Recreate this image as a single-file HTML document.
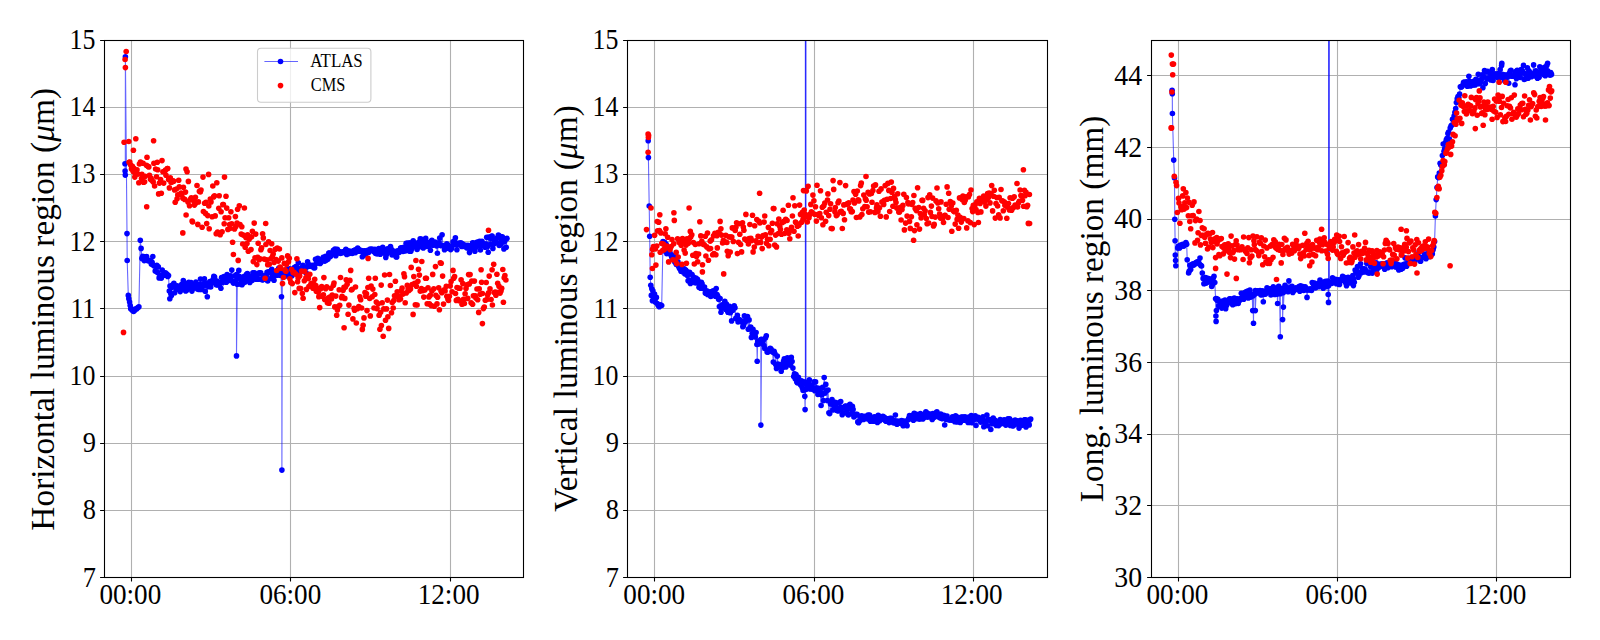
<!DOCTYPE html>
<html lang="en"><head><meta charset="utf-8"><title>Luminous region</title>
<style>html,body{margin:0;padding:0;background:#fff}body{width:1600px;height:640px;overflow:hidden}svg{display:block}text{font-family:"Liberation Serif","DejaVu Serif",serif;fill:#000}</style></head>
<body>
<svg width="1600" height="640" viewBox="0 0 1600 640">
<rect width="1600" height="640" fill="#fff"/>
<g>
<clipPath id="c0"><rect x="104.5" y="40.5" width="419" height="537"/></clipPath>
<path d="M131.5 40.5V577.5M290.5 40.5V577.5M450.5 40.5V577.5M104.5 577.5H523.5M104.5 510.5H523.5M104.5 443.5H523.5M104.5 376.5H523.5M104.5 308.5H523.5M104.5 241.5H523.5M104.5 174.5H523.5M104.5 107.5H523.5M104.5 40.5H523.5" stroke="#b0b0b0" stroke-width="1.1" fill="none"/>
<g clip-path="url(#c0)">
<path d="M125 163.7 L125.1 171.1 L125.3 175.1 L125.4 56.8 L127 233.6 L127.2 260.5 L128.3 295.4 L128.8 298.8 L129.6 302.1 L130.2 305.5 L130.7 308.8 L131.5 308.8 L132.3 310.2 L133.6 311.5 L134.7 310.2 L135.8 308.8 L136.8 308.8 L137.9 307.5 L138.9 306.8 L140.3 240.3 L141.1 248.4 L141.9 258.4 L142.7 256.4 L143.5 257.5 L144.2 260.6 L145 256.8 L145.8 259.5 L146.6 256.5 L147.4 260.1 L148.1 260.7 L148.9 260.4 L149.7 260.8 L150.5 261 L151.3 264.1 L152.1 262.3 L152.8 256.5 L153.6 265.6 L154.4 265.7 L155.2 271.1 L156 266.5 L156.8 265.3 L157.5 272.4 L158.3 266.8 L159.1 277.9 L159.9 275.1 L160.7 275.5 L161.4 278.1 L162.2 270 L163 275.2 L163.8 273.9 L164.6 275.2 L165.4 272.7 L166.1 275.3 L166.9 274 L167.7 276.4 L168.5 275.5 L169.3 291 L169.8 298.8 L170 286.1 L170.8 293.5 L171.4 295.4 L171.6 287.6 L172.4 285.1 L173.2 285 L173.9 283.2 L174.7 292.7 L175.5 287.5 L176.3 288.9 L177.1 285.9 L177.9 289.2 L178.7 288.1 L179.4 288 L180.2 291.6 L181 285.5 L181.8 284.4 L182.6 288.6 L183.3 280.6 L184.1 286.9 L184.9 286 L185.7 290.9 L186.5 283.6 L187.2 289.8 L188 285.4 L188.8 282.4 L189.6 285 L190.4 288.5 L191.1 282.5 L191.9 291.1 L192.7 288.8 L193.5 284.8 L194.3 286.6 L195.1 286.9 L195.9 282.1 L196.6 284.6 L197.4 288.9 L198.2 284.8 L199 289.4 L199.8 284.6 L200.5 279.1 L201.3 289.4 L202.1 285.5 L202.9 286.3 L203.7 283.6 L204.4 278.9 L205.2 291.2 L206 283.4 L206.8 285.5 L207.3 296.8 L207.6 283.2 L208.3 286.6 L209.1 284 L209.9 281.5 L210.7 287 L211.5 283 L212.3 282.7 L213 279.5 L213.8 276.4 L214.6 277 L215.4 281.1 L216.2 284.7 L217 281 L217.7 284.9 L218.5 283.8 L219.3 284.7 L220.1 282.2 L220.9 288.3 L221.6 277.5 L222.4 282.8 L223.2 282 L224 276.5 L224.8 278.9 L225.5 281.2 L226.3 282.2 L227.1 274.5 L227.9 279.3 L228.7 279.1 L229.4 280.4 L230.2 275.7 L231 277.2 L231.8 270.1 L232.6 281.2 L233.4 283.1 L234.2 282.5 L234.9 275.8 L235.7 280.8 L236.5 274.6 L236.5 355.9 L237.3 284.3 L238.1 278.1 L238.8 270.4 L239.6 276.5 L240.4 284.1 L241.2 281.2 L242 284.8 L242.7 278.5 L243.5 282.8 L244.3 276.3 L245.1 281.9 L245.9 276.9 L246.6 274.3 L247.4 273.5 L248.2 278.7 L249 280 L249.8 282.4 L250.6 278.3 L251.3 276.4 L252.1 280.5 L252.9 272.8 L253.7 276.6 L254.5 272.8 L255.3 275.5 L256 279.2 L256.8 276.9 L257.6 278.8 L258.4 279.3 L259.2 272.9 L259.9 273.5 L260.7 272.7 L261.5 278.9 L262.3 280 L263.1 279.6 L263.8 275.7 L264.6 276.4 L265.4 276.1 L266.2 276 L267 272.4 L267.7 281 L268.5 271.7 L269.3 272.7 L270.1 272.5 L270.9 278.5 L271.7 269.4 L272.5 275.9 L273.2 273.6 L274 280.3 L274.8 271.6 L275.6 275.5 L276.4 272.6 L277.1 275.2 L277.9 270.1 L278.7 268.4 L279.5 268.9 L280.3 275.5 L281 274 L281.5 296.8 L281.8 272 L281.9 470.1 L282.3 275.2 L282.6 274.5 L283.4 272.3 L284.2 272 L285 275.7 L285.7 273.5 L286.5 270.1 L287.3 269.7 L288.1 276.3 L288.9 272.6 L289.7 268.9 L290.4 270.6 L291.2 273 L292 275.8 L292.8 270.7 L293.6 269.5 L294.3 267.5 L295.1 271.7 L295.9 266.6 L296.7 273 L297.5 267.7 L298.3 262.7 L299 269.5 L299.8 271.8 L300.6 271.2 L301.4 269.9 L302.2 267.9 L302.9 265.4 L303.7 267.1 L304.5 271.5 L305.3 267.9 L306.1 272.9 L306.8 266.9 L307.6 261.9 L308.4 265.6 L309.2 264.8 L310 266.2 L310.8 265.8 L311.6 266.5 L312.3 265.2 L313.1 265.8 L313.9 267.7 L314.7 267.8 L315.5 259.3 L316.2 263.3 L317 261.5 L317.8 258.4 L318.6 262.8 L319.4 262.5 L320.1 263.4 L320.9 262.5 L321.7 260.7 L322.5 258.7 L323.3 257.4 L324 258.8 L324.8 261.1 L325.6 256.4 L326.4 260.1 L327.2 258.9 L328 258.9 L328.8 253.1 L329.5 253.1 L330.3 256.6 L331.1 255.6 L331.9 253.4 L332.7 252.5 L333.4 250.3 L334.2 252.1 L335 249.1 L335.8 255.8 L336.6 253.2 L337.3 249.2 L338.1 252.7 L338.9 251.2 L339.7 252.7 L340.5 253.4 L341.2 252 L342 252.7 L342.8 252.1 L343.6 252.5 L344.4 251.3 L345.2 250.7 L345.9 249.3 L346.7 254.4 L347.5 252.3 L348.3 250.9 L349.1 253.6 L349.9 252.5 L350.6 251.4 L351.4 252.2 L352.2 253.5 L353 252.1 L353.8 250.5 L354.5 250.3 L355.3 252.7 L356.1 249.6 L356.9 251.3 L357.7 248.1 L358.4 249.2 L359.2 251.2 L360 250.5 L360.8 250.3 L361.6 250.7 L362.3 256.8 L363.1 252.7 L363.9 251.1 L364.7 250.7 L365.5 255 L366.3 251.7 L367.1 250.9 L367.8 250.2 L368.6 252.5 L369.4 251 L370.2 249 L371 249.8 L371.7 249.3 L372.5 249.4 L373.3 251.1 L374.1 251.8 L374.9 249.2 L375.6 253.4 L376.4 252.2 L377.2 254 L378 253.3 L378.8 248.5 L379.5 249.8 L380.3 254.3 L381.1 249.6 L381.9 249 L382.7 247.3 L383.5 251.5 L384.2 250.9 L385 253.5 L385.8 257.4 L386.6 254.2 L387.4 248.8 L388.2 252.3 L388.9 250.6 L389.7 251.3 L390.5 246.6 L391.3 249.2 L392.1 255 L392.8 253.2 L393.6 251.1 L394.4 251.9 L395.2 254.2 L396 256.8 L396.7 256.9 L397.5 250.8 L398.3 251.7 L399.1 252.5 L399.9 250.3 L400.6 248 L401.4 247.9 L402.2 250.3 L403 251.5 L403.8 247.3 L404.6 248.3 L405.4 251 L406.1 243.2 L406.9 247.7 L407.7 243.1 L408.5 246.9 L409.3 251.1 L410 242.7 L410.8 251.2 L411.6 249.1 L412.4 245.3 L413.2 240.8 L413.9 242.9 L414.7 246.6 L415.5 243.8 L416.3 243.5 L417.1 249.5 L417.9 244.2 L418.6 242.3 L419.4 246.8 L420.2 238.8 L421 245.9 L421.8 239.4 L422.6 241.5 L423.3 247.9 L424.1 244.6 L424.9 245.9 L425.7 238.4 L426.5 246.5 L427.2 242.3 L428 246.2 L428.8 246.3 L429.6 244.5 L430.4 250.3 L431.2 241.2 L431.9 240.2 L432.7 245.3 L433.5 244.1 L434.3 243.7 L435.1 242.1 L435.8 242.8 L436.6 246 L437.4 253.3 L438.2 244.1 L439 242.9 L439.7 238.1 L440.5 245.3 L441.3 245.7 L442.1 234.8 L442.9 245.5 L443.7 245.8 L444.5 249.8 L445.2 247 L446 245.7 L446.8 243.9 L447.6 244.8 L448.4 248.5 L449.1 248 L449.9 247.2 L450.7 249.6 L451.5 248.5 L452.3 245.8 L453 241.9 L453.8 242.9 L454.6 240.8 L455.4 237.8 L456.2 244.7 L456.9 249.8 L457.7 244.8 L458.5 243.3 L459.3 243.3 L460.1 243.6 L460.9 242.7 L461.7 246.4 L462.4 243.9 L463.2 245.3 L464 245.1 L464.8 246.6 L465.6 245.4 L466.3 246.7 L467.1 247.9 L467.9 245.4 L468.7 246.1 L469.5 252.6 L470.2 249.3 L471 246.6 L471.8 246.3 L472.6 242.9 L473.4 248.2 L474.1 243 L474.9 251.2 L475.7 247.4 L476.5 245 L477.3 242.1 L478.1 242.9 L478.8 245.5 L479.6 241.2 L480.4 250 L481.2 245.3 L482 241.2 L482.8 245.1 L483.5 244.6 L484.3 244.1 L485.1 247.2 L485.9 244 L486.7 237.2 L487.4 246.7 L488.2 252.2 L489 237.1 L489.8 237.9 L490.6 244.1 L491.3 238.5 L491.7 236.3 L492.1 236.1 L492.9 248.4 L493.7 244.1 L494.5 240 L495.2 242.5 L496 242.4 L496.8 238.1 L497.6 243 L498.4 235.1 L499.2 245.5 L500 236.3 L500.7 244.6 L501 236.9 L501.5 239.6 L502.3 236.7 L503.1 241.8 L503.9 248.9 L504.6 241.4 L505.4 239.2 L506.2 247.2 L507 238.4" stroke="#0000ff" stroke-opacity="0.6" stroke-width="1.1" fill="none" stroke-linejoin="round"/>
<g fill="#0000ff"><circle cx="125" cy="163.7" r="2.8"/><circle cx="125.1" cy="171.1" r="2.8"/><circle cx="125.3" cy="175.1" r="2.8"/><circle cx="125.4" cy="56.8" r="2.8"/><circle cx="127" cy="233.6" r="2.8"/><circle cx="127.2" cy="260.5" r="2.8"/><circle cx="128.3" cy="295.4" r="2.8"/><circle cx="128.8" cy="298.8" r="2.8"/><circle cx="129.6" cy="302.1" r="2.8"/><circle cx="130.2" cy="305.5" r="2.8"/><circle cx="130.7" cy="308.8" r="2.8"/><circle cx="131.5" cy="308.8" r="2.8"/><circle cx="132.3" cy="310.2" r="2.8"/><circle cx="133.6" cy="311.5" r="2.8"/><circle cx="134.7" cy="310.2" r="2.8"/><circle cx="135.8" cy="308.8" r="2.8"/><circle cx="136.8" cy="308.8" r="2.8"/><circle cx="137.9" cy="307.5" r="2.8"/><circle cx="138.9" cy="306.8" r="2.8"/><circle cx="140.3" cy="240.3" r="2.8"/><circle cx="141.1" cy="248.4" r="2.8"/><circle cx="141.9" cy="258.4" r="2.8"/><circle cx="142.7" cy="256.4" r="2.8"/><circle cx="143.5" cy="257.5" r="2.8"/><circle cx="144.2" cy="260.6" r="2.8"/><circle cx="145" cy="256.8" r="2.8"/><circle cx="145.8" cy="259.5" r="2.8"/><circle cx="146.6" cy="256.5" r="2.8"/><circle cx="147.4" cy="260.1" r="2.8"/><circle cx="148.1" cy="260.7" r="2.8"/><circle cx="148.9" cy="260.4" r="2.8"/><circle cx="149.7" cy="260.8" r="2.8"/><circle cx="150.5" cy="261" r="2.8"/><circle cx="151.3" cy="264.1" r="2.8"/><circle cx="152.1" cy="262.3" r="2.8"/><circle cx="152.8" cy="256.5" r="2.8"/><circle cx="153.6" cy="265.6" r="2.8"/><circle cx="154.4" cy="265.7" r="2.8"/><circle cx="155.2" cy="271.1" r="2.8"/><circle cx="156" cy="266.5" r="2.8"/><circle cx="156.8" cy="265.3" r="2.8"/><circle cx="157.5" cy="272.4" r="2.8"/><circle cx="158.3" cy="266.8" r="2.8"/><circle cx="159.1" cy="277.9" r="2.8"/><circle cx="159.9" cy="275.1" r="2.8"/><circle cx="160.7" cy="275.5" r="2.8"/><circle cx="161.4" cy="278.1" r="2.8"/><circle cx="162.2" cy="270" r="2.8"/><circle cx="163" cy="275.2" r="2.8"/><circle cx="163.8" cy="273.9" r="2.8"/><circle cx="164.6" cy="275.2" r="2.8"/><circle cx="165.4" cy="272.7" r="2.8"/><circle cx="166.1" cy="275.3" r="2.8"/><circle cx="166.9" cy="274" r="2.8"/><circle cx="167.7" cy="276.4" r="2.8"/><circle cx="168.5" cy="275.5" r="2.8"/><circle cx="169.3" cy="291" r="2.8"/><circle cx="169.8" cy="298.8" r="2.8"/><circle cx="170" cy="286.1" r="2.8"/><circle cx="170.8" cy="293.5" r="2.8"/><circle cx="171.4" cy="295.4" r="2.8"/><circle cx="171.6" cy="287.6" r="2.8"/><circle cx="172.4" cy="285.1" r="2.8"/><circle cx="173.2" cy="285" r="2.8"/><circle cx="173.9" cy="283.2" r="2.8"/><circle cx="174.7" cy="292.7" r="2.8"/><circle cx="175.5" cy="287.5" r="2.8"/><circle cx="176.3" cy="288.9" r="2.8"/><circle cx="177.1" cy="285.9" r="2.8"/><circle cx="177.9" cy="289.2" r="2.8"/><circle cx="178.7" cy="288.1" r="2.8"/><circle cx="179.4" cy="288" r="2.8"/><circle cx="180.2" cy="291.6" r="2.8"/><circle cx="181" cy="285.5" r="2.8"/><circle cx="181.8" cy="284.4" r="2.8"/><circle cx="182.6" cy="288.6" r="2.8"/><circle cx="183.3" cy="280.6" r="2.8"/><circle cx="184.1" cy="286.9" r="2.8"/><circle cx="184.9" cy="286" r="2.8"/><circle cx="185.7" cy="290.9" r="2.8"/><circle cx="186.5" cy="283.6" r="2.8"/><circle cx="187.2" cy="289.8" r="2.8"/><circle cx="188" cy="285.4" r="2.8"/><circle cx="188.8" cy="282.4" r="2.8"/><circle cx="189.6" cy="285" r="2.8"/><circle cx="190.4" cy="288.5" r="2.8"/><circle cx="191.1" cy="282.5" r="2.8"/><circle cx="191.9" cy="291.1" r="2.8"/><circle cx="192.7" cy="288.8" r="2.8"/><circle cx="193.5" cy="284.8" r="2.8"/><circle cx="194.3" cy="286.6" r="2.8"/><circle cx="195.1" cy="286.9" r="2.8"/><circle cx="195.9" cy="282.1" r="2.8"/><circle cx="196.6" cy="284.6" r="2.8"/><circle cx="197.4" cy="288.9" r="2.8"/><circle cx="198.2" cy="284.8" r="2.8"/><circle cx="199" cy="289.4" r="2.8"/><circle cx="199.8" cy="284.6" r="2.8"/><circle cx="200.5" cy="279.1" r="2.8"/><circle cx="201.3" cy="289.4" r="2.8"/><circle cx="202.1" cy="285.5" r="2.8"/><circle cx="202.9" cy="286.3" r="2.8"/><circle cx="203.7" cy="283.6" r="2.8"/><circle cx="204.4" cy="278.9" r="2.8"/><circle cx="205.2" cy="291.2" r="2.8"/><circle cx="206" cy="283.4" r="2.8"/><circle cx="206.8" cy="285.5" r="2.8"/><circle cx="207.3" cy="296.8" r="2.8"/><circle cx="207.6" cy="283.2" r="2.8"/><circle cx="208.3" cy="286.6" r="2.8"/><circle cx="209.1" cy="284" r="2.8"/><circle cx="209.9" cy="281.5" r="2.8"/><circle cx="210.7" cy="287" r="2.8"/><circle cx="211.5" cy="283" r="2.8"/><circle cx="212.3" cy="282.7" r="2.8"/><circle cx="213" cy="279.5" r="2.8"/><circle cx="213.8" cy="276.4" r="2.8"/><circle cx="214.6" cy="277" r="2.8"/><circle cx="215.4" cy="281.1" r="2.8"/><circle cx="216.2" cy="284.7" r="2.8"/><circle cx="217" cy="281" r="2.8"/><circle cx="217.7" cy="284.9" r="2.8"/><circle cx="218.5" cy="283.8" r="2.8"/><circle cx="219.3" cy="284.7" r="2.8"/><circle cx="220.1" cy="282.2" r="2.8"/><circle cx="220.9" cy="288.3" r="2.8"/><circle cx="221.6" cy="277.5" r="2.8"/><circle cx="222.4" cy="282.8" r="2.8"/><circle cx="223.2" cy="282" r="2.8"/><circle cx="224" cy="276.5" r="2.8"/><circle cx="224.8" cy="278.9" r="2.8"/><circle cx="225.5" cy="281.2" r="2.8"/><circle cx="226.3" cy="282.2" r="2.8"/><circle cx="227.1" cy="274.5" r="2.8"/><circle cx="227.9" cy="279.3" r="2.8"/><circle cx="228.7" cy="279.1" r="2.8"/><circle cx="229.4" cy="280.4" r="2.8"/><circle cx="230.2" cy="275.7" r="2.8"/><circle cx="231" cy="277.2" r="2.8"/><circle cx="231.8" cy="270.1" r="2.8"/><circle cx="232.6" cy="281.2" r="2.8"/><circle cx="233.4" cy="283.1" r="2.8"/><circle cx="234.2" cy="282.5" r="2.8"/><circle cx="234.9" cy="275.8" r="2.8"/><circle cx="235.7" cy="280.8" r="2.8"/><circle cx="236.5" cy="274.6" r="2.8"/><circle cx="236.5" cy="355.9" r="2.8"/><circle cx="237.3" cy="284.3" r="2.8"/><circle cx="238.1" cy="278.1" r="2.8"/><circle cx="238.8" cy="270.4" r="2.8"/><circle cx="239.6" cy="276.5" r="2.8"/><circle cx="240.4" cy="284.1" r="2.8"/><circle cx="241.2" cy="281.2" r="2.8"/><circle cx="242" cy="284.8" r="2.8"/><circle cx="242.7" cy="278.5" r="2.8"/><circle cx="243.5" cy="282.8" r="2.8"/><circle cx="244.3" cy="276.3" r="2.8"/><circle cx="245.1" cy="281.9" r="2.8"/><circle cx="245.9" cy="276.9" r="2.8"/><circle cx="246.6" cy="274.3" r="2.8"/><circle cx="247.4" cy="273.5" r="2.8"/><circle cx="248.2" cy="278.7" r="2.8"/><circle cx="249" cy="280" r="2.8"/><circle cx="249.8" cy="282.4" r="2.8"/><circle cx="250.6" cy="278.3" r="2.8"/><circle cx="251.3" cy="276.4" r="2.8"/><circle cx="252.1" cy="280.5" r="2.8"/><circle cx="252.9" cy="272.8" r="2.8"/><circle cx="253.7" cy="276.6" r="2.8"/><circle cx="254.5" cy="272.8" r="2.8"/><circle cx="255.3" cy="275.5" r="2.8"/><circle cx="256" cy="279.2" r="2.8"/><circle cx="256.8" cy="276.9" r="2.8"/><circle cx="257.6" cy="278.8" r="2.8"/><circle cx="258.4" cy="279.3" r="2.8"/><circle cx="259.2" cy="272.9" r="2.8"/><circle cx="259.9" cy="273.5" r="2.8"/><circle cx="260.7" cy="272.7" r="2.8"/><circle cx="261.5" cy="278.9" r="2.8"/><circle cx="262.3" cy="280" r="2.8"/><circle cx="263.1" cy="279.6" r="2.8"/><circle cx="263.8" cy="275.7" r="2.8"/><circle cx="264.6" cy="276.4" r="2.8"/><circle cx="265.4" cy="276.1" r="2.8"/><circle cx="266.2" cy="276" r="2.8"/><circle cx="267" cy="272.4" r="2.8"/><circle cx="267.7" cy="281" r="2.8"/><circle cx="268.5" cy="271.7" r="2.8"/><circle cx="269.3" cy="272.7" r="2.8"/><circle cx="270.1" cy="272.5" r="2.8"/><circle cx="270.9" cy="278.5" r="2.8"/><circle cx="271.7" cy="269.4" r="2.8"/><circle cx="272.5" cy="275.9" r="2.8"/><circle cx="273.2" cy="273.6" r="2.8"/><circle cx="274" cy="280.3" r="2.8"/><circle cx="274.8" cy="271.6" r="2.8"/><circle cx="275.6" cy="275.5" r="2.8"/><circle cx="276.4" cy="272.6" r="2.8"/><circle cx="277.1" cy="275.2" r="2.8"/><circle cx="277.9" cy="270.1" r="2.8"/><circle cx="278.7" cy="268.4" r="2.8"/><circle cx="279.5" cy="268.9" r="2.8"/><circle cx="280.3" cy="275.5" r="2.8"/><circle cx="281" cy="274" r="2.8"/><circle cx="281.5" cy="296.8" r="2.8"/><circle cx="281.8" cy="272" r="2.8"/><circle cx="281.9" cy="470.1" r="2.8"/><circle cx="282.3" cy="275.2" r="2.8"/><circle cx="282.6" cy="274.5" r="2.8"/><circle cx="283.4" cy="272.3" r="2.8"/><circle cx="284.2" cy="272" r="2.8"/><circle cx="285" cy="275.7" r="2.8"/><circle cx="285.7" cy="273.5" r="2.8"/><circle cx="286.5" cy="270.1" r="2.8"/><circle cx="287.3" cy="269.7" r="2.8"/><circle cx="288.1" cy="276.3" r="2.8"/><circle cx="288.9" cy="272.6" r="2.8"/><circle cx="289.7" cy="268.9" r="2.8"/><circle cx="290.4" cy="270.6" r="2.8"/><circle cx="291.2" cy="273" r="2.8"/><circle cx="292" cy="275.8" r="2.8"/><circle cx="292.8" cy="270.7" r="2.8"/><circle cx="293.6" cy="269.5" r="2.8"/><circle cx="294.3" cy="267.5" r="2.8"/><circle cx="295.1" cy="271.7" r="2.8"/><circle cx="295.9" cy="266.6" r="2.8"/><circle cx="296.7" cy="273" r="2.8"/><circle cx="297.5" cy="267.7" r="2.8"/><circle cx="298.3" cy="262.7" r="2.8"/><circle cx="299" cy="269.5" r="2.8"/><circle cx="299.8" cy="271.8" r="2.8"/><circle cx="300.6" cy="271.2" r="2.8"/><circle cx="301.4" cy="269.9" r="2.8"/><circle cx="302.2" cy="267.9" r="2.8"/><circle cx="302.9" cy="265.4" r="2.8"/><circle cx="303.7" cy="267.1" r="2.8"/><circle cx="304.5" cy="271.5" r="2.8"/><circle cx="305.3" cy="267.9" r="2.8"/><circle cx="306.1" cy="272.9" r="2.8"/><circle cx="306.8" cy="266.9" r="2.8"/><circle cx="307.6" cy="261.9" r="2.8"/><circle cx="308.4" cy="265.6" r="2.8"/><circle cx="309.2" cy="264.8" r="2.8"/><circle cx="310" cy="266.2" r="2.8"/><circle cx="310.8" cy="265.8" r="2.8"/><circle cx="311.6" cy="266.5" r="2.8"/><circle cx="312.3" cy="265.2" r="2.8"/><circle cx="313.1" cy="265.8" r="2.8"/><circle cx="313.9" cy="267.7" r="2.8"/><circle cx="314.7" cy="267.8" r="2.8"/><circle cx="315.5" cy="259.3" r="2.8"/><circle cx="316.2" cy="263.3" r="2.8"/><circle cx="317" cy="261.5" r="2.8"/><circle cx="317.8" cy="258.4" r="2.8"/><circle cx="318.6" cy="262.8" r="2.8"/><circle cx="319.4" cy="262.5" r="2.8"/><circle cx="320.1" cy="263.4" r="2.8"/><circle cx="320.9" cy="262.5" r="2.8"/><circle cx="321.7" cy="260.7" r="2.8"/><circle cx="322.5" cy="258.7" r="2.8"/><circle cx="323.3" cy="257.4" r="2.8"/><circle cx="324" cy="258.8" r="2.8"/><circle cx="324.8" cy="261.1" r="2.8"/><circle cx="325.6" cy="256.4" r="2.8"/><circle cx="326.4" cy="260.1" r="2.8"/><circle cx="327.2" cy="258.9" r="2.8"/><circle cx="328" cy="258.9" r="2.8"/><circle cx="328.8" cy="253.1" r="2.8"/><circle cx="329.5" cy="253.1" r="2.8"/><circle cx="330.3" cy="256.6" r="2.8"/><circle cx="331.1" cy="255.6" r="2.8"/><circle cx="331.9" cy="253.4" r="2.8"/><circle cx="332.7" cy="252.5" r="2.8"/><circle cx="333.4" cy="250.3" r="2.8"/><circle cx="334.2" cy="252.1" r="2.8"/><circle cx="335" cy="249.1" r="2.8"/><circle cx="335.8" cy="255.8" r="2.8"/><circle cx="336.6" cy="253.2" r="2.8"/><circle cx="337.3" cy="249.2" r="2.8"/><circle cx="338.1" cy="252.7" r="2.8"/><circle cx="338.9" cy="251.2" r="2.8"/><circle cx="339.7" cy="252.7" r="2.8"/><circle cx="340.5" cy="253.4" r="2.8"/><circle cx="341.2" cy="252" r="2.8"/><circle cx="342" cy="252.7" r="2.8"/><circle cx="342.8" cy="252.1" r="2.8"/><circle cx="343.6" cy="252.5" r="2.8"/><circle cx="344.4" cy="251.3" r="2.8"/><circle cx="345.2" cy="250.7" r="2.8"/><circle cx="345.9" cy="249.3" r="2.8"/><circle cx="346.7" cy="254.4" r="2.8"/><circle cx="347.5" cy="252.3" r="2.8"/><circle cx="348.3" cy="250.9" r="2.8"/><circle cx="349.1" cy="253.6" r="2.8"/><circle cx="349.9" cy="252.5" r="2.8"/><circle cx="350.6" cy="251.4" r="2.8"/><circle cx="351.4" cy="252.2" r="2.8"/><circle cx="352.2" cy="253.5" r="2.8"/><circle cx="353" cy="252.1" r="2.8"/><circle cx="353.8" cy="250.5" r="2.8"/><circle cx="354.5" cy="250.3" r="2.8"/><circle cx="355.3" cy="252.7" r="2.8"/><circle cx="356.1" cy="249.6" r="2.8"/><circle cx="356.9" cy="251.3" r="2.8"/><circle cx="357.7" cy="248.1" r="2.8"/><circle cx="358.4" cy="249.2" r="2.8"/><circle cx="359.2" cy="251.2" r="2.8"/><circle cx="360" cy="250.5" r="2.8"/><circle cx="360.8" cy="250.3" r="2.8"/><circle cx="361.6" cy="250.7" r="2.8"/><circle cx="362.3" cy="256.8" r="2.8"/><circle cx="363.1" cy="252.7" r="2.8"/><circle cx="363.9" cy="251.1" r="2.8"/><circle cx="364.7" cy="250.7" r="2.8"/><circle cx="365.5" cy="255" r="2.8"/><circle cx="366.3" cy="251.7" r="2.8"/><circle cx="367.1" cy="250.9" r="2.8"/><circle cx="367.8" cy="250.2" r="2.8"/><circle cx="368.6" cy="252.5" r="2.8"/><circle cx="369.4" cy="251" r="2.8"/><circle cx="370.2" cy="249" r="2.8"/><circle cx="371" cy="249.8" r="2.8"/><circle cx="371.7" cy="249.3" r="2.8"/><circle cx="372.5" cy="249.4" r="2.8"/><circle cx="373.3" cy="251.1" r="2.8"/><circle cx="374.1" cy="251.8" r="2.8"/><circle cx="374.9" cy="249.2" r="2.8"/><circle cx="375.6" cy="253.4" r="2.8"/><circle cx="376.4" cy="252.2" r="2.8"/><circle cx="377.2" cy="254" r="2.8"/><circle cx="378" cy="253.3" r="2.8"/><circle cx="378.8" cy="248.5" r="2.8"/><circle cx="379.5" cy="249.8" r="2.8"/><circle cx="380.3" cy="254.3" r="2.8"/><circle cx="381.1" cy="249.6" r="2.8"/><circle cx="381.9" cy="249" r="2.8"/><circle cx="382.7" cy="247.3" r="2.8"/><circle cx="383.5" cy="251.5" r="2.8"/><circle cx="384.2" cy="250.9" r="2.8"/><circle cx="385" cy="253.5" r="2.8"/><circle cx="385.8" cy="257.4" r="2.8"/><circle cx="386.6" cy="254.2" r="2.8"/><circle cx="387.4" cy="248.8" r="2.8"/><circle cx="388.2" cy="252.3" r="2.8"/><circle cx="388.9" cy="250.6" r="2.8"/><circle cx="389.7" cy="251.3" r="2.8"/><circle cx="390.5" cy="246.6" r="2.8"/><circle cx="391.3" cy="249.2" r="2.8"/><circle cx="392.1" cy="255" r="2.8"/><circle cx="392.8" cy="253.2" r="2.8"/><circle cx="393.6" cy="251.1" r="2.8"/><circle cx="394.4" cy="251.9" r="2.8"/><circle cx="395.2" cy="254.2" r="2.8"/><circle cx="396" cy="256.8" r="2.8"/><circle cx="396.7" cy="256.9" r="2.8"/><circle cx="397.5" cy="250.8" r="2.8"/><circle cx="398.3" cy="251.7" r="2.8"/><circle cx="399.1" cy="252.5" r="2.8"/><circle cx="399.9" cy="250.3" r="2.8"/><circle cx="400.6" cy="248" r="2.8"/><circle cx="401.4" cy="247.9" r="2.8"/><circle cx="402.2" cy="250.3" r="2.8"/><circle cx="403" cy="251.5" r="2.8"/><circle cx="403.8" cy="247.3" r="2.8"/><circle cx="404.6" cy="248.3" r="2.8"/><circle cx="405.4" cy="251" r="2.8"/><circle cx="406.1" cy="243.2" r="2.8"/><circle cx="406.9" cy="247.7" r="2.8"/><circle cx="407.7" cy="243.1" r="2.8"/><circle cx="408.5" cy="246.9" r="2.8"/><circle cx="409.3" cy="251.1" r="2.8"/><circle cx="410" cy="242.7" r="2.8"/><circle cx="410.8" cy="251.2" r="2.8"/><circle cx="411.6" cy="249.1" r="2.8"/><circle cx="412.4" cy="245.3" r="2.8"/><circle cx="413.2" cy="240.8" r="2.8"/><circle cx="413.9" cy="242.9" r="2.8"/><circle cx="414.7" cy="246.6" r="2.8"/><circle cx="415.5" cy="243.8" r="2.8"/><circle cx="416.3" cy="243.5" r="2.8"/><circle cx="417.1" cy="249.5" r="2.8"/><circle cx="417.9" cy="244.2" r="2.8"/><circle cx="418.6" cy="242.3" r="2.8"/><circle cx="419.4" cy="246.8" r="2.8"/><circle cx="420.2" cy="238.8" r="2.8"/><circle cx="421" cy="245.9" r="2.8"/><circle cx="421.8" cy="239.4" r="2.8"/><circle cx="422.6" cy="241.5" r="2.8"/><circle cx="423.3" cy="247.9" r="2.8"/><circle cx="424.1" cy="244.6" r="2.8"/><circle cx="424.9" cy="245.9" r="2.8"/><circle cx="425.7" cy="238.4" r="2.8"/><circle cx="426.5" cy="246.5" r="2.8"/><circle cx="427.2" cy="242.3" r="2.8"/><circle cx="428" cy="246.2" r="2.8"/><circle cx="428.8" cy="246.3" r="2.8"/><circle cx="429.6" cy="244.5" r="2.8"/><circle cx="430.4" cy="250.3" r="2.8"/><circle cx="431.2" cy="241.2" r="2.8"/><circle cx="431.9" cy="240.2" r="2.8"/><circle cx="432.7" cy="245.3" r="2.8"/><circle cx="433.5" cy="244.1" r="2.8"/><circle cx="434.3" cy="243.7" r="2.8"/><circle cx="435.1" cy="242.1" r="2.8"/><circle cx="435.8" cy="242.8" r="2.8"/><circle cx="436.6" cy="246" r="2.8"/><circle cx="437.4" cy="253.3" r="2.8"/><circle cx="438.2" cy="244.1" r="2.8"/><circle cx="439" cy="242.9" r="2.8"/><circle cx="439.7" cy="238.1" r="2.8"/><circle cx="440.5" cy="245.3" r="2.8"/><circle cx="441.3" cy="245.7" r="2.8"/><circle cx="442.1" cy="234.8" r="2.8"/><circle cx="442.9" cy="245.5" r="2.8"/><circle cx="443.7" cy="245.8" r="2.8"/><circle cx="444.5" cy="249.8" r="2.8"/><circle cx="445.2" cy="247" r="2.8"/><circle cx="446" cy="245.7" r="2.8"/><circle cx="446.8" cy="243.9" r="2.8"/><circle cx="447.6" cy="244.8" r="2.8"/><circle cx="448.4" cy="248.5" r="2.8"/><circle cx="449.1" cy="248" r="2.8"/><circle cx="449.9" cy="247.2" r="2.8"/><circle cx="450.7" cy="249.6" r="2.8"/><circle cx="451.5" cy="248.5" r="2.8"/><circle cx="452.3" cy="245.8" r="2.8"/><circle cx="453" cy="241.9" r="2.8"/><circle cx="453.8" cy="242.9" r="2.8"/><circle cx="454.6" cy="240.8" r="2.8"/><circle cx="455.4" cy="237.8" r="2.8"/><circle cx="456.2" cy="244.7" r="2.8"/><circle cx="456.9" cy="249.8" r="2.8"/><circle cx="457.7" cy="244.8" r="2.8"/><circle cx="458.5" cy="243.3" r="2.8"/><circle cx="459.3" cy="243.3" r="2.8"/><circle cx="460.1" cy="243.6" r="2.8"/><circle cx="460.9" cy="242.7" r="2.8"/><circle cx="461.7" cy="246.4" r="2.8"/><circle cx="462.4" cy="243.9" r="2.8"/><circle cx="463.2" cy="245.3" r="2.8"/><circle cx="464" cy="245.1" r="2.8"/><circle cx="464.8" cy="246.6" r="2.8"/><circle cx="465.6" cy="245.4" r="2.8"/><circle cx="466.3" cy="246.7" r="2.8"/><circle cx="467.1" cy="247.9" r="2.8"/><circle cx="467.9" cy="245.4" r="2.8"/><circle cx="468.7" cy="246.1" r="2.8"/><circle cx="469.5" cy="252.6" r="2.8"/><circle cx="470.2" cy="249.3" r="2.8"/><circle cx="471" cy="246.6" r="2.8"/><circle cx="471.8" cy="246.3" r="2.8"/><circle cx="472.6" cy="242.9" r="2.8"/><circle cx="473.4" cy="248.2" r="2.8"/><circle cx="474.1" cy="243" r="2.8"/><circle cx="474.9" cy="251.2" r="2.8"/><circle cx="475.7" cy="247.4" r="2.8"/><circle cx="476.5" cy="245" r="2.8"/><circle cx="477.3" cy="242.1" r="2.8"/><circle cx="478.1" cy="242.9" r="2.8"/><circle cx="478.8" cy="245.5" r="2.8"/><circle cx="479.6" cy="241.2" r="2.8"/><circle cx="480.4" cy="250" r="2.8"/><circle cx="481.2" cy="245.3" r="2.8"/><circle cx="482" cy="241.2" r="2.8"/><circle cx="482.8" cy="245.1" r="2.8"/><circle cx="483.5" cy="244.6" r="2.8"/><circle cx="484.3" cy="244.1" r="2.8"/><circle cx="485.1" cy="247.2" r="2.8"/><circle cx="485.9" cy="244" r="2.8"/><circle cx="486.7" cy="237.2" r="2.8"/><circle cx="487.4" cy="246.7" r="2.8"/><circle cx="488.2" cy="252.2" r="2.8"/><circle cx="489" cy="237.1" r="2.8"/><circle cx="489.8" cy="237.9" r="2.8"/><circle cx="490.6" cy="244.1" r="2.8"/><circle cx="491.3" cy="238.5" r="2.8"/><circle cx="491.7" cy="236.3" r="2.8"/><circle cx="492.1" cy="236.1" r="2.8"/><circle cx="492.9" cy="248.4" r="2.8"/><circle cx="493.7" cy="244.1" r="2.8"/><circle cx="494.5" cy="240" r="2.8"/><circle cx="495.2" cy="242.5" r="2.8"/><circle cx="496" cy="242.4" r="2.8"/><circle cx="496.8" cy="238.1" r="2.8"/><circle cx="497.6" cy="243" r="2.8"/><circle cx="498.4" cy="235.1" r="2.8"/><circle cx="499.2" cy="245.5" r="2.8"/><circle cx="500" cy="236.3" r="2.8"/><circle cx="500.7" cy="244.6" r="2.8"/><circle cx="501" cy="236.9" r="2.8"/><circle cx="501.5" cy="239.6" r="2.8"/><circle cx="502.3" cy="236.7" r="2.8"/><circle cx="503.1" cy="241.8" r="2.8"/><circle cx="503.9" cy="248.9" r="2.8"/><circle cx="504.6" cy="241.4" r="2.8"/><circle cx="505.4" cy="239.2" r="2.8"/><circle cx="506.2" cy="247.2" r="2.8"/><circle cx="507" cy="238.4" r="2.8"/></g>
<g fill="#ff0000"><circle cx="123.5" cy="332.4" r="2.8"/><circle cx="124.1" cy="142.2" r="2.8"/><circle cx="128.8" cy="141.5" r="2.8"/><circle cx="125.4" cy="67.6" r="2.8"/><circle cx="125.1" cy="59.5" r="2.8"/><circle cx="126.2" cy="51.5" r="2.8"/><circle cx="135.8" cy="138.8" r="2.8"/><circle cx="153.6" cy="140.8" r="2.8"/><circle cx="133.4" cy="150.3" r="2.8"/><circle cx="146.7" cy="206.7" r="2.8"/><circle cx="182.8" cy="232.9" r="2.8"/><circle cx="224.5" cy="177.1" r="2.8"/><circle cx="265.7" cy="223.5" r="2.8"/><circle cx="488.5" cy="230.2" r="2.8"/><circle cx="344.1" cy="327.7" r="2.8"/><circle cx="381.4" cy="325.6" r="2.8"/><circle cx="482.4" cy="323.6" r="2.8"/><circle cx="368.1" cy="258.4" r="2.8"/><circle cx="415.9" cy="260.5" r="2.8"/><circle cx="441.2" cy="263.2" r="2.8"/><circle cx="186" cy="169.1" r="2.8"/><circle cx="208.6" cy="174.4" r="2.8"/><circle cx="129.1" cy="162.2" r="2.8"/><circle cx="129.8" cy="162" r="2.8"/><circle cx="130.7" cy="165" r="2.8"/><circle cx="131.5" cy="168.9" r="2.8"/><circle cx="132.4" cy="166.3" r="2.8"/><circle cx="133.2" cy="171.4" r="2.8"/><circle cx="133.8" cy="168.3" r="2.8"/><circle cx="134.8" cy="177.1" r="2.8"/><circle cx="135.3" cy="173.4" r="2.8"/><circle cx="136.1" cy="171.8" r="2.8"/><circle cx="137" cy="169.7" r="2.8"/><circle cx="137.9" cy="174.1" r="2.8"/><circle cx="138.8" cy="182.8" r="2.8"/><circle cx="139.4" cy="164" r="2.8"/><circle cx="140.5" cy="162" r="2.8"/><circle cx="141.5" cy="178.5" r="2.8"/><circle cx="141.9" cy="174.4" r="2.8"/><circle cx="143.1" cy="163.2" r="2.8"/><circle cx="143.5" cy="182.3" r="2.8"/><circle cx="144.6" cy="181.8" r="2.8"/><circle cx="145.2" cy="176.2" r="2.8"/><circle cx="146.4" cy="165.2" r="2.8"/><circle cx="147" cy="157.2" r="2.8"/><circle cx="147.9" cy="166.2" r="2.8"/><circle cx="148.8" cy="166.9" r="2.8"/><circle cx="149.5" cy="175.4" r="2.8"/><circle cx="150.5" cy="179.3" r="2.8"/><circle cx="151.1" cy="178.3" r="2.8"/><circle cx="151.9" cy="180.5" r="2.8"/><circle cx="153.2" cy="181.9" r="2.8"/><circle cx="153.9" cy="163.2" r="2.8"/><circle cx="154.6" cy="186" r="2.8"/><circle cx="155.6" cy="169" r="2.8"/><circle cx="156.5" cy="176.7" r="2.8"/><circle cx="157.3" cy="162.2" r="2.8"/><circle cx="157.7" cy="169.8" r="2.8"/><circle cx="158.6" cy="193.9" r="2.8"/><circle cx="159.4" cy="183.1" r="2.8"/><circle cx="160.6" cy="179.6" r="2.8"/><circle cx="161.3" cy="193.2" r="2.8"/><circle cx="162" cy="160.6" r="2.8"/><circle cx="162.9" cy="171.8" r="2.8"/><circle cx="163.7" cy="183.1" r="2.8"/><circle cx="164.6" cy="171.6" r="2.8"/><circle cx="165.5" cy="170" r="2.8"/><circle cx="166" cy="175.2" r="2.8"/><circle cx="167.3" cy="168.6" r="2.8"/><circle cx="167.7" cy="168.5" r="2.8"/><circle cx="168.6" cy="179.4" r="2.8"/><circle cx="169.4" cy="187.9" r="2.8"/><circle cx="170.3" cy="177.7" r="2.8"/><circle cx="171.1" cy="182.5" r="2.8"/><circle cx="172.2" cy="181.7" r="2.8"/><circle cx="173" cy="180.9" r="2.8"/><circle cx="173.7" cy="181.2" r="2.8"/><circle cx="174.6" cy="189.9" r="2.8"/><circle cx="175.2" cy="202.3" r="2.8"/><circle cx="176.4" cy="189" r="2.8"/><circle cx="177.1" cy="198.8" r="2.8"/><circle cx="177.8" cy="194.9" r="2.8"/><circle cx="178.7" cy="180.2" r="2.8"/><circle cx="179.3" cy="186.9" r="2.8"/><circle cx="180.4" cy="194.3" r="2.8"/><circle cx="181.1" cy="193.1" r="2.8"/><circle cx="181.8" cy="194.7" r="2.8"/><circle cx="182.9" cy="198.2" r="2.8"/><circle cx="183.4" cy="187.2" r="2.8"/><circle cx="184.7" cy="199.4" r="2.8"/><circle cx="185.5" cy="192.1" r="2.8"/><circle cx="186.1" cy="215" r="2.8"/><circle cx="187.1" cy="171.8" r="2.8"/><circle cx="188" cy="201.9" r="2.8"/><circle cx="188.4" cy="181.4" r="2.8"/><circle cx="189.5" cy="205.7" r="2.8"/><circle cx="190.2" cy="199.6" r="2.8"/><circle cx="191.3" cy="197.8" r="2.8"/><circle cx="192.1" cy="221" r="2.8"/><circle cx="192.6" cy="222" r="2.8"/><circle cx="193.8" cy="201.1" r="2.8"/><circle cx="194.4" cy="205.1" r="2.8"/><circle cx="195.4" cy="197.2" r="2.8"/><circle cx="195.9" cy="203.1" r="2.8"/><circle cx="197" cy="185.5" r="2.8"/><circle cx="197.8" cy="224.4" r="2.8"/><circle cx="198.4" cy="201.9" r="2.8"/><circle cx="199.4" cy="191.2" r="2.8"/><circle cx="200.3" cy="192" r="2.8"/><circle cx="201" cy="190.1" r="2.8"/><circle cx="202.1" cy="227.3" r="2.8"/><circle cx="203" cy="177.1" r="2.8"/><circle cx="203.4" cy="211.5" r="2.8"/><circle cx="204.6" cy="203.3" r="2.8"/><circle cx="205.5" cy="213.4" r="2.8"/><circle cx="206" cy="202.2" r="2.8"/><circle cx="206.7" cy="223.6" r="2.8"/><circle cx="207.7" cy="215.6" r="2.8"/><circle cx="208.8" cy="206" r="2.8"/><circle cx="209.2" cy="228.8" r="2.8"/><circle cx="210.3" cy="199.1" r="2.8"/><circle cx="211" cy="201.9" r="2.8"/><circle cx="212.1" cy="216.7" r="2.8"/><circle cx="212.8" cy="186" r="2.8"/><circle cx="213.6" cy="196.9" r="2.8"/><circle cx="214.5" cy="195.8" r="2.8"/><circle cx="215.2" cy="215.9" r="2.8"/><circle cx="216.2" cy="233.7" r="2.8"/><circle cx="216.8" cy="182.7" r="2.8"/><circle cx="217.6" cy="232.1" r="2.8"/><circle cx="218.8" cy="208.3" r="2.8"/><circle cx="219.2" cy="195.8" r="2.8"/><circle cx="220.2" cy="234.7" r="2.8"/><circle cx="221.1" cy="211.8" r="2.8"/><circle cx="222.1" cy="231.8" r="2.8"/><circle cx="222.8" cy="204.6" r="2.8"/><circle cx="223.4" cy="204.5" r="2.8"/><circle cx="224.2" cy="223.7" r="2.8"/><circle cx="225.1" cy="217.8" r="2.8"/><circle cx="226" cy="196.2" r="2.8"/><circle cx="226.7" cy="208.1" r="2.8"/><circle cx="227.9" cy="229.4" r="2.8"/><circle cx="228.7" cy="217.7" r="2.8"/><circle cx="229.6" cy="224.6" r="2.8"/><circle cx="230" cy="228.5" r="2.8"/><circle cx="230.9" cy="211.7" r="2.8"/><circle cx="231.7" cy="223.8" r="2.8"/><circle cx="232.6" cy="242.2" r="2.8"/><circle cx="233.4" cy="254.5" r="2.8"/><circle cx="234.5" cy="228.9" r="2.8"/><circle cx="235.4" cy="216.6" r="2.8"/><circle cx="235.9" cy="226.4" r="2.8"/><circle cx="237" cy="223" r="2.8"/><circle cx="237.6" cy="209.3" r="2.8"/><circle cx="238.2" cy="260.4" r="2.8"/><circle cx="239.3" cy="205.8" r="2.8"/><circle cx="240" cy="224.5" r="2.8"/><circle cx="241.2" cy="234.1" r="2.8"/><circle cx="241.8" cy="226.8" r="2.8"/><circle cx="242.7" cy="244" r="2.8"/><circle cx="243.3" cy="235.1" r="2.8"/><circle cx="244.4" cy="208" r="2.8"/><circle cx="245.2" cy="247.2" r="2.8"/><circle cx="245.9" cy="237.6" r="2.8"/><circle cx="247" cy="243.6" r="2.8"/><circle cx="247.6" cy="234.8" r="2.8"/><circle cx="248.3" cy="251.3" r="2.8"/><circle cx="249.1" cy="239.2" r="2.8"/><circle cx="250.1" cy="237.2" r="2.8"/><circle cx="251" cy="249.6" r="2.8"/><circle cx="251.6" cy="236.7" r="2.8"/><circle cx="252.4" cy="231.2" r="2.8"/><circle cx="253.3" cy="261.6" r="2.8"/><circle cx="254.2" cy="223.1" r="2.8"/><circle cx="255" cy="257.7" r="2.8"/><circle cx="255.7" cy="234.1" r="2.8"/><circle cx="256.8" cy="264.6" r="2.8"/><circle cx="257.7" cy="257.4" r="2.8"/><circle cx="258.2" cy="243.3" r="2.8"/><circle cx="259" cy="259.8" r="2.8"/><circle cx="260.1" cy="258.8" r="2.8"/><circle cx="260.9" cy="249.8" r="2.8"/><circle cx="261.6" cy="247.7" r="2.8"/><circle cx="262.6" cy="233.8" r="2.8"/><circle cx="263.3" cy="237.9" r="2.8"/><circle cx="264.2" cy="259.1" r="2.8"/><circle cx="265.1" cy="278.3" r="2.8"/><circle cx="265.9" cy="244.5" r="2.8"/><circle cx="266.7" cy="259.9" r="2.8"/><circle cx="267.7" cy="264.8" r="2.8"/><circle cx="268.6" cy="241.8" r="2.8"/><circle cx="269.3" cy="264.3" r="2.8"/><circle cx="270.1" cy="250.5" r="2.8"/><circle cx="270.8" cy="258.7" r="2.8"/><circle cx="271.7" cy="243.7" r="2.8"/><circle cx="272.4" cy="256.6" r="2.8"/><circle cx="273.2" cy="253.9" r="2.8"/><circle cx="274.1" cy="262.5" r="2.8"/><circle cx="275.2" cy="249.3" r="2.8"/><circle cx="276.1" cy="259.6" r="2.8"/><circle cx="276.7" cy="270.5" r="2.8"/><circle cx="277.3" cy="248.1" r="2.8"/><circle cx="278.2" cy="261.1" r="2.8"/><circle cx="279.4" cy="249" r="2.8"/><circle cx="280" cy="267.1" r="2.8"/><circle cx="280.7" cy="268.3" r="2.8"/><circle cx="281.8" cy="257.9" r="2.8"/><circle cx="282.5" cy="283.6" r="2.8"/><circle cx="283.5" cy="277.5" r="2.8"/><circle cx="284.3" cy="263.4" r="2.8"/><circle cx="284.8" cy="269.7" r="2.8"/><circle cx="285.9" cy="271.2" r="2.8"/><circle cx="286.5" cy="264.5" r="2.8"/><circle cx="287.6" cy="255.9" r="2.8"/><circle cx="288.5" cy="261.8" r="2.8"/><circle cx="289.3" cy="258.3" r="2.8"/><circle cx="289.9" cy="278.8" r="2.8"/><circle cx="290.8" cy="282.4" r="2.8"/><circle cx="291.6" cy="269.5" r="2.8"/><circle cx="292.3" cy="283.6" r="2.8"/><circle cx="293.1" cy="272.6" r="2.8"/><circle cx="294" cy="272.2" r="2.8"/><circle cx="294.8" cy="292.6" r="2.8"/><circle cx="295.8" cy="274.1" r="2.8"/><circle cx="296.9" cy="258.8" r="2.8"/><circle cx="297.6" cy="281.7" r="2.8"/><circle cx="298.1" cy="277.9" r="2.8"/><circle cx="299.2" cy="288.4" r="2.8"/><circle cx="299.7" cy="275.9" r="2.8"/><circle cx="300.7" cy="288.6" r="2.8"/><circle cx="301.6" cy="271.1" r="2.8"/><circle cx="302.3" cy="293.5" r="2.8"/><circle cx="303.1" cy="298.2" r="2.8"/><circle cx="304.3" cy="280.7" r="2.8"/><circle cx="304.7" cy="271.4" r="2.8"/><circle cx="305.9" cy="277.7" r="2.8"/><circle cx="306.4" cy="289.4" r="2.8"/><circle cx="307.5" cy="275.5" r="2.8"/><circle cx="308.4" cy="278.6" r="2.8"/><circle cx="308.9" cy="286.5" r="2.8"/><circle cx="309.8" cy="274.2" r="2.8"/><circle cx="310.9" cy="284.3" r="2.8"/><circle cx="311.5" cy="283.4" r="2.8"/><circle cx="312.4" cy="286.3" r="2.8"/><circle cx="313" cy="288.2" r="2.8"/><circle cx="314" cy="284.4" r="2.8"/><circle cx="314.7" cy="279.3" r="2.8"/><circle cx="315.8" cy="285.6" r="2.8"/><circle cx="316.3" cy="291.2" r="2.8"/><circle cx="317.4" cy="288.4" r="2.8"/><circle cx="318.3" cy="292.3" r="2.8"/><circle cx="318.8" cy="296.8" r="2.8"/><circle cx="319.7" cy="307.6" r="2.8"/><circle cx="320.7" cy="288.7" r="2.8"/><circle cx="321.7" cy="286.6" r="2.8"/><circle cx="322.2" cy="296.3" r="2.8"/><circle cx="323.4" cy="294.7" r="2.8"/><circle cx="323.9" cy="277.6" r="2.8"/><circle cx="324.7" cy="299.4" r="2.8"/><circle cx="325.6" cy="288.7" r="2.8"/><circle cx="326.7" cy="286.9" r="2.8"/><circle cx="327.4" cy="302.7" r="2.8"/><circle cx="328.1" cy="298.1" r="2.8"/><circle cx="329" cy="303.3" r="2.8"/><circle cx="329.8" cy="297" r="2.8"/><circle cx="330.9" cy="288.3" r="2.8"/><circle cx="331.5" cy="299" r="2.8"/><circle cx="332.2" cy="295.1" r="2.8"/><circle cx="333.4" cy="285.2" r="2.8"/><circle cx="334" cy="283.1" r="2.8"/><circle cx="334.8" cy="306.9" r="2.8"/><circle cx="335.8" cy="296.1" r="2.8"/><circle cx="336.7" cy="315.2" r="2.8"/><circle cx="337.4" cy="309.9" r="2.8"/><circle cx="338.2" cy="306.5" r="2.8"/><circle cx="339.2" cy="289.7" r="2.8"/><circle cx="339.7" cy="305.3" r="2.8"/><circle cx="340.5" cy="277.5" r="2.8"/><circle cx="341.6" cy="297.8" r="2.8"/><circle cx="342.1" cy="296.4" r="2.8"/><circle cx="343.1" cy="290.2" r="2.8"/><circle cx="344" cy="287.3" r="2.8"/><circle cx="344.8" cy="298.4" r="2.8"/><circle cx="345.5" cy="287.1" r="2.8"/><circle cx="346.2" cy="279.8" r="2.8"/><circle cx="347.1" cy="284.3" r="2.8"/><circle cx="348.1" cy="314.2" r="2.8"/><circle cx="348.9" cy="305.1" r="2.8"/><circle cx="349.9" cy="280.4" r="2.8"/><circle cx="350.7" cy="270.4" r="2.8"/><circle cx="351.4" cy="290" r="2.8"/><circle cx="352.2" cy="289.3" r="2.8"/><circle cx="352.9" cy="318.9" r="2.8"/><circle cx="354.1" cy="308.3" r="2.8"/><circle cx="354.6" cy="310.3" r="2.8"/><circle cx="355.5" cy="287" r="2.8"/><circle cx="356.3" cy="323" r="2.8"/><circle cx="357.3" cy="308.8" r="2.8"/><circle cx="358.1" cy="308" r="2.8"/><circle cx="358.8" cy="306.5" r="2.8"/><circle cx="359.9" cy="296.9" r="2.8"/><circle cx="360.7" cy="299.7" r="2.8"/><circle cx="361.6" cy="308" r="2.8"/><circle cx="362.3" cy="329.4" r="2.8"/><circle cx="363.1" cy="325.2" r="2.8"/><circle cx="364" cy="317.9" r="2.8"/><circle cx="365" cy="292.5" r="2.8"/><circle cx="365.8" cy="296.2" r="2.8"/><circle cx="366.5" cy="293.8" r="2.8"/><circle cx="367" cy="310.6" r="2.8"/><circle cx="367.9" cy="287.5" r="2.8"/><circle cx="368.7" cy="278.3" r="2.8"/><circle cx="369.7" cy="298.5" r="2.8"/><circle cx="370.3" cy="315.9" r="2.8"/><circle cx="371.1" cy="286.1" r="2.8"/><circle cx="372.2" cy="296.8" r="2.8"/><circle cx="372.8" cy="289.1" r="2.8"/><circle cx="374" cy="308" r="2.8"/><circle cx="374.8" cy="294.5" r="2.8"/><circle cx="375.3" cy="278.3" r="2.8"/><circle cx="376.3" cy="302.1" r="2.8"/><circle cx="377" cy="308.6" r="2.8"/><circle cx="378.2" cy="303.8" r="2.8"/><circle cx="379.1" cy="315.2" r="2.8"/><circle cx="379.9" cy="329.3" r="2.8"/><circle cx="380.6" cy="312.2" r="2.8"/><circle cx="381.2" cy="285.1" r="2.8"/><circle cx="382.2" cy="302.8" r="2.8"/><circle cx="383.2" cy="336.3" r="2.8"/><circle cx="383.8" cy="308.9" r="2.8"/><circle cx="384.6" cy="275" r="2.8"/><circle cx="385.5" cy="320.2" r="2.8"/><circle cx="386.5" cy="308.9" r="2.8"/><circle cx="387.4" cy="300.1" r="2.8"/><circle cx="387.9" cy="316.7" r="2.8"/><circle cx="388.7" cy="328.4" r="2.8"/><circle cx="389.5" cy="274.5" r="2.8"/><circle cx="390.4" cy="285.5" r="2.8"/><circle cx="391.5" cy="312.7" r="2.8"/><circle cx="392.2" cy="302.5" r="2.8"/><circle cx="393.2" cy="308" r="2.8"/><circle cx="393.8" cy="300.6" r="2.8"/><circle cx="394.5" cy="295.7" r="2.8"/><circle cx="395.4" cy="281.3" r="2.8"/><circle cx="396.4" cy="296.1" r="2.8"/><circle cx="397.2" cy="291.7" r="2.8"/><circle cx="398.2" cy="296.6" r="2.8"/><circle cx="399" cy="299.8" r="2.8"/><circle cx="399.4" cy="296.1" r="2.8"/><circle cx="400.5" cy="299" r="2.8"/><circle cx="401.2" cy="290.8" r="2.8"/><circle cx="402.1" cy="288" r="2.8"/><circle cx="402.9" cy="294.1" r="2.8"/><circle cx="403.9" cy="273.8" r="2.8"/><circle cx="404.5" cy="276.8" r="2.8"/><circle cx="405.2" cy="302.8" r="2.8"/><circle cx="406.2" cy="292.9" r="2.8"/><circle cx="407.3" cy="285.2" r="2.8"/><circle cx="408.1" cy="289.1" r="2.8"/><circle cx="408.9" cy="290.6" r="2.8"/><circle cx="409.4" cy="287.8" r="2.8"/><circle cx="410.5" cy="288.9" r="2.8"/><circle cx="411.2" cy="267.4" r="2.8"/><circle cx="412.1" cy="284.5" r="2.8"/><circle cx="413.1" cy="314.4" r="2.8"/><circle cx="413.8" cy="276.6" r="2.8"/><circle cx="414.7" cy="283.2" r="2.8"/><circle cx="415.3" cy="304.8" r="2.8"/><circle cx="416.4" cy="286.3" r="2.8"/><circle cx="417.1" cy="305" r="2.8"/><circle cx="417.9" cy="281.2" r="2.8"/><circle cx="418.5" cy="269.3" r="2.8"/><circle cx="419.4" cy="275.1" r="2.8"/><circle cx="420.2" cy="291.1" r="2.8"/><circle cx="421.4" cy="288.5" r="2.8"/><circle cx="421.8" cy="261.5" r="2.8"/><circle cx="422.8" cy="290.6" r="2.8"/><circle cx="423.8" cy="297.1" r="2.8"/><circle cx="424.8" cy="289.9" r="2.8"/><circle cx="425.5" cy="278.2" r="2.8"/><circle cx="426.4" cy="278.2" r="2.8"/><circle cx="427.2" cy="303.8" r="2.8"/><circle cx="428" cy="287.7" r="2.8"/><circle cx="428.9" cy="296.9" r="2.8"/><circle cx="429.4" cy="303.9" r="2.8"/><circle cx="430.3" cy="295.3" r="2.8"/><circle cx="431.2" cy="305.6" r="2.8"/><circle cx="431.9" cy="290.9" r="2.8"/><circle cx="432.7" cy="274.4" r="2.8"/><circle cx="433.8" cy="288.7" r="2.8"/><circle cx="434.3" cy="306.2" r="2.8"/><circle cx="435.5" cy="266.6" r="2.8"/><circle cx="435.9" cy="295.3" r="2.8"/><circle cx="437" cy="303.9" r="2.8"/><circle cx="437.6" cy="297.2" r="2.8"/><circle cx="438.7" cy="287.8" r="2.8"/><circle cx="439.4" cy="309.7" r="2.8"/><circle cx="440.3" cy="262.8" r="2.8"/><circle cx="441" cy="291" r="2.8"/><circle cx="441.8" cy="292.8" r="2.8"/><circle cx="442.6" cy="276.1" r="2.8"/><circle cx="443.5" cy="304.1" r="2.8"/><circle cx="444.3" cy="289.8" r="2.8"/><circle cx="445.1" cy="291" r="2.8"/><circle cx="446.3" cy="286.3" r="2.8"/><circle cx="446.8" cy="296.2" r="2.8"/><circle cx="447.9" cy="299.1" r="2.8"/><circle cx="448.5" cy="300.5" r="2.8"/><circle cx="449.4" cy="296.3" r="2.8"/><circle cx="450.2" cy="285.9" r="2.8"/><circle cx="451.1" cy="281.6" r="2.8"/><circle cx="452.1" cy="291.8" r="2.8"/><circle cx="453" cy="270.4" r="2.8"/><circle cx="453.7" cy="278.3" r="2.8"/><circle cx="454.6" cy="276.6" r="2.8"/><circle cx="455.5" cy="293.5" r="2.8"/><circle cx="456.3" cy="300.4" r="2.8"/><circle cx="457" cy="287.5" r="2.8"/><circle cx="457.9" cy="299.4" r="2.8"/><circle cx="458.8" cy="288.2" r="2.8"/><circle cx="459.4" cy="300.7" r="2.8"/><circle cx="460" cy="288.2" r="2.8"/><circle cx="461.1" cy="279.8" r="2.8"/><circle cx="462" cy="304.3" r="2.8"/><circle cx="462.8" cy="283.6" r="2.8"/><circle cx="463.5" cy="299.4" r="2.8"/><circle cx="464.4" cy="303.5" r="2.8"/><circle cx="465.1" cy="293.8" r="2.8"/><circle cx="466" cy="288.6" r="2.8"/><circle cx="466.9" cy="284.9" r="2.8"/><circle cx="467.7" cy="298.4" r="2.8"/><circle cx="468.6" cy="274.6" r="2.8"/><circle cx="469.3" cy="283.9" r="2.8"/><circle cx="470.1" cy="274.6" r="2.8"/><circle cx="471.1" cy="302.8" r="2.8"/><circle cx="471.8" cy="281.1" r="2.8"/><circle cx="472.6" cy="304.2" r="2.8"/><circle cx="473.4" cy="295.7" r="2.8"/><circle cx="474.4" cy="281.1" r="2.8"/><circle cx="475.2" cy="295.9" r="2.8"/><circle cx="475.9" cy="298.1" r="2.8"/><circle cx="477" cy="289" r="2.8"/><circle cx="477.7" cy="299.8" r="2.8"/><circle cx="478.7" cy="312.4" r="2.8"/><circle cx="479.2" cy="288.9" r="2.8"/><circle cx="480.1" cy="294.3" r="2.8"/><circle cx="481.1" cy="269.7" r="2.8"/><circle cx="481.6" cy="282.3" r="2.8"/><circle cx="482.4" cy="293.5" r="2.8"/><circle cx="483.4" cy="308.6" r="2.8"/><circle cx="484.3" cy="307" r="2.8"/><circle cx="485.3" cy="300.3" r="2.8"/><circle cx="486.2" cy="282.5" r="2.8"/><circle cx="487" cy="299.5" r="2.8"/><circle cx="487.6" cy="294.9" r="2.8"/><circle cx="488.6" cy="292.7" r="2.8"/><circle cx="489.2" cy="276.1" r="2.8"/><circle cx="490" cy="288.8" r="2.8"/><circle cx="491.1" cy="299.5" r="2.8"/><circle cx="492.1" cy="269.7" r="2.8"/><circle cx="492.4" cy="305" r="2.8"/><circle cx="493.7" cy="264.3" r="2.8"/><circle cx="494.1" cy="292.5" r="2.8"/><circle cx="495.4" cy="292.1" r="2.8"/><circle cx="495.9" cy="295.2" r="2.8"/><circle cx="496.9" cy="274.3" r="2.8"/><circle cx="497.7" cy="283.2" r="2.8"/><circle cx="498.6" cy="292.2" r="2.8"/><circle cx="499" cy="286.3" r="2.8"/><circle cx="500.1" cy="293.1" r="2.8"/><circle cx="501" cy="291" r="2.8"/><circle cx="501.7" cy="288.2" r="2.8"/><circle cx="502.8" cy="269.5" r="2.8"/><circle cx="503.4" cy="302.3" r="2.8"/><circle cx="504.2" cy="277.8" r="2.8"/><circle cx="504.9" cy="275.6" r="2.8"/><circle cx="505.9" cy="280" r="2.8"/></g>
</g>
<path d="M131.5 577.5v4.1M290.5 577.5v4.1M450.5 577.5v4.1M104.5 577.5h-4.4M104.5 510.5h-4.4M104.5 443.5h-4.4M104.5 376.5h-4.4M104.5 308.5h-4.4M104.5 241.5h-4.4M104.5 174.5h-4.4M104.5 107.5h-4.4M104.5 40.5h-4.4" stroke="#000" stroke-width="1.1" fill="none"/>
<rect x="104.5" y="40.5" width="419" height="537" fill="none" stroke="#000" stroke-width="1.1"/>
<g font-size="27.8" text-anchor="end"><text transform="translate(95.9 586.5) scale(0.95 1.05)">7</text><text transform="translate(95.9 519.4) scale(0.95 1.05)">8</text><text transform="translate(95.9 452.1) scale(0.95 1.05)">9</text><text transform="translate(95.3 384.9) scale(0.93 1.05)">10</text><text transform="translate(95.3 317.7) scale(0.93 1.05)">11</text><text transform="translate(95.3 250.5) scale(0.93 1.05)">12</text><text transform="translate(95.3 183.3) scale(0.93 1.05)">13</text><text transform="translate(95.3 116.1) scale(0.93 1.05)">14</text><text transform="translate(95.3 48.9) scale(0.93 1.05)">15</text></g>
<g font-size="27.8" text-anchor="middle"><text transform="translate(130.3 603.9) scale(0.976 1.05)">00:00</text><text transform="translate(290.3 603.9) scale(0.976 1.05)">06:00</text><text transform="translate(448.6 603.9) scale(0.976 1.05)">12:00</text></g>
<text font-size="33.3" text-anchor="middle" letter-spacing="0.05" transform="translate(54 309.3) rotate(-90)">Horizontal luminous region (<tspan font-style="italic">μ</tspan>m)</text>
<rect x="257.5" y="48.2" width="113.4" height="54" rx="3.5" fill="#fff" fill-opacity="0.8" stroke="#ccc" stroke-width="1.1"/>
<path d="M264.4 61.5H298" stroke="#0000ff" stroke-opacity="0.6" stroke-width="1.1"/><circle cx="280.5" cy="61.5" r="2.8" fill="#0000ff"/><circle cx="280.5" cy="85.6" r="2.8" fill="#ff0000"/>
<g font-size="16.7"><text transform="translate(310.3 67.2) scale(1.01 1.075)">ATLAS</text><text transform="translate(310.8 91.3) scale(0.98 1.075)">CMS</text></g>
</g>
<g>
<clipPath id="c1"><rect x="627.5" y="40.5" width="420" height="537"/></clipPath>
<path d="M654.5 40.5V577.5M814.5 40.5V577.5M973.5 40.5V577.5M627.5 577.5H1047.5M627.5 510.5H1047.5M627.5 443.5H1047.5M627.5 376.5H1047.5M627.5 308.5H1047.5M627.5 241.5H1047.5M627.5 174.5H1047.5M627.5 107.5H1047.5M627.5 40.5H1047.5" stroke="#b0b0b0" stroke-width="1.1" fill="none"/>
<g clip-path="url(#c1)">
<path d="M648.2 140.8 L648.4 157.6 L649.2 206 L649.7 236.3 L650.2 277.3 L650.8 285.3 L651.3 295.4 L651.8 288.7 L652.4 300.8 L652.9 290.7 L653.7 298.8 L654.5 294.1 L655.3 302.1 L656.4 297.4 L657.2 303.5 L658.2 305.5 L659.3 306.8 L660.4 304.8 L661.7 305.5 L663 241.6 L663.8 243.5 L664.6 242.3 L665.4 251.5 L666.2 244.3 L666.9 253.7 L667.7 251.8 L668.5 247.4 L669.3 248.9 L670.1 253 L670.9 254.7 L671.6 256.6 L672.4 258.4 L673.2 258 L674 255.8 L674.8 262.1 L675.5 254.9 L676.3 264.5 L677.1 264.4 L677.9 261.7 L678.7 266.6 L679.5 268.4 L680.2 267.8 L681 271.2 L681.8 267.9 L682.6 271.8 L683.4 270.9 L684.2 268.9 L684.9 274 L685.7 270.1 L686.5 271.4 L687.3 275.5 L688.1 280.8 L688.8 280.4 L689.6 272.4 L690.4 283.4 L691.2 280.7 L692 274.6 L692.8 279.7 L693.5 277.1 L694.3 281.4 L695.1 282.8 L695.9 278.1 L696.7 282.8 L697.5 279.2 L698.2 281.3 L699 287.3 L699.8 283.7 L700.6 288.3 L701.4 282.2 L702.1 284.1 L702.9 287.6 L703.7 288.6 L704.5 287.1 L705.3 293.1 L706.1 293.3 L706.8 290.8 L707.6 294.4 L708.4 294.1 L709.2 294.7 L710 291.8 L710.8 296.5 L711.5 294.1 L712.3 291.7 L713.1 290.8 L713.9 292.6 L714.7 292.2 L715.4 296.2 L716.2 288.6 L717 294.5 L717.8 296.4 L718.6 299.3 L719.4 306.6 L720.1 298.5 L720.9 307.4 L721 312.2 L721.7 305.6 L722.5 307.5 L723.3 304.3 L724.1 306.8 L724.8 301.4 L725.6 309.2 L726.4 304 L727.2 310.2 L728 312.3 L728.7 312.5 L729.5 306.4 L730.3 312.7 L731.1 310.9 L731.6 320.9 L731.9 308.1 L732.7 310.5 L733.4 307.9 L734.2 305.8 L735 307.8 L735.8 318.3 L736.6 318.7 L737.4 315.4 L738.1 322 L738.9 320.1 L739.7 319.9 L740.5 320.5 L741.3 321.4 L742 321.9 L742.8 326.7 L743.6 325.4 L744.4 315.9 L745.2 322.1 L746 319.5 L746.7 319.7 L747.5 316.6 L748.3 329.2 L749.1 319.9 L749.9 328.3 L750.7 327 L751.4 337.4 L752.2 333.3 L753 329.2 L753.8 335.3 L754.6 335.7 L755.3 336.9 L756.1 332.5 L756.9 344.5 L757.2 361.3 L757.7 341.1 L758.5 343.9 L759.3 341.6 L760 342.8 L760.8 339.6 L760.9 425.1 L761.6 339.2 L762.4 342.9 L763.2 340.6 L764 345.5 L764.7 348.4 L765.5 338 L766.3 335.7 L767.1 351.9 L767.9 352.1 L768.6 350.2 L769.4 349.8 L770.2 348.4 L771 349 L771.8 350.9 L772.6 352.1 L773.3 362.1 L774.1 351.2 L774.9 353.6 L775.7 364.6 L776.5 368.4 L777.3 356.1 L778 364.1 L778.8 366.4 L779.6 366.4 L780.4 364.7 L781.2 371.3 L781.9 365.8 L782.7 367.4 L783.5 361.2 L784.3 358.7 L785.1 366 L785.9 366.9 L786.6 361.3 L787.4 357.9 L788.2 363.1 L789 364.6 L789.8 360.3 L790.6 365.1 L791.3 357.4 L792.1 361.5 L792.9 368.1 L793.7 376.5 L794.5 373.8 L795.2 378.7 L796 374.5 L796.8 381.9 L797.6 383 L798.4 377.3 L799.2 381.3 L799.9 381.4 L800.7 384.9 L801.5 380.7 L802.3 387.8 L803.1 390.5 L803.9 381.8 L804.6 383.3 L804.8 396.2 L805.1 409.6 L805.4 389 L805.5 -66084.8 L806 389.5 L806.2 383.1 L807 382.4 L807.8 387.3 L808.5 383.4 L809.3 379.9 L810.1 388.9 L810.9 388.4 L811.7 385.3 L812.5 389.1 L813.2 388.3 L814 381.9 L814.8 390.8 L815.6 381.9 L816.4 387.9 L817.2 389.4 L817.9 394.5 L818.7 388.3 L819.5 394.1 L820.3 391.8 L821.1 405.5 L821.8 395 L822.6 387.3 L823.4 400.6 L824.2 377.5 L825 393.1 L825.8 384.4 L826.5 390.7 L827.3 400.6 L828.1 390 L828.9 412.8 L829.7 413.6 L830.5 403.9 L831.2 402.4 L832 399.6 L832.8 409.9 L833.6 405.2 L834.4 404.5 L835.1 402.4 L835.9 406.1 L836.7 410.5 L837.5 410.3 L838.3 410.9 L839.1 402.5 L839.8 409 L840.6 407.3 L840.7 401.6 L841.4 408.3 L842.2 414.8 L843 412.8 L843.8 407.2 L844.5 407.6 L845.3 406.1 L846.1 406.2 L846.9 410.3 L847.7 414 L848.4 415 L849.2 405.3 L850 404.3 L850.8 408.9 L851.6 413.6 L852.4 406.3 L853.1 409.4 L853.9 417 L854.7 415.7 L855.5 414.3 L856.3 414.7 L857.1 414.3 L857.8 421.9 L858.6 422.8 L859.4 421.1 L860.2 416.6 L861 419.6 L861.7 415.8 L862.5 417.8 L863.3 419.4 L864.1 417.6 L864.9 416.2 L865.7 417.8 L866.4 418.7 L867.2 416.9 L868 415.1 L868.8 419.1 L869.6 415 L870.4 421.3 L871.1 418.7 L871.9 419.3 L872.7 418.5 L873.5 421.3 L874.3 416.9 L875 418.5 L875.8 417.2 L876.6 417.2 L877.4 422.4 L878.2 415.3 L879 416.4 L879.7 420.7 L880.5 418.3 L881.3 419 L882.1 419.1 L882.9 416.4 L883.7 417.5 L884.4 417.4 L885.2 420.5 L886 421.3 L886.8 420 L887.6 418.7 L888.3 419.1 L889.1 422.6 L889.9 418.3 L890.7 419.4 L891.5 418.2 L892.3 421.2 L893 422.6 L893.8 420.5 L894.6 423 L895.4 415 L896.2 421.1 L897 424.2 L897.7 421.3 L898.5 421.7 L899.3 421.2 L900.1 423.3 L900.9 421.5 L901.6 420.5 L902.4 424.1 L903.2 425.8 L904 421.1 L904.8 424.1 L905.6 423.4 L906.3 424.2 L907.1 425.8 L907.9 420 L908.7 418.3 L909.5 415.6 L910.3 417.4 L911 418.8 L911.8 415.8 L912.6 415.4 L913.4 420.3 L914.2 413.4 L914.9 417 L915.7 416.8 L916.5 414.3 L917.3 418.7 L918.1 415.4 L918.9 418 L919.6 419.1 L920.4 413.5 L921.2 418 L922 416.1 L922.8 418.9 L923.6 417.8 L924.3 414.8 L925.1 413.6 L925.9 411.9 L926.7 416.9 L927.5 413.2 L928.2 416.9 L929 416 L929.8 414.2 L930.6 414.3 L931.4 417 L932.2 419.4 L932.9 413.5 L933.7 417.6 L934.5 415.8 L935.3 416.6 L936.1 412.7 L936.9 411.9 L937.6 413.7 L938.4 416.8 L939.2 415.6 L940 417.7 L940.8 414 L941.5 418.5 L942.3 418.6 L943.1 417.5 L943.9 415.4 L944.7 425 L945.5 417.8 L946.2 419.5 L947 416.1 L947.8 419.1 L948.6 419.7 L949.4 419.6 L950.2 419.9 L950.9 419 L951.7 420.1 L952.5 416.8 L953.3 418.5 L954.1 417.9 L954.8 421.8 L955.6 415.8 L956.4 418.7 L957.2 421.9 L958 417.3 L958.8 417.7 L959.5 419.6 L960.3 422.4 L961.1 417.3 L961.9 417 L962.7 417.2 L963.5 417.4 L964.2 420.2 L965 416.7 L965.8 420.2 L966.6 418.2 L967.4 419 L968.1 422.4 L968.9 417 L969.7 422.5 L970.5 419.5 L971.3 415.6 L972.1 422.8 L972.8 419.4 L973.6 418.7 L974.4 419.2 L975.2 415.8 L976 425.5 L976.8 418.2 L977.5 418.6 L978.3 417.4 L979.1 419.9 L979.9 420.1 L980.7 422.1 L981.4 418.9 L982.2 419.4 L983 416.8 L983.8 426.8 L984.6 422.7 L985.4 422.8 L986.1 420.9 L986.9 415.1 L987.7 425.7 L988.5 419.9 L989.3 419.5 L990.1 419.8 L990.8 429.5 L991.6 421.7 L992.4 423.8 L993.2 418.1 L994 421.9 L994.7 420.1 L995.5 420.7 L996.3 425.4 L997.1 422.6 L997.9 421.8 L998.7 425.6 L999.4 423.9 L1000.2 419.5 L1001 423.8 L1001.8 420.8 L1002.6 422.1 L1003.4 423.2 L1004.1 419.9 L1004.9 420.4 L1005.7 425.1 L1006.5 422.7 L1007.3 424.4 L1008 418.9 L1008.8 423.8 L1009.6 418.9 L1010.4 425.4 L1011.2 420.9 L1012 422.8 L1012.7 426 L1013.5 425.6 L1014.3 421.6 L1015.1 420.1 L1015.9 424.2 L1016.7 422.1 L1017.4 420.7 L1018.2 423 L1019 428.1 L1019.8 426 L1020.6 420.2 L1021.3 423.4 L1022.1 425.2 L1022.9 422.1 L1023.7 422.6 L1024.5 419.9 L1025.3 419.9 L1026 426.9 L1026.8 425 L1027.6 420.2 L1028.4 422.8 L1029.2 424.9 L1030 419.7 L1030.7 419.1" stroke="#0000ff" stroke-opacity="0.6" stroke-width="1.1" fill="none" stroke-linejoin="round"/>
<path d="M805.5 40.5V400" stroke="#0000ff" stroke-opacity="0.6" stroke-width="1.1" fill="none"/>
<g fill="#0000ff"><circle cx="648.2" cy="140.8" r="2.8"/><circle cx="648.4" cy="157.6" r="2.8"/><circle cx="649.2" cy="206" r="2.8"/><circle cx="649.7" cy="236.3" r="2.8"/><circle cx="650.2" cy="277.3" r="2.8"/><circle cx="650.8" cy="285.3" r="2.8"/><circle cx="651.3" cy="295.4" r="2.8"/><circle cx="651.8" cy="288.7" r="2.8"/><circle cx="652.4" cy="300.8" r="2.8"/><circle cx="652.9" cy="290.7" r="2.8"/><circle cx="653.7" cy="298.8" r="2.8"/><circle cx="654.5" cy="294.1" r="2.8"/><circle cx="655.3" cy="302.1" r="2.8"/><circle cx="656.4" cy="297.4" r="2.8"/><circle cx="657.2" cy="303.5" r="2.8"/><circle cx="658.2" cy="305.5" r="2.8"/><circle cx="659.3" cy="306.8" r="2.8"/><circle cx="660.4" cy="304.8" r="2.8"/><circle cx="661.7" cy="305.5" r="2.8"/><circle cx="663" cy="241.6" r="2.8"/><circle cx="663.8" cy="243.5" r="2.8"/><circle cx="664.6" cy="242.3" r="2.8"/><circle cx="665.4" cy="251.5" r="2.8"/><circle cx="666.2" cy="244.3" r="2.8"/><circle cx="666.9" cy="253.7" r="2.8"/><circle cx="667.7" cy="251.8" r="2.8"/><circle cx="668.5" cy="247.4" r="2.8"/><circle cx="669.3" cy="248.9" r="2.8"/><circle cx="670.1" cy="253" r="2.8"/><circle cx="670.9" cy="254.7" r="2.8"/><circle cx="671.6" cy="256.6" r="2.8"/><circle cx="672.4" cy="258.4" r="2.8"/><circle cx="673.2" cy="258" r="2.8"/><circle cx="674" cy="255.8" r="2.8"/><circle cx="674.8" cy="262.1" r="2.8"/><circle cx="675.5" cy="254.9" r="2.8"/><circle cx="676.3" cy="264.5" r="2.8"/><circle cx="677.1" cy="264.4" r="2.8"/><circle cx="677.9" cy="261.7" r="2.8"/><circle cx="678.7" cy="266.6" r="2.8"/><circle cx="679.5" cy="268.4" r="2.8"/><circle cx="680.2" cy="267.8" r="2.8"/><circle cx="681" cy="271.2" r="2.8"/><circle cx="681.8" cy="267.9" r="2.8"/><circle cx="682.6" cy="271.8" r="2.8"/><circle cx="683.4" cy="270.9" r="2.8"/><circle cx="684.2" cy="268.9" r="2.8"/><circle cx="684.9" cy="274" r="2.8"/><circle cx="685.7" cy="270.1" r="2.8"/><circle cx="686.5" cy="271.4" r="2.8"/><circle cx="687.3" cy="275.5" r="2.8"/><circle cx="688.1" cy="280.8" r="2.8"/><circle cx="688.8" cy="280.4" r="2.8"/><circle cx="689.6" cy="272.4" r="2.8"/><circle cx="690.4" cy="283.4" r="2.8"/><circle cx="691.2" cy="280.7" r="2.8"/><circle cx="692" cy="274.6" r="2.8"/><circle cx="692.8" cy="279.7" r="2.8"/><circle cx="693.5" cy="277.1" r="2.8"/><circle cx="694.3" cy="281.4" r="2.8"/><circle cx="695.1" cy="282.8" r="2.8"/><circle cx="695.9" cy="278.1" r="2.8"/><circle cx="696.7" cy="282.8" r="2.8"/><circle cx="697.5" cy="279.2" r="2.8"/><circle cx="698.2" cy="281.3" r="2.8"/><circle cx="699" cy="287.3" r="2.8"/><circle cx="699.8" cy="283.7" r="2.8"/><circle cx="700.6" cy="288.3" r="2.8"/><circle cx="701.4" cy="282.2" r="2.8"/><circle cx="702.1" cy="284.1" r="2.8"/><circle cx="702.9" cy="287.6" r="2.8"/><circle cx="703.7" cy="288.6" r="2.8"/><circle cx="704.5" cy="287.1" r="2.8"/><circle cx="705.3" cy="293.1" r="2.8"/><circle cx="706.1" cy="293.3" r="2.8"/><circle cx="706.8" cy="290.8" r="2.8"/><circle cx="707.6" cy="294.4" r="2.8"/><circle cx="708.4" cy="294.1" r="2.8"/><circle cx="709.2" cy="294.7" r="2.8"/><circle cx="710" cy="291.8" r="2.8"/><circle cx="710.8" cy="296.5" r="2.8"/><circle cx="711.5" cy="294.1" r="2.8"/><circle cx="712.3" cy="291.7" r="2.8"/><circle cx="713.1" cy="290.8" r="2.8"/><circle cx="713.9" cy="292.6" r="2.8"/><circle cx="714.7" cy="292.2" r="2.8"/><circle cx="715.4" cy="296.2" r="2.8"/><circle cx="716.2" cy="288.6" r="2.8"/><circle cx="717" cy="294.5" r="2.8"/><circle cx="717.8" cy="296.4" r="2.8"/><circle cx="718.6" cy="299.3" r="2.8"/><circle cx="719.4" cy="306.6" r="2.8"/><circle cx="720.1" cy="298.5" r="2.8"/><circle cx="720.9" cy="307.4" r="2.8"/><circle cx="721" cy="312.2" r="2.8"/><circle cx="721.7" cy="305.6" r="2.8"/><circle cx="722.5" cy="307.5" r="2.8"/><circle cx="723.3" cy="304.3" r="2.8"/><circle cx="724.1" cy="306.8" r="2.8"/><circle cx="724.8" cy="301.4" r="2.8"/><circle cx="725.6" cy="309.2" r="2.8"/><circle cx="726.4" cy="304" r="2.8"/><circle cx="727.2" cy="310.2" r="2.8"/><circle cx="728" cy="312.3" r="2.8"/><circle cx="728.7" cy="312.5" r="2.8"/><circle cx="729.5" cy="306.4" r="2.8"/><circle cx="730.3" cy="312.7" r="2.8"/><circle cx="731.1" cy="310.9" r="2.8"/><circle cx="731.6" cy="320.9" r="2.8"/><circle cx="731.9" cy="308.1" r="2.8"/><circle cx="732.7" cy="310.5" r="2.8"/><circle cx="733.4" cy="307.9" r="2.8"/><circle cx="734.2" cy="305.8" r="2.8"/><circle cx="735" cy="307.8" r="2.8"/><circle cx="735.8" cy="318.3" r="2.8"/><circle cx="736.6" cy="318.7" r="2.8"/><circle cx="737.4" cy="315.4" r="2.8"/><circle cx="738.1" cy="322" r="2.8"/><circle cx="738.9" cy="320.1" r="2.8"/><circle cx="739.7" cy="319.9" r="2.8"/><circle cx="740.5" cy="320.5" r="2.8"/><circle cx="741.3" cy="321.4" r="2.8"/><circle cx="742" cy="321.9" r="2.8"/><circle cx="742.8" cy="326.7" r="2.8"/><circle cx="743.6" cy="325.4" r="2.8"/><circle cx="744.4" cy="315.9" r="2.8"/><circle cx="745.2" cy="322.1" r="2.8"/><circle cx="746" cy="319.5" r="2.8"/><circle cx="746.7" cy="319.7" r="2.8"/><circle cx="747.5" cy="316.6" r="2.8"/><circle cx="748.3" cy="329.2" r="2.8"/><circle cx="749.1" cy="319.9" r="2.8"/><circle cx="749.9" cy="328.3" r="2.8"/><circle cx="750.7" cy="327" r="2.8"/><circle cx="751.4" cy="337.4" r="2.8"/><circle cx="752.2" cy="333.3" r="2.8"/><circle cx="753" cy="329.2" r="2.8"/><circle cx="753.8" cy="335.3" r="2.8"/><circle cx="754.6" cy="335.7" r="2.8"/><circle cx="755.3" cy="336.9" r="2.8"/><circle cx="756.1" cy="332.5" r="2.8"/><circle cx="756.9" cy="344.5" r="2.8"/><circle cx="757.2" cy="361.3" r="2.8"/><circle cx="757.7" cy="341.1" r="2.8"/><circle cx="758.5" cy="343.9" r="2.8"/><circle cx="759.3" cy="341.6" r="2.8"/><circle cx="760" cy="342.8" r="2.8"/><circle cx="760.8" cy="339.6" r="2.8"/><circle cx="760.9" cy="425.1" r="2.8"/><circle cx="761.6" cy="339.2" r="2.8"/><circle cx="762.4" cy="342.9" r="2.8"/><circle cx="763.2" cy="340.6" r="2.8"/><circle cx="764" cy="345.5" r="2.8"/><circle cx="764.7" cy="348.4" r="2.8"/><circle cx="765.5" cy="338" r="2.8"/><circle cx="766.3" cy="335.7" r="2.8"/><circle cx="767.1" cy="351.9" r="2.8"/><circle cx="767.9" cy="352.1" r="2.8"/><circle cx="768.6" cy="350.2" r="2.8"/><circle cx="769.4" cy="349.8" r="2.8"/><circle cx="770.2" cy="348.4" r="2.8"/><circle cx="771" cy="349" r="2.8"/><circle cx="771.8" cy="350.9" r="2.8"/><circle cx="772.6" cy="352.1" r="2.8"/><circle cx="773.3" cy="362.1" r="2.8"/><circle cx="774.1" cy="351.2" r="2.8"/><circle cx="774.9" cy="353.6" r="2.8"/><circle cx="775.7" cy="364.6" r="2.8"/><circle cx="776.5" cy="368.4" r="2.8"/><circle cx="777.3" cy="356.1" r="2.8"/><circle cx="778" cy="364.1" r="2.8"/><circle cx="778.8" cy="366.4" r="2.8"/><circle cx="779.6" cy="366.4" r="2.8"/><circle cx="780.4" cy="364.7" r="2.8"/><circle cx="781.2" cy="371.3" r="2.8"/><circle cx="781.9" cy="365.8" r="2.8"/><circle cx="782.7" cy="367.4" r="2.8"/><circle cx="783.5" cy="361.2" r="2.8"/><circle cx="784.3" cy="358.7" r="2.8"/><circle cx="785.1" cy="366" r="2.8"/><circle cx="785.9" cy="366.9" r="2.8"/><circle cx="786.6" cy="361.3" r="2.8"/><circle cx="787.4" cy="357.9" r="2.8"/><circle cx="788.2" cy="363.1" r="2.8"/><circle cx="789" cy="364.6" r="2.8"/><circle cx="789.8" cy="360.3" r="2.8"/><circle cx="790.6" cy="365.1" r="2.8"/><circle cx="791.3" cy="357.4" r="2.8"/><circle cx="792.1" cy="361.5" r="2.8"/><circle cx="792.9" cy="368.1" r="2.8"/><circle cx="793.7" cy="376.5" r="2.8"/><circle cx="794.5" cy="373.8" r="2.8"/><circle cx="795.2" cy="378.7" r="2.8"/><circle cx="796" cy="374.5" r="2.8"/><circle cx="796.8" cy="381.9" r="2.8"/><circle cx="797.6" cy="383" r="2.8"/><circle cx="798.4" cy="377.3" r="2.8"/><circle cx="799.2" cy="381.3" r="2.8"/><circle cx="799.9" cy="381.4" r="2.8"/><circle cx="800.7" cy="384.9" r="2.8"/><circle cx="801.5" cy="380.7" r="2.8"/><circle cx="802.3" cy="387.8" r="2.8"/><circle cx="803.1" cy="390.5" r="2.8"/><circle cx="803.9" cy="381.8" r="2.8"/><circle cx="804.6" cy="383.3" r="2.8"/><circle cx="804.8" cy="396.2" r="2.8"/><circle cx="805.1" cy="409.6" r="2.8"/><circle cx="805.4" cy="389" r="2.8"/><circle cx="806" cy="389.5" r="2.8"/><circle cx="806.2" cy="383.1" r="2.8"/><circle cx="807" cy="382.4" r="2.8"/><circle cx="807.8" cy="387.3" r="2.8"/><circle cx="808.5" cy="383.4" r="2.8"/><circle cx="809.3" cy="379.9" r="2.8"/><circle cx="810.1" cy="388.9" r="2.8"/><circle cx="810.9" cy="388.4" r="2.8"/><circle cx="811.7" cy="385.3" r="2.8"/><circle cx="812.5" cy="389.1" r="2.8"/><circle cx="813.2" cy="388.3" r="2.8"/><circle cx="814" cy="381.9" r="2.8"/><circle cx="814.8" cy="390.8" r="2.8"/><circle cx="815.6" cy="381.9" r="2.8"/><circle cx="816.4" cy="387.9" r="2.8"/><circle cx="817.2" cy="389.4" r="2.8"/><circle cx="817.9" cy="394.5" r="2.8"/><circle cx="818.7" cy="388.3" r="2.8"/><circle cx="819.5" cy="394.1" r="2.8"/><circle cx="820.3" cy="391.8" r="2.8"/><circle cx="821.1" cy="405.5" r="2.8"/><circle cx="821.8" cy="395" r="2.8"/><circle cx="822.6" cy="387.3" r="2.8"/><circle cx="823.4" cy="400.6" r="2.8"/><circle cx="824.2" cy="377.5" r="2.8"/><circle cx="825" cy="393.1" r="2.8"/><circle cx="825.8" cy="384.4" r="2.8"/><circle cx="826.5" cy="390.7" r="2.8"/><circle cx="827.3" cy="400.6" r="2.8"/><circle cx="828.1" cy="390" r="2.8"/><circle cx="828.9" cy="412.8" r="2.8"/><circle cx="829.7" cy="413.6" r="2.8"/><circle cx="830.5" cy="403.9" r="2.8"/><circle cx="831.2" cy="402.4" r="2.8"/><circle cx="832" cy="399.6" r="2.8"/><circle cx="832.8" cy="409.9" r="2.8"/><circle cx="833.6" cy="405.2" r="2.8"/><circle cx="834.4" cy="404.5" r="2.8"/><circle cx="835.1" cy="402.4" r="2.8"/><circle cx="835.9" cy="406.1" r="2.8"/><circle cx="836.7" cy="410.5" r="2.8"/><circle cx="837.5" cy="410.3" r="2.8"/><circle cx="838.3" cy="410.9" r="2.8"/><circle cx="839.1" cy="402.5" r="2.8"/><circle cx="839.8" cy="409" r="2.8"/><circle cx="840.6" cy="407.3" r="2.8"/><circle cx="840.7" cy="401.6" r="2.8"/><circle cx="841.4" cy="408.3" r="2.8"/><circle cx="842.2" cy="414.8" r="2.8"/><circle cx="843" cy="412.8" r="2.8"/><circle cx="843.8" cy="407.2" r="2.8"/><circle cx="844.5" cy="407.6" r="2.8"/><circle cx="845.3" cy="406.1" r="2.8"/><circle cx="846.1" cy="406.2" r="2.8"/><circle cx="846.9" cy="410.3" r="2.8"/><circle cx="847.7" cy="414" r="2.8"/><circle cx="848.4" cy="415" r="2.8"/><circle cx="849.2" cy="405.3" r="2.8"/><circle cx="850" cy="404.3" r="2.8"/><circle cx="850.8" cy="408.9" r="2.8"/><circle cx="851.6" cy="413.6" r="2.8"/><circle cx="852.4" cy="406.3" r="2.8"/><circle cx="853.1" cy="409.4" r="2.8"/><circle cx="853.9" cy="417" r="2.8"/><circle cx="854.7" cy="415.7" r="2.8"/><circle cx="855.5" cy="414.3" r="2.8"/><circle cx="856.3" cy="414.7" r="2.8"/><circle cx="857.1" cy="414.3" r="2.8"/><circle cx="857.8" cy="421.9" r="2.8"/><circle cx="858.6" cy="422.8" r="2.8"/><circle cx="859.4" cy="421.1" r="2.8"/><circle cx="860.2" cy="416.6" r="2.8"/><circle cx="861" cy="419.6" r="2.8"/><circle cx="861.7" cy="415.8" r="2.8"/><circle cx="862.5" cy="417.8" r="2.8"/><circle cx="863.3" cy="419.4" r="2.8"/><circle cx="864.1" cy="417.6" r="2.8"/><circle cx="864.9" cy="416.2" r="2.8"/><circle cx="865.7" cy="417.8" r="2.8"/><circle cx="866.4" cy="418.7" r="2.8"/><circle cx="867.2" cy="416.9" r="2.8"/><circle cx="868" cy="415.1" r="2.8"/><circle cx="868.8" cy="419.1" r="2.8"/><circle cx="869.6" cy="415" r="2.8"/><circle cx="870.4" cy="421.3" r="2.8"/><circle cx="871.1" cy="418.7" r="2.8"/><circle cx="871.9" cy="419.3" r="2.8"/><circle cx="872.7" cy="418.5" r="2.8"/><circle cx="873.5" cy="421.3" r="2.8"/><circle cx="874.3" cy="416.9" r="2.8"/><circle cx="875" cy="418.5" r="2.8"/><circle cx="875.8" cy="417.2" r="2.8"/><circle cx="876.6" cy="417.2" r="2.8"/><circle cx="877.4" cy="422.4" r="2.8"/><circle cx="878.2" cy="415.3" r="2.8"/><circle cx="879" cy="416.4" r="2.8"/><circle cx="879.7" cy="420.7" r="2.8"/><circle cx="880.5" cy="418.3" r="2.8"/><circle cx="881.3" cy="419" r="2.8"/><circle cx="882.1" cy="419.1" r="2.8"/><circle cx="882.9" cy="416.4" r="2.8"/><circle cx="883.7" cy="417.5" r="2.8"/><circle cx="884.4" cy="417.4" r="2.8"/><circle cx="885.2" cy="420.5" r="2.8"/><circle cx="886" cy="421.3" r="2.8"/><circle cx="886.8" cy="420" r="2.8"/><circle cx="887.6" cy="418.7" r="2.8"/><circle cx="888.3" cy="419.1" r="2.8"/><circle cx="889.1" cy="422.6" r="2.8"/><circle cx="889.9" cy="418.3" r="2.8"/><circle cx="890.7" cy="419.4" r="2.8"/><circle cx="891.5" cy="418.2" r="2.8"/><circle cx="892.3" cy="421.2" r="2.8"/><circle cx="893" cy="422.6" r="2.8"/><circle cx="893.8" cy="420.5" r="2.8"/><circle cx="894.6" cy="423" r="2.8"/><circle cx="895.4" cy="415" r="2.8"/><circle cx="896.2" cy="421.1" r="2.8"/><circle cx="897" cy="424.2" r="2.8"/><circle cx="897.7" cy="421.3" r="2.8"/><circle cx="898.5" cy="421.7" r="2.8"/><circle cx="899.3" cy="421.2" r="2.8"/><circle cx="900.1" cy="423.3" r="2.8"/><circle cx="900.9" cy="421.5" r="2.8"/><circle cx="901.6" cy="420.5" r="2.8"/><circle cx="902.4" cy="424.1" r="2.8"/><circle cx="903.2" cy="425.8" r="2.8"/><circle cx="904" cy="421.1" r="2.8"/><circle cx="904.8" cy="424.1" r="2.8"/><circle cx="905.6" cy="423.4" r="2.8"/><circle cx="906.3" cy="424.2" r="2.8"/><circle cx="907.1" cy="425.8" r="2.8"/><circle cx="907.9" cy="420" r="2.8"/><circle cx="908.7" cy="418.3" r="2.8"/><circle cx="909.5" cy="415.6" r="2.8"/><circle cx="910.3" cy="417.4" r="2.8"/><circle cx="911" cy="418.8" r="2.8"/><circle cx="911.8" cy="415.8" r="2.8"/><circle cx="912.6" cy="415.4" r="2.8"/><circle cx="913.4" cy="420.3" r="2.8"/><circle cx="914.2" cy="413.4" r="2.8"/><circle cx="914.9" cy="417" r="2.8"/><circle cx="915.7" cy="416.8" r="2.8"/><circle cx="916.5" cy="414.3" r="2.8"/><circle cx="917.3" cy="418.7" r="2.8"/><circle cx="918.1" cy="415.4" r="2.8"/><circle cx="918.9" cy="418" r="2.8"/><circle cx="919.6" cy="419.1" r="2.8"/><circle cx="920.4" cy="413.5" r="2.8"/><circle cx="921.2" cy="418" r="2.8"/><circle cx="922" cy="416.1" r="2.8"/><circle cx="922.8" cy="418.9" r="2.8"/><circle cx="923.6" cy="417.8" r="2.8"/><circle cx="924.3" cy="414.8" r="2.8"/><circle cx="925.1" cy="413.6" r="2.8"/><circle cx="925.9" cy="411.9" r="2.8"/><circle cx="926.7" cy="416.9" r="2.8"/><circle cx="927.5" cy="413.2" r="2.8"/><circle cx="928.2" cy="416.9" r="2.8"/><circle cx="929" cy="416" r="2.8"/><circle cx="929.8" cy="414.2" r="2.8"/><circle cx="930.6" cy="414.3" r="2.8"/><circle cx="931.4" cy="417" r="2.8"/><circle cx="932.2" cy="419.4" r="2.8"/><circle cx="932.9" cy="413.5" r="2.8"/><circle cx="933.7" cy="417.6" r="2.8"/><circle cx="934.5" cy="415.8" r="2.8"/><circle cx="935.3" cy="416.6" r="2.8"/><circle cx="936.1" cy="412.7" r="2.8"/><circle cx="936.9" cy="411.9" r="2.8"/><circle cx="937.6" cy="413.7" r="2.8"/><circle cx="938.4" cy="416.8" r="2.8"/><circle cx="939.2" cy="415.6" r="2.8"/><circle cx="940" cy="417.7" r="2.8"/><circle cx="940.8" cy="414" r="2.8"/><circle cx="941.5" cy="418.5" r="2.8"/><circle cx="942.3" cy="418.6" r="2.8"/><circle cx="943.1" cy="417.5" r="2.8"/><circle cx="943.9" cy="415.4" r="2.8"/><circle cx="944.7" cy="425" r="2.8"/><circle cx="945.5" cy="417.8" r="2.8"/><circle cx="946.2" cy="419.5" r="2.8"/><circle cx="947" cy="416.1" r="2.8"/><circle cx="947.8" cy="419.1" r="2.8"/><circle cx="948.6" cy="419.7" r="2.8"/><circle cx="949.4" cy="419.6" r="2.8"/><circle cx="950.2" cy="419.9" r="2.8"/><circle cx="950.9" cy="419" r="2.8"/><circle cx="951.7" cy="420.1" r="2.8"/><circle cx="952.5" cy="416.8" r="2.8"/><circle cx="953.3" cy="418.5" r="2.8"/><circle cx="954.1" cy="417.9" r="2.8"/><circle cx="954.8" cy="421.8" r="2.8"/><circle cx="955.6" cy="415.8" r="2.8"/><circle cx="956.4" cy="418.7" r="2.8"/><circle cx="957.2" cy="421.9" r="2.8"/><circle cx="958" cy="417.3" r="2.8"/><circle cx="958.8" cy="417.7" r="2.8"/><circle cx="959.5" cy="419.6" r="2.8"/><circle cx="960.3" cy="422.4" r="2.8"/><circle cx="961.1" cy="417.3" r="2.8"/><circle cx="961.9" cy="417" r="2.8"/><circle cx="962.7" cy="417.2" r="2.8"/><circle cx="963.5" cy="417.4" r="2.8"/><circle cx="964.2" cy="420.2" r="2.8"/><circle cx="965" cy="416.7" r="2.8"/><circle cx="965.8" cy="420.2" r="2.8"/><circle cx="966.6" cy="418.2" r="2.8"/><circle cx="967.4" cy="419" r="2.8"/><circle cx="968.1" cy="422.4" r="2.8"/><circle cx="968.9" cy="417" r="2.8"/><circle cx="969.7" cy="422.5" r="2.8"/><circle cx="970.5" cy="419.5" r="2.8"/><circle cx="971.3" cy="415.6" r="2.8"/><circle cx="972.1" cy="422.8" r="2.8"/><circle cx="972.8" cy="419.4" r="2.8"/><circle cx="973.6" cy="418.7" r="2.8"/><circle cx="974.4" cy="419.2" r="2.8"/><circle cx="975.2" cy="415.8" r="2.8"/><circle cx="976" cy="425.5" r="2.8"/><circle cx="976.8" cy="418.2" r="2.8"/><circle cx="977.5" cy="418.6" r="2.8"/><circle cx="978.3" cy="417.4" r="2.8"/><circle cx="979.1" cy="419.9" r="2.8"/><circle cx="979.9" cy="420.1" r="2.8"/><circle cx="980.7" cy="422.1" r="2.8"/><circle cx="981.4" cy="418.9" r="2.8"/><circle cx="982.2" cy="419.4" r="2.8"/><circle cx="983" cy="416.8" r="2.8"/><circle cx="983.8" cy="426.8" r="2.8"/><circle cx="984.6" cy="422.7" r="2.8"/><circle cx="985.4" cy="422.8" r="2.8"/><circle cx="986.1" cy="420.9" r="2.8"/><circle cx="986.9" cy="415.1" r="2.8"/><circle cx="987.7" cy="425.7" r="2.8"/><circle cx="988.5" cy="419.9" r="2.8"/><circle cx="989.3" cy="419.5" r="2.8"/><circle cx="990.1" cy="419.8" r="2.8"/><circle cx="990.8" cy="429.5" r="2.8"/><circle cx="991.6" cy="421.7" r="2.8"/><circle cx="992.4" cy="423.8" r="2.8"/><circle cx="993.2" cy="418.1" r="2.8"/><circle cx="994" cy="421.9" r="2.8"/><circle cx="994.7" cy="420.1" r="2.8"/><circle cx="995.5" cy="420.7" r="2.8"/><circle cx="996.3" cy="425.4" r="2.8"/><circle cx="997.1" cy="422.6" r="2.8"/><circle cx="997.9" cy="421.8" r="2.8"/><circle cx="998.7" cy="425.6" r="2.8"/><circle cx="999.4" cy="423.9" r="2.8"/><circle cx="1000.2" cy="419.5" r="2.8"/><circle cx="1001" cy="423.8" r="2.8"/><circle cx="1001.8" cy="420.8" r="2.8"/><circle cx="1002.6" cy="422.1" r="2.8"/><circle cx="1003.4" cy="423.2" r="2.8"/><circle cx="1004.1" cy="419.9" r="2.8"/><circle cx="1004.9" cy="420.4" r="2.8"/><circle cx="1005.7" cy="425.1" r="2.8"/><circle cx="1006.5" cy="422.7" r="2.8"/><circle cx="1007.3" cy="424.4" r="2.8"/><circle cx="1008" cy="418.9" r="2.8"/><circle cx="1008.8" cy="423.8" r="2.8"/><circle cx="1009.6" cy="418.9" r="2.8"/><circle cx="1010.4" cy="425.4" r="2.8"/><circle cx="1011.2" cy="420.9" r="2.8"/><circle cx="1012" cy="422.8" r="2.8"/><circle cx="1012.7" cy="426" r="2.8"/><circle cx="1013.5" cy="425.6" r="2.8"/><circle cx="1014.3" cy="421.6" r="2.8"/><circle cx="1015.1" cy="420.1" r="2.8"/><circle cx="1015.9" cy="424.2" r="2.8"/><circle cx="1016.7" cy="422.1" r="2.8"/><circle cx="1017.4" cy="420.7" r="2.8"/><circle cx="1018.2" cy="423" r="2.8"/><circle cx="1019" cy="428.1" r="2.8"/><circle cx="1019.8" cy="426" r="2.8"/><circle cx="1020.6" cy="420.2" r="2.8"/><circle cx="1021.3" cy="423.4" r="2.8"/><circle cx="1022.1" cy="425.2" r="2.8"/><circle cx="1022.9" cy="422.1" r="2.8"/><circle cx="1023.7" cy="422.6" r="2.8"/><circle cx="1024.5" cy="419.9" r="2.8"/><circle cx="1025.3" cy="419.9" r="2.8"/><circle cx="1026" cy="426.9" r="2.8"/><circle cx="1026.8" cy="425" r="2.8"/><circle cx="1027.6" cy="420.2" r="2.8"/><circle cx="1028.4" cy="422.8" r="2.8"/><circle cx="1029.2" cy="424.9" r="2.8"/><circle cx="1030" cy="419.7" r="2.8"/><circle cx="1030.7" cy="419.1" r="2.8"/></g>
<g fill="#ff0000"><circle cx="648.1" cy="134.1" r="2.8"/><circle cx="648.4" cy="137.5" r="2.8"/><circle cx="648.6" cy="135.5" r="2.8"/><circle cx="648.1" cy="152.3" r="2.8"/><circle cx="651" cy="208" r="2.8"/><circle cx="659.8" cy="214.8" r="2.8"/><circle cx="657.2" cy="221.5" r="2.8"/><circle cx="646.5" cy="229.6" r="2.8"/><circle cx="673.9" cy="212.8" r="2.8"/><circle cx="689.1" cy="208" r="2.8"/><circle cx="759.6" cy="193.3" r="2.8"/><circle cx="803.5" cy="190.6" r="2.8"/><circle cx="652.4" cy="268.5" r="2.8"/><circle cx="686.4" cy="263.2" r="2.8"/><circle cx="702.4" cy="271.9" r="2.8"/><circle cx="723.7" cy="273.9" r="2.8"/><circle cx="866" cy="176.5" r="2.8"/><circle cx="913.6" cy="240.3" r="2.8"/><circle cx="1023.4" cy="169.7" r="2.8"/><circle cx="1029.6" cy="223.5" r="2.8"/><circle cx="651.8" cy="254.8" r="2.8"/><circle cx="652.5" cy="249.2" r="2.8"/><circle cx="653.4" cy="246.6" r="2.8"/><circle cx="654.6" cy="235.3" r="2.8"/><circle cx="655.4" cy="249" r="2.8"/><circle cx="655.9" cy="265.1" r="2.8"/><circle cx="656.8" cy="246" r="2.8"/><circle cx="657.6" cy="230.9" r="2.8"/><circle cx="658.7" cy="222.3" r="2.8"/><circle cx="659.4" cy="230.6" r="2.8"/><circle cx="660.2" cy="252.3" r="2.8"/><circle cx="660.9" cy="232.9" r="2.8"/><circle cx="661.7" cy="243.5" r="2.8"/><circle cx="662.8" cy="250.3" r="2.8"/><circle cx="663.4" cy="244.1" r="2.8"/><circle cx="664.3" cy="249.4" r="2.8"/><circle cx="665.2" cy="233.7" r="2.8"/><circle cx="665.9" cy="228.7" r="2.8"/><circle cx="666.7" cy="246.1" r="2.8"/><circle cx="667.7" cy="237.2" r="2.8"/><circle cx="668.6" cy="261.9" r="2.8"/><circle cx="669.4" cy="248.3" r="2.8"/><circle cx="670.1" cy="249.6" r="2.8"/><circle cx="671.2" cy="246.6" r="2.8"/><circle cx="672" cy="239.5" r="2.8"/><circle cx="672.8" cy="259.7" r="2.8"/><circle cx="673.7" cy="243.7" r="2.8"/><circle cx="674.3" cy="220.4" r="2.8"/><circle cx="675.3" cy="260.3" r="2.8"/><circle cx="676.2" cy="252.3" r="2.8"/><circle cx="676.7" cy="263.6" r="2.8"/><circle cx="677.6" cy="238.8" r="2.8"/><circle cx="678.2" cy="257" r="2.8"/><circle cx="679.1" cy="242.5" r="2.8"/><circle cx="680.3" cy="241.4" r="2.8"/><circle cx="681.2" cy="245.2" r="2.8"/><circle cx="682" cy="264.4" r="2.8"/><circle cx="682.5" cy="238.5" r="2.8"/><circle cx="683.4" cy="241.9" r="2.8"/><circle cx="684.1" cy="250" r="2.8"/><circle cx="685.2" cy="253.1" r="2.8"/><circle cx="686.1" cy="245.1" r="2.8"/><circle cx="687" cy="238.8" r="2.8"/><circle cx="687.7" cy="239.6" r="2.8"/><circle cx="688.3" cy="243.3" r="2.8"/><circle cx="689.2" cy="238.9" r="2.8"/><circle cx="690.3" cy="231.4" r="2.8"/><circle cx="690.7" cy="237.1" r="2.8"/><circle cx="691.8" cy="234.8" r="2.8"/><circle cx="692.8" cy="255.2" r="2.8"/><circle cx="693.4" cy="242.5" r="2.8"/><circle cx="694.3" cy="264" r="2.8"/><circle cx="695.3" cy="244.5" r="2.8"/><circle cx="695.9" cy="253.5" r="2.8"/><circle cx="696.5" cy="256.4" r="2.8"/><circle cx="697.7" cy="261.8" r="2.8"/><circle cx="698.6" cy="254" r="2.8"/><circle cx="699.1" cy="243.7" r="2.8"/><circle cx="699.8" cy="221.8" r="2.8"/><circle cx="700.8" cy="235.9" r="2.8"/><circle cx="701.8" cy="241.2" r="2.8"/><circle cx="702.5" cy="264.7" r="2.8"/><circle cx="703.2" cy="244.3" r="2.8"/><circle cx="704.3" cy="244.7" r="2.8"/><circle cx="705.3" cy="236.2" r="2.8"/><circle cx="705.9" cy="256" r="2.8"/><circle cx="706.8" cy="246.9" r="2.8"/><circle cx="707.5" cy="233.1" r="2.8"/><circle cx="708.4" cy="260.3" r="2.8"/><circle cx="709" cy="249" r="2.8"/><circle cx="710.2" cy="241.1" r="2.8"/><circle cx="710.6" cy="248.5" r="2.8"/><circle cx="711.5" cy="239.8" r="2.8"/><circle cx="712.7" cy="254.8" r="2.8"/><circle cx="713.5" cy="235.8" r="2.8"/><circle cx="714" cy="253.5" r="2.8"/><circle cx="714.9" cy="233.2" r="2.8"/><circle cx="715.9" cy="254.8" r="2.8"/><circle cx="716.9" cy="235.7" r="2.8"/><circle cx="717.3" cy="247.9" r="2.8"/><circle cx="718.2" cy="232.3" r="2.8"/><circle cx="719.2" cy="233.1" r="2.8"/><circle cx="720.1" cy="221.4" r="2.8"/><circle cx="720.9" cy="228.7" r="2.8"/><circle cx="721.5" cy="235.1" r="2.8"/><circle cx="722.6" cy="243" r="2.8"/><circle cx="723.4" cy="240.4" r="2.8"/><circle cx="724.2" cy="241.5" r="2.8"/><circle cx="724.9" cy="241.9" r="2.8"/><circle cx="725.8" cy="235.2" r="2.8"/><circle cx="726.9" cy="242.5" r="2.8"/><circle cx="727.3" cy="251.3" r="2.8"/><circle cx="728.2" cy="255.8" r="2.8"/><circle cx="729" cy="236.9" r="2.8"/><circle cx="730.2" cy="252.1" r="2.8"/><circle cx="730.9" cy="237.1" r="2.8"/><circle cx="731.8" cy="237" r="2.8"/><circle cx="732.3" cy="227.9" r="2.8"/><circle cx="733.3" cy="241.4" r="2.8"/><circle cx="734.2" cy="228.3" r="2.8"/><circle cx="735.2" cy="230.5" r="2.8"/><circle cx="735.9" cy="227.2" r="2.8"/><circle cx="736.6" cy="222.8" r="2.8"/><circle cx="737.4" cy="253.6" r="2.8"/><circle cx="738.5" cy="242.2" r="2.8"/><circle cx="739" cy="223.8" r="2.8"/><circle cx="739.8" cy="234.3" r="2.8"/><circle cx="740.6" cy="244.5" r="2.8"/><circle cx="741.6" cy="251.9" r="2.8"/><circle cx="742.5" cy="222.8" r="2.8"/><circle cx="743.3" cy="227.1" r="2.8"/><circle cx="743.9" cy="230.2" r="2.8"/><circle cx="744.8" cy="239" r="2.8"/><circle cx="745.9" cy="214.4" r="2.8"/><circle cx="746.4" cy="240.2" r="2.8"/><circle cx="747.5" cy="240.8" r="2.8"/><circle cx="748.4" cy="244" r="2.8"/><circle cx="749.1" cy="238.5" r="2.8"/><circle cx="749.9" cy="224.5" r="2.8"/><circle cx="750.9" cy="238.4" r="2.8"/><circle cx="751.7" cy="240.6" r="2.8"/><circle cx="752.5" cy="215.2" r="2.8"/><circle cx="753.1" cy="251.9" r="2.8"/><circle cx="754.3" cy="247.1" r="2.8"/><circle cx="754.7" cy="225.8" r="2.8"/><circle cx="756" cy="240.7" r="2.8"/><circle cx="756.8" cy="219.6" r="2.8"/><circle cx="757.2" cy="242.7" r="2.8"/><circle cx="758.1" cy="236.2" r="2.8"/><circle cx="758.9" cy="221.2" r="2.8"/><circle cx="759.9" cy="223" r="2.8"/><circle cx="760.7" cy="242.4" r="2.8"/><circle cx="761.5" cy="237.1" r="2.8"/><circle cx="762.2" cy="248.6" r="2.8"/><circle cx="763.1" cy="235.6" r="2.8"/><circle cx="764.1" cy="222.1" r="2.8"/><circle cx="764.7" cy="216" r="2.8"/><circle cx="765.5" cy="234.9" r="2.8"/><circle cx="766.5" cy="243.3" r="2.8"/><circle cx="767.5" cy="239.2" r="2.8"/><circle cx="768.4" cy="227.4" r="2.8"/><circle cx="768.8" cy="245.7" r="2.8"/><circle cx="770.1" cy="239.2" r="2.8"/><circle cx="770.6" cy="232.8" r="2.8"/><circle cx="771.6" cy="230.5" r="2.8"/><circle cx="772.4" cy="223.3" r="2.8"/><circle cx="773.3" cy="208.5" r="2.8"/><circle cx="773.9" cy="208.6" r="2.8"/><circle cx="774.7" cy="245.1" r="2.8"/><circle cx="775.6" cy="235.1" r="2.8"/><circle cx="776.5" cy="246.9" r="2.8"/><circle cx="777.2" cy="223.7" r="2.8"/><circle cx="778.4" cy="233.5" r="2.8"/><circle cx="778.8" cy="219.1" r="2.8"/><circle cx="779.8" cy="226.4" r="2.8"/><circle cx="780.5" cy="229.5" r="2.8"/><circle cx="781.5" cy="234.3" r="2.8"/><circle cx="782.3" cy="222.4" r="2.8"/><circle cx="783.1" cy="210.3" r="2.8"/><circle cx="784" cy="221.4" r="2.8"/><circle cx="784.6" cy="233.5" r="2.8"/><circle cx="785.7" cy="219.2" r="2.8"/><circle cx="786.8" cy="229.8" r="2.8"/><circle cx="787.1" cy="220.5" r="2.8"/><circle cx="788.4" cy="205.2" r="2.8"/><circle cx="788.8" cy="233.2" r="2.8"/><circle cx="789.8" cy="238.8" r="2.8"/><circle cx="790.8" cy="230.1" r="2.8"/><circle cx="791.5" cy="227.3" r="2.8"/><circle cx="792.4" cy="216" r="2.8"/><circle cx="793" cy="197.8" r="2.8"/><circle cx="794" cy="231.2" r="2.8"/><circle cx="794.8" cy="205.8" r="2.8"/><circle cx="795.5" cy="222" r="2.8"/><circle cx="796.3" cy="223" r="2.8"/><circle cx="797.4" cy="226.2" r="2.8"/><circle cx="798.2" cy="236" r="2.8"/><circle cx="798.9" cy="225.2" r="2.8"/><circle cx="799.6" cy="205.1" r="2.8"/><circle cx="800.5" cy="214.4" r="2.8"/><circle cx="801.6" cy="222.3" r="2.8"/><circle cx="802.4" cy="212.3" r="2.8"/><circle cx="803" cy="219.4" r="2.8"/><circle cx="804.2" cy="210.1" r="2.8"/><circle cx="804.7" cy="217.1" r="2.8"/><circle cx="805.5" cy="214.6" r="2.8"/><circle cx="806.3" cy="190.9" r="2.8"/><circle cx="807.3" cy="222" r="2.8"/><circle cx="808.1" cy="186.3" r="2.8"/><circle cx="809" cy="217.7" r="2.8"/><circle cx="809.9" cy="214.4" r="2.8"/><circle cx="810.8" cy="204.4" r="2.8"/><circle cx="811.4" cy="211.7" r="2.8"/><circle cx="812.2" cy="213" r="2.8"/><circle cx="812.9" cy="195.1" r="2.8"/><circle cx="813.9" cy="200.7" r="2.8"/><circle cx="814.7" cy="214.2" r="2.8"/><circle cx="815.5" cy="206.8" r="2.8"/><circle cx="816.4" cy="221.1" r="2.8"/><circle cx="817" cy="185.3" r="2.8"/><circle cx="818.3" cy="214.4" r="2.8"/><circle cx="818.8" cy="215.4" r="2.8"/><circle cx="819.8" cy="213.6" r="2.8"/><circle cx="820.5" cy="190.7" r="2.8"/><circle cx="821.4" cy="217.7" r="2.8"/><circle cx="822.3" cy="207.2" r="2.8"/><circle cx="822.9" cy="224.7" r="2.8"/><circle cx="823.8" cy="205.8" r="2.8"/><circle cx="824.8" cy="203.1" r="2.8"/><circle cx="825.6" cy="221.3" r="2.8"/><circle cx="826.2" cy="212.3" r="2.8"/><circle cx="827.5" cy="200" r="2.8"/><circle cx="827.9" cy="193.9" r="2.8"/><circle cx="828.7" cy="215.6" r="2.8"/><circle cx="830" cy="209.3" r="2.8"/><circle cx="830.6" cy="203.7" r="2.8"/><circle cx="831.2" cy="228.5" r="2.8"/><circle cx="832.2" cy="228.6" r="2.8"/><circle cx="833.1" cy="180.6" r="2.8"/><circle cx="833.7" cy="189.4" r="2.8"/><circle cx="834.9" cy="211.8" r="2.8"/><circle cx="835.3" cy="207.6" r="2.8"/><circle cx="836.3" cy="215.6" r="2.8"/><circle cx="837.2" cy="214.7" r="2.8"/><circle cx="838" cy="202.7" r="2.8"/><circle cx="838.9" cy="201.1" r="2.8"/><circle cx="839.9" cy="182.6" r="2.8"/><circle cx="840.3" cy="211.9" r="2.8"/><circle cx="841.3" cy="211.4" r="2.8"/><circle cx="842.3" cy="228.5" r="2.8"/><circle cx="843.2" cy="213.4" r="2.8"/><circle cx="843.8" cy="204.9" r="2.8"/><circle cx="844.5" cy="219.8" r="2.8"/><circle cx="845.6" cy="185.6" r="2.8"/><circle cx="846.2" cy="204.5" r="2.8"/><circle cx="847.2" cy="203.7" r="2.8"/><circle cx="847.9" cy="203.7" r="2.8"/><circle cx="848.8" cy="202.7" r="2.8"/><circle cx="849.7" cy="208.7" r="2.8"/><circle cx="850.5" cy="209" r="2.8"/><circle cx="851.2" cy="211.7" r="2.8"/><circle cx="852.3" cy="211.6" r="2.8"/><circle cx="853" cy="200" r="2.8"/><circle cx="854" cy="191.6" r="2.8"/><circle cx="854.5" cy="202.9" r="2.8"/><circle cx="855.6" cy="194.3" r="2.8"/><circle cx="856.4" cy="217.5" r="2.8"/><circle cx="857.3" cy="191" r="2.8"/><circle cx="858.1" cy="199.8" r="2.8"/><circle cx="858.8" cy="200.9" r="2.8"/><circle cx="859.8" cy="216.9" r="2.8"/><circle cx="860.6" cy="185.6" r="2.8"/><circle cx="861.3" cy="183" r="2.8"/><circle cx="861.9" cy="214.6" r="2.8"/><circle cx="862.8" cy="208.8" r="2.8"/><circle cx="863.8" cy="195.1" r="2.8"/><circle cx="864.8" cy="206.6" r="2.8"/><circle cx="865.4" cy="198.7" r="2.8"/><circle cx="866.2" cy="200.2" r="2.8"/><circle cx="867.1" cy="206.8" r="2.8"/><circle cx="868.1" cy="192.3" r="2.8"/><circle cx="868.7" cy="212.1" r="2.8"/><circle cx="869.5" cy="193.9" r="2.8"/><circle cx="870.4" cy="211.7" r="2.8"/><circle cx="871.4" cy="193.5" r="2.8"/><circle cx="872" cy="202.3" r="2.8"/><circle cx="872.9" cy="190.6" r="2.8"/><circle cx="873.6" cy="186.1" r="2.8"/><circle cx="874.9" cy="212.4" r="2.8"/><circle cx="875.5" cy="184.9" r="2.8"/><circle cx="876.5" cy="207.9" r="2.8"/><circle cx="876.9" cy="204.8" r="2.8"/><circle cx="877.9" cy="211.6" r="2.8"/><circle cx="879" cy="191.2" r="2.8"/><circle cx="879.5" cy="207.8" r="2.8"/><circle cx="880.4" cy="216.3" r="2.8"/><circle cx="881.1" cy="188.9" r="2.8"/><circle cx="881.9" cy="202.1" r="2.8"/><circle cx="883" cy="202" r="2.8"/><circle cx="883.7" cy="204.4" r="2.8"/><circle cx="884.4" cy="200.2" r="2.8"/><circle cx="885.2" cy="185.6" r="2.8"/><circle cx="886.2" cy="216.9" r="2.8"/><circle cx="887.1" cy="199.2" r="2.8"/><circle cx="887.9" cy="183.4" r="2.8"/><circle cx="888.8" cy="190.4" r="2.8"/><circle cx="889.7" cy="211.5" r="2.8"/><circle cx="890.6" cy="198.5" r="2.8"/><circle cx="891.3" cy="182.1" r="2.8"/><circle cx="892" cy="192.5" r="2.8"/><circle cx="892.9" cy="206.2" r="2.8"/><circle cx="893.5" cy="188.4" r="2.8"/><circle cx="894.6" cy="196.6" r="2.8"/><circle cx="895.3" cy="199.6" r="2.8"/><circle cx="896" cy="202.6" r="2.8"/><circle cx="896.8" cy="207.9" r="2.8"/><circle cx="897.7" cy="193.8" r="2.8"/><circle cx="898.8" cy="211.9" r="2.8"/><circle cx="899.5" cy="211.9" r="2.8"/><circle cx="900.5" cy="207.4" r="2.8"/><circle cx="901.1" cy="220" r="2.8"/><circle cx="902" cy="209.4" r="2.8"/><circle cx="902.9" cy="205.4" r="2.8"/><circle cx="903.8" cy="194.3" r="2.8"/><circle cx="904.4" cy="229.9" r="2.8"/><circle cx="905.6" cy="223.1" r="2.8"/><circle cx="906.4" cy="197.6" r="2.8"/><circle cx="907.1" cy="216.1" r="2.8"/><circle cx="907.9" cy="202.5" r="2.8"/><circle cx="908.5" cy="204" r="2.8"/><circle cx="909.5" cy="221.4" r="2.8"/><circle cx="910.3" cy="228.4" r="2.8"/><circle cx="911.4" cy="216.8" r="2.8"/><circle cx="911.9" cy="204.5" r="2.8"/><circle cx="912.7" cy="202.5" r="2.8"/><circle cx="913.9" cy="195.5" r="2.8"/><circle cx="914.5" cy="230.6" r="2.8"/><circle cx="915.2" cy="208.4" r="2.8"/><circle cx="916.4" cy="210.6" r="2.8"/><circle cx="916.9" cy="224.8" r="2.8"/><circle cx="917.6" cy="187.8" r="2.8"/><circle cx="918.7" cy="207.5" r="2.8"/><circle cx="919.5" cy="229.1" r="2.8"/><circle cx="920.3" cy="213.6" r="2.8"/><circle cx="921.1" cy="218" r="2.8"/><circle cx="922" cy="200.3" r="2.8"/><circle cx="922.7" cy="200.4" r="2.8"/><circle cx="923.6" cy="208.3" r="2.8"/><circle cx="924.3" cy="214.8" r="2.8"/><circle cx="925.1" cy="210.8" r="2.8"/><circle cx="926.3" cy="218.5" r="2.8"/><circle cx="927.1" cy="223.7" r="2.8"/><circle cx="928" cy="197.6" r="2.8"/><circle cx="928.7" cy="223" r="2.8"/><circle cx="929.7" cy="194.9" r="2.8"/><circle cx="930.4" cy="212.4" r="2.8"/><circle cx="931.4" cy="206.1" r="2.8"/><circle cx="932" cy="216.5" r="2.8"/><circle cx="932.6" cy="198.1" r="2.8"/><circle cx="933.5" cy="225.9" r="2.8"/><circle cx="934.2" cy="224.4" r="2.8"/><circle cx="935.3" cy="217.1" r="2.8"/><circle cx="936" cy="200.9" r="2.8"/><circle cx="937" cy="188" r="2.8"/><circle cx="937.8" cy="202.9" r="2.8"/><circle cx="938.7" cy="208.8" r="2.8"/><circle cx="939.6" cy="214.1" r="2.8"/><circle cx="940.5" cy="218.1" r="2.8"/><circle cx="941" cy="201.9" r="2.8"/><circle cx="941.9" cy="217.1" r="2.8"/><circle cx="942.8" cy="218.1" r="2.8"/><circle cx="943.5" cy="222.5" r="2.8"/><circle cx="944.6" cy="215.5" r="2.8"/><circle cx="945.1" cy="215.4" r="2.8"/><circle cx="946.2" cy="204.2" r="2.8"/><circle cx="947.1" cy="186.9" r="2.8"/><circle cx="948" cy="217.5" r="2.8"/><circle cx="948.7" cy="193.2" r="2.8"/><circle cx="949.2" cy="209.2" r="2.8"/><circle cx="950.3" cy="201.6" r="2.8"/><circle cx="951.3" cy="205.9" r="2.8"/><circle cx="951.8" cy="231.2" r="2.8"/><circle cx="952.8" cy="203" r="2.8"/><circle cx="953.5" cy="210.9" r="2.8"/><circle cx="954.5" cy="211.7" r="2.8"/><circle cx="955.2" cy="224.1" r="2.8"/><circle cx="956.3" cy="210.2" r="2.8"/><circle cx="957.1" cy="219.4" r="2.8"/><circle cx="957.9" cy="215" r="2.8"/><circle cx="958.6" cy="228.2" r="2.8"/><circle cx="959.5" cy="197.9" r="2.8"/><circle cx="960.2" cy="217.2" r="2.8"/><circle cx="961.3" cy="222.1" r="2.8"/><circle cx="962.1" cy="199.6" r="2.8"/><circle cx="962.9" cy="196.1" r="2.8"/><circle cx="963.8" cy="218.6" r="2.8"/><circle cx="964.3" cy="202.5" r="2.8"/><circle cx="965.2" cy="200.2" r="2.8"/><circle cx="966.1" cy="196.9" r="2.8"/><circle cx="966.7" cy="227.9" r="2.8"/><circle cx="967.9" cy="220.7" r="2.8"/><circle cx="968.4" cy="197" r="2.8"/><circle cx="969.5" cy="194.6" r="2.8"/><circle cx="970.3" cy="222.6" r="2.8"/><circle cx="971" cy="190" r="2.8"/><circle cx="972.1" cy="208.5" r="2.8"/><circle cx="972.7" cy="211.6" r="2.8"/><circle cx="973.3" cy="205.3" r="2.8"/><circle cx="974.2" cy="224.6" r="2.8"/><circle cx="975.2" cy="204.7" r="2.8"/><circle cx="976" cy="209.5" r="2.8"/><circle cx="976.8" cy="201.8" r="2.8"/><circle cx="977.9" cy="212.4" r="2.8"/><circle cx="978.4" cy="222.5" r="2.8"/><circle cx="979.4" cy="198.2" r="2.8"/><circle cx="980.1" cy="203.4" r="2.8"/><circle cx="980.9" cy="211.9" r="2.8"/><circle cx="981.9" cy="198.2" r="2.8"/><circle cx="982.7" cy="199" r="2.8"/><circle cx="983.7" cy="196" r="2.8"/><circle cx="984.6" cy="202.1" r="2.8"/><circle cx="985.3" cy="197" r="2.8"/><circle cx="985.9" cy="206.1" r="2.8"/><circle cx="986.7" cy="199.4" r="2.8"/><circle cx="987.6" cy="193.5" r="2.8"/><circle cx="988.6" cy="197.5" r="2.8"/><circle cx="989.2" cy="193.1" r="2.8"/><circle cx="990" cy="202.9" r="2.8"/><circle cx="991" cy="193.8" r="2.8"/><circle cx="991.7" cy="185.6" r="2.8"/><circle cx="992.6" cy="210.9" r="2.8"/><circle cx="993.6" cy="196.2" r="2.8"/><circle cx="994.3" cy="190.3" r="2.8"/><circle cx="995.3" cy="218.1" r="2.8"/><circle cx="996" cy="203.5" r="2.8"/><circle cx="996.8" cy="197.6" r="2.8"/><circle cx="997.6" cy="206" r="2.8"/><circle cx="998.7" cy="214.8" r="2.8"/><circle cx="999.2" cy="197.4" r="2.8"/><circle cx="1000.1" cy="217.9" r="2.8"/><circle cx="1001" cy="189.5" r="2.8"/><circle cx="1001.8" cy="200.7" r="2.8"/><circle cx="1002.8" cy="201" r="2.8"/><circle cx="1003.3" cy="210.7" r="2.8"/><circle cx="1004.4" cy="202.1" r="2.8"/><circle cx="1004.9" cy="205.2" r="2.8"/><circle cx="1006" cy="204.5" r="2.8"/><circle cx="1006.8" cy="218.2" r="2.8"/><circle cx="1007.4" cy="207.1" r="2.8"/><circle cx="1008.5" cy="203.6" r="2.8"/><circle cx="1009.4" cy="209.9" r="2.8"/><circle cx="1010.1" cy="197.7" r="2.8"/><circle cx="1010.9" cy="208.9" r="2.8"/><circle cx="1011.6" cy="210.2" r="2.8"/><circle cx="1012.5" cy="198.2" r="2.8"/><circle cx="1013.5" cy="207.4" r="2.8"/><circle cx="1014.2" cy="196.7" r="2.8"/><circle cx="1015.1" cy="205.1" r="2.8"/><circle cx="1016" cy="206.2" r="2.8"/><circle cx="1017" cy="183.5" r="2.8"/><circle cx="1017.6" cy="207" r="2.8"/><circle cx="1018.4" cy="203.1" r="2.8"/><circle cx="1019.2" cy="201.2" r="2.8"/><circle cx="1020.1" cy="190" r="2.8"/><circle cx="1020.9" cy="195.6" r="2.8"/><circle cx="1021.8" cy="195.8" r="2.8"/><circle cx="1022.5" cy="200.3" r="2.8"/><circle cx="1023.6" cy="206.2" r="2.8"/><circle cx="1024.4" cy="190.2" r="2.8"/><circle cx="1025.1" cy="195.7" r="2.8"/><circle cx="1026" cy="192.3" r="2.8"/><circle cx="1026.8" cy="206.8" r="2.8"/><circle cx="1027.6" cy="205.2" r="2.8"/><circle cx="1028.3" cy="223.4" r="2.8"/><circle cx="1029.4" cy="194.5" r="2.8"/></g>
</g>
<path d="M654.5 577.5v4.1M814.5 577.5v4.1M973.5 577.5v4.1M627.5 577.5h-4.4M627.5 510.5h-4.4M627.5 443.5h-4.4M627.5 376.5h-4.4M627.5 308.5h-4.4M627.5 241.5h-4.4M627.5 174.5h-4.4M627.5 107.5h-4.4M627.5 40.5h-4.4" stroke="#000" stroke-width="1.1" fill="none"/>
<rect x="627.5" y="40.5" width="420" height="537" fill="none" stroke="#000" stroke-width="1.1"/>
<g font-size="27.8" text-anchor="end"><text transform="translate(618.9 586.5) scale(0.95 1.05)">7</text><text transform="translate(618.9 519.4) scale(0.95 1.05)">8</text><text transform="translate(618.9 452.1) scale(0.95 1.05)">9</text><text transform="translate(618.3 384.9) scale(0.93 1.05)">10</text><text transform="translate(618.3 317.7) scale(0.93 1.05)">11</text><text transform="translate(618.3 250.5) scale(0.93 1.05)">12</text><text transform="translate(618.3 183.3) scale(0.93 1.05)">13</text><text transform="translate(618.3 116.1) scale(0.93 1.05)">14</text><text transform="translate(618.3 48.9) scale(0.93 1.05)">15</text></g>
<g font-size="27.8" text-anchor="middle"><text transform="translate(654.2 603.9) scale(0.976 1.05)">00:00</text><text transform="translate(813.4 603.9) scale(0.976 1.05)">06:00</text><text transform="translate(971.6 603.9) scale(0.976 1.05)">12:00</text></g>
<text font-size="33.3" text-anchor="middle" letter-spacing="0.15" transform="translate(577 308.3) rotate(-90)">Vertical luminous region (<tspan font-style="italic">μ</tspan>m)</text>
</g>
<g>
<clipPath id="c2"><rect x="1151.5" y="40.5" width="419" height="537"/></clipPath>
<path d="M1178.5 40.5V577.5M1337.5 40.5V577.5M1496.5 40.5V577.5M1151.5 577.5H1570.5M1151.5 505.5H1570.5M1151.5 434.5H1570.5M1151.5 362.5H1570.5M1151.5 290.5H1570.5M1151.5 219.5H1570.5M1151.5 147.5H1570.5M1151.5 75.5H1570.5" stroke="#b0b0b0" stroke-width="1.1" fill="none"/>
<g clip-path="url(#c2)">
<path d="M1172.1 90.2 L1172.3 93.8 L1172.4 113.5 L1173.7 160.1 L1174.5 178 L1174.8 219.2 L1175.1 240.8 L1175.3 255.1 L1175.6 260.5 L1175.8 265.8 L1177.7 247.9 L1178.5 246.1 L1179.6 247.9 L1180.6 245.1 L1181.7 246.1 L1182.7 244.3 L1183.8 246.1 L1184.9 244.3 L1185.9 242.5 L1186.7 244.3 L1187.2 259.7 L1188.6 273 L1189.1 271.3 L1189.9 265.3 L1190.7 269.4 L1191.4 264.8 L1192.2 265.1 L1193 263.8 L1193.8 265.1 L1194.6 264.2 L1195.3 263.1 L1196.1 262.8 L1196.9 262 L1197.7 261.8 L1198.5 262.4 L1199.2 263.8 L1200 258.1 L1200.8 265.4 L1201.6 266 L1202.3 273.1 L1203.1 278.4 L1203.9 283.8 L1204.7 283.5 L1205.5 277.5 L1206.2 282.9 L1207 281.4 L1207.8 278.4 L1208.6 281.9 L1209.4 278.7 L1210.1 280.8 L1210.9 281.3 L1211.7 286.5 L1212.5 284.5 L1213.3 278.1 L1214 276.3 L1214.8 282.5 L1215.6 298.7 L1215.9 316 L1216.1 321.4 L1216.4 298.5 L1216.4 310.6 L1217.2 300.5 L1217.9 299.3 L1218.7 305.7 L1219.5 306.3 L1220.3 304.3 L1221.1 301.7 L1221.8 308.1 L1222.6 301.1 L1223.4 307.3 L1224.2 304.3 L1225 300.1 L1225.7 308.8 L1226.5 305.5 L1227.3 301.6 L1228.1 302.9 L1228.8 301.5 L1229.6 298.8 L1230.4 298.9 L1231.2 301.3 L1232 301.9 L1232.7 304.8 L1233.5 301.2 L1234.3 298.1 L1235.1 303.7 L1235.9 300.1 L1236.6 299.1 L1237.4 298.8 L1238.2 303.5 L1239 300.2 L1239.8 300.2 L1240.5 298.6 L1241.3 293.3 L1242.1 298.2 L1242.9 295.9 L1243.7 299.3 L1244.4 292.7 L1245.2 296.2 L1246 291.8 L1246.8 295 L1247.6 291 L1248.3 297.9 L1249.1 292.6 L1249.9 290 L1250.7 297.1 L1251.5 294.4 L1252.2 294.5 L1252.7 310.6 L1253 296 L1253.5 323.2 L1253.8 294.3 L1254.6 294.5 L1255.3 290.5 L1255.3 310.6 L1256.1 293.2 L1256.9 292.1 L1257.7 290.7 L1258.5 291.9 L1259.2 292.7 L1260 290.6 L1260.8 294.8 L1261.6 294.7 L1262.4 290.9 L1263.1 292.3 L1263.3 301.7 L1263.9 294.2 L1264.7 291.4 L1265.5 294.1 L1266.3 292.6 L1267 287.7 L1267.8 291.5 L1268.6 291.9 L1269.4 288.7 L1270.2 290.9 L1270.9 295 L1271.7 288.5 L1272.5 292.2 L1273.3 286.9 L1274.1 288.9 L1274.8 294.4 L1275.6 290 L1276.4 290.1 L1277.2 294.1 L1277.6 303.5 L1278 289.1 L1278.7 286.2 L1279.5 288.7 L1280.3 336.8 L1280.3 293.8 L1281.1 289.7 L1281.8 288.5 L1282.6 291 L1282.6 319.6 L1283.4 292.6 L1283.4 307.1 L1284.2 289.4 L1285 285.2 L1285.7 286.8 L1286.5 289 L1287.3 289.8 L1288.1 291.8 L1288.9 280.9 L1289.6 288 L1290.4 287.5 L1291.2 288.5 L1292 286.2 L1292.8 292.4 L1293.5 289.5 L1294.3 290.5 L1295.1 289.1 L1295.9 287.8 L1296.7 289 L1297.4 289.1 L1298.2 289.2 L1299 286.5 L1299.8 291.3 L1300.6 285.8 L1301.3 289.5 L1302.1 289.7 L1302.9 286.6 L1303.7 290.5 L1304.5 289.3 L1305.2 286.8 L1306 288.4 L1306.8 290 L1307 297.4 L1307.6 289.8 L1308.3 289.4 L1309.1 289.2 L1309.9 289.9 L1310.7 288.7 L1311.5 290.5 L1312.2 282.6 L1313 283.4 L1313.8 285.1 L1314.6 283 L1315.4 288 L1316.1 286.4 L1316.9 284.3 L1317.7 286.1 L1318.5 286.8 L1319.3 282.9 L1320 280 L1320.8 283.1 L1321.6 282.4 L1322.4 286.6 L1323.2 288.2 L1323.9 282.5 L1324.7 282 L1325.5 281.4 L1326.3 286.6 L1327.1 285.9 L1327.8 281 L1328.2 294.5 L1328.5 302.4 L1328.6 285.8 L1328.9 -34151.3 L1329.3 283.8 L1329.4 282.8 L1330.2 282.2 L1331 283.2 L1331.7 283.5 L1332.5 277.7 L1333.3 281 L1334.1 280.9 L1334.8 280.9 L1335.6 279.4 L1336.4 283.7 L1337.2 280.1 L1338 279.8 L1338.7 283.9 L1339.5 284.4 L1340.3 280.8 L1341.1 279.9 L1341.9 278.7 L1342.6 276.4 L1343.4 278.6 L1344.2 281.1 L1345 277.5 L1345.8 283.1 L1346.5 285.8 L1347.3 279.1 L1348.1 277.3 L1348.9 278.7 L1349.7 282.9 L1350.4 280.7 L1351.2 280 L1352 281.2 L1352.8 275.5 L1353.4 285.6 L1353.6 279 L1354.3 282.2 L1355.1 270 L1355.9 272.9 L1356.7 271.1 L1357.5 266.5 L1358.2 277.2 L1359 275.7 L1359.8 272.7 L1360.6 263.7 L1361.3 272.7 L1362.1 268.6 L1362.9 270.4 L1363.7 271.9 L1364.5 268.7 L1365.2 269.8 L1366 271.6 L1366.8 263.5 L1367.6 272.6 L1368.4 272.1 L1369.1 273.1 L1369.9 261.5 L1370.7 266.7 L1371.5 264.9 L1372.3 273.1 L1373 269.5 L1373.8 265.5 L1374.6 267.5 L1375.4 267.8 L1376.2 262.9 L1376.9 269.7 L1377.7 267.6 L1378.5 267.5 L1379.3 267 L1380.1 264 L1380.8 266.3 L1381.6 265.9 L1382.4 263.8 L1383.2 265.1 L1384 265 L1384.7 269.2 L1385.5 263.7 L1386.3 263.8 L1387.1 262.8 L1387.8 267.7 L1388.6 265.8 L1389.4 264.5 L1390.2 261.7 L1391 262 L1391.7 266.7 L1392.5 262.4 L1393.3 264.1 L1394.1 263 L1394.9 261.5 L1395.6 266.9 L1396.4 265.3 L1397.2 264.2 L1398 268.2 L1398.8 269.9 L1399.5 265 L1400.3 266.7 L1401.1 269.2 L1401.9 266.9 L1402.7 268.3 L1403.4 264.5 L1404.2 264.2 L1405 257.8 L1405.8 265 L1406.6 266.2 L1407.3 263.3 L1408.1 259.5 L1408.9 258.2 L1409.7 260.3 L1410.5 260.2 L1411.2 263 L1412 260.3 L1412.8 258.1 L1413.6 257.7 L1414.3 262.4 L1415.1 259 L1415.9 257.8 L1416.7 257.7 L1417.5 254.9 L1418.2 256.3 L1419 251.9 L1419.8 260.8 L1420.6 261.2 L1421.4 258 L1422.1 257.6 L1422.9 257.3 L1423.7 257.2 L1424.5 254.1 L1425.3 255.2 L1426 258.7 L1426.8 254 L1427.6 255.6 L1428.4 253.4 L1429.2 256.7 L1429.9 251.5 L1430.7 253.8 L1431.5 254.2 L1432.3 253.9 L1433.1 249.8 L1433.8 247.1 L1434.6 241.5 L1435.4 216 L1436.2 199.6 L1437 187.5 L1437.7 176.9 L1438.5 177.6 L1439.3 173.1 L1440.1 163.3 L1440.8 165 L1441.6 163.8 L1442.4 155.6 L1443.2 144 L1444 151.3 L1444.7 148.9 L1445.5 142.5 L1446.3 139.8 L1447.1 138.3 L1447.9 133.6 L1448.6 132 L1449.4 139.1 L1450.2 128.1 L1451 126 L1451.8 125 L1452.5 119.3 L1453.3 119.4 L1454.1 116.1 L1454.9 112.4 L1455.7 108.5 L1456.4 102.6 L1457.2 98.7 L1458 96.5 L1458.8 97.3 L1459.6 94 L1460.3 86.8 L1461.1 86.9 L1461.9 86.6 L1462.7 85.2 L1463.5 82.5 L1464.2 82.1 L1465 83.8 L1465.8 82.5 L1466.6 81.7 L1467.3 86.3 L1468.1 82.9 L1468.9 76.3 L1469.7 81.4 L1470.5 85.9 L1471.2 83.9 L1472 83.2 L1472.8 85.2 L1473.6 81.3 L1474.4 83.6 L1475.1 84.9 L1475.9 79.2 L1476.7 81.1 L1477.5 83.7 L1478.3 74.3 L1479 80.8 L1479.8 83.8 L1480.6 81.8 L1481.4 79.2 L1482.2 74.8 L1482.9 87.8 L1483.7 76.5 L1484.5 70.6 L1485.3 83.6 L1486.1 72 L1486.8 79.1 L1487.6 71.3 L1488.4 78 L1489.2 78.2 L1490 73.5 L1490.7 79.9 L1491.5 78.6 L1492.3 69.5 L1493.1 80.5 L1493.8 75.2 L1494.6 73.8 L1495.4 76.1 L1496.2 74.1 L1497 77.2 L1497.7 76.9 L1498.5 73.5 L1499.3 78.6 L1500.1 69.5 L1500.9 74.8 L1501.6 65.6 L1501.8 63.3 L1502.4 77.1 L1503.2 74.5 L1504 77.9 L1504.8 81.1 L1505.5 75 L1506.3 77.8 L1507.1 75 L1507.9 76.7 L1508.7 83.2 L1509.4 73.4 L1510.2 71 L1511 70.3 L1511.8 76.3 L1512.6 76.2 L1513.3 76 L1514.1 76.2 L1514.9 73.6 L1515 84.8 L1515.7 71.6 L1516.5 78.6 L1517.2 70.2 L1518 72.6 L1518.8 70.8 L1519.6 74.9 L1520.3 77.5 L1521.1 69.5 L1521.9 72.9 L1522.7 71.3 L1523.5 65.4 L1524.2 79.5 L1525 73.6 L1525.8 78.4 L1526.6 76.2 L1527.4 67.9 L1528.1 78.3 L1528.9 70.7 L1529.7 72.2 L1530.5 75.7 L1531.3 76.8 L1532 74.1 L1532.8 74 L1533.6 64.9 L1534.4 76 L1535.2 71.8 L1535.9 70.8 L1536.7 75.2 L1537.5 78.3 L1538.3 72.1 L1539.1 77.3 L1539.8 66.7 L1540.6 73.1 L1541.4 70.6 L1542.2 71.9 L1543 71.7 L1543.7 74.7 L1544.5 67.4 L1545.3 75.8 L1546.1 72.3 L1546.8 65.6 L1547.6 70.9 L1547.6 63.3 L1548.4 73.3 L1549.2 73.9 L1550 75.2 L1550.7 72.5 L1551.5 74.4" stroke="#0000ff" stroke-opacity="0.6" stroke-width="1.1" fill="none" stroke-linejoin="round"/>
<path d="M1328.9 40.5V300" stroke="#0000ff" stroke-opacity="0.6" stroke-width="1.1" fill="none"/>
<g fill="#0000ff"><circle cx="1172.1" cy="90.2" r="2.8"/><circle cx="1172.3" cy="93.8" r="2.8"/><circle cx="1172.4" cy="113.5" r="2.8"/><circle cx="1173.7" cy="160.1" r="2.8"/><circle cx="1174.5" cy="178" r="2.8"/><circle cx="1174.8" cy="219.2" r="2.8"/><circle cx="1175.1" cy="240.8" r="2.8"/><circle cx="1175.3" cy="255.1" r="2.8"/><circle cx="1175.6" cy="260.5" r="2.8"/><circle cx="1175.8" cy="265.8" r="2.8"/><circle cx="1177.7" cy="247.9" r="2.8"/><circle cx="1178.5" cy="246.1" r="2.8"/><circle cx="1179.6" cy="247.9" r="2.8"/><circle cx="1180.6" cy="245.1" r="2.8"/><circle cx="1181.7" cy="246.1" r="2.8"/><circle cx="1182.7" cy="244.3" r="2.8"/><circle cx="1183.8" cy="246.1" r="2.8"/><circle cx="1184.9" cy="244.3" r="2.8"/><circle cx="1185.9" cy="242.5" r="2.8"/><circle cx="1186.7" cy="244.3" r="2.8"/><circle cx="1187.2" cy="259.7" r="2.8"/><circle cx="1188.6" cy="273" r="2.8"/><circle cx="1189.1" cy="271.3" r="2.8"/><circle cx="1189.9" cy="265.3" r="2.8"/><circle cx="1190.7" cy="269.4" r="2.8"/><circle cx="1191.4" cy="264.8" r="2.8"/><circle cx="1192.2" cy="265.1" r="2.8"/><circle cx="1193" cy="263.8" r="2.8"/><circle cx="1193.8" cy="265.1" r="2.8"/><circle cx="1194.6" cy="264.2" r="2.8"/><circle cx="1195.3" cy="263.1" r="2.8"/><circle cx="1196.1" cy="262.8" r="2.8"/><circle cx="1196.9" cy="262" r="2.8"/><circle cx="1197.7" cy="261.8" r="2.8"/><circle cx="1198.5" cy="262.4" r="2.8"/><circle cx="1199.2" cy="263.8" r="2.8"/><circle cx="1200" cy="258.1" r="2.8"/><circle cx="1200.8" cy="265.4" r="2.8"/><circle cx="1201.6" cy="266" r="2.8"/><circle cx="1202.3" cy="273.1" r="2.8"/><circle cx="1203.1" cy="278.4" r="2.8"/><circle cx="1203.9" cy="283.8" r="2.8"/><circle cx="1204.7" cy="283.5" r="2.8"/><circle cx="1205.5" cy="277.5" r="2.8"/><circle cx="1206.2" cy="282.9" r="2.8"/><circle cx="1207" cy="281.4" r="2.8"/><circle cx="1207.8" cy="278.4" r="2.8"/><circle cx="1208.6" cy="281.9" r="2.8"/><circle cx="1209.4" cy="278.7" r="2.8"/><circle cx="1210.1" cy="280.8" r="2.8"/><circle cx="1210.9" cy="281.3" r="2.8"/><circle cx="1211.7" cy="286.5" r="2.8"/><circle cx="1212.5" cy="284.5" r="2.8"/><circle cx="1213.3" cy="278.1" r="2.8"/><circle cx="1214" cy="276.3" r="2.8"/><circle cx="1214.8" cy="282.5" r="2.8"/><circle cx="1215.6" cy="298.7" r="2.8"/><circle cx="1215.9" cy="316" r="2.8"/><circle cx="1216.1" cy="321.4" r="2.8"/><circle cx="1216.4" cy="298.5" r="2.8"/><circle cx="1216.4" cy="310.6" r="2.8"/><circle cx="1217.2" cy="300.5" r="2.8"/><circle cx="1217.9" cy="299.3" r="2.8"/><circle cx="1218.7" cy="305.7" r="2.8"/><circle cx="1219.5" cy="306.3" r="2.8"/><circle cx="1220.3" cy="304.3" r="2.8"/><circle cx="1221.1" cy="301.7" r="2.8"/><circle cx="1221.8" cy="308.1" r="2.8"/><circle cx="1222.6" cy="301.1" r="2.8"/><circle cx="1223.4" cy="307.3" r="2.8"/><circle cx="1224.2" cy="304.3" r="2.8"/><circle cx="1225" cy="300.1" r="2.8"/><circle cx="1225.7" cy="308.8" r="2.8"/><circle cx="1226.5" cy="305.5" r="2.8"/><circle cx="1227.3" cy="301.6" r="2.8"/><circle cx="1228.1" cy="302.9" r="2.8"/><circle cx="1228.8" cy="301.5" r="2.8"/><circle cx="1229.6" cy="298.8" r="2.8"/><circle cx="1230.4" cy="298.9" r="2.8"/><circle cx="1231.2" cy="301.3" r="2.8"/><circle cx="1232" cy="301.9" r="2.8"/><circle cx="1232.7" cy="304.8" r="2.8"/><circle cx="1233.5" cy="301.2" r="2.8"/><circle cx="1234.3" cy="298.1" r="2.8"/><circle cx="1235.1" cy="303.7" r="2.8"/><circle cx="1235.9" cy="300.1" r="2.8"/><circle cx="1236.6" cy="299.1" r="2.8"/><circle cx="1237.4" cy="298.8" r="2.8"/><circle cx="1238.2" cy="303.5" r="2.8"/><circle cx="1239" cy="300.2" r="2.8"/><circle cx="1239.8" cy="300.2" r="2.8"/><circle cx="1240.5" cy="298.6" r="2.8"/><circle cx="1241.3" cy="293.3" r="2.8"/><circle cx="1242.1" cy="298.2" r="2.8"/><circle cx="1242.9" cy="295.9" r="2.8"/><circle cx="1243.7" cy="299.3" r="2.8"/><circle cx="1244.4" cy="292.7" r="2.8"/><circle cx="1245.2" cy="296.2" r="2.8"/><circle cx="1246" cy="291.8" r="2.8"/><circle cx="1246.8" cy="295" r="2.8"/><circle cx="1247.6" cy="291" r="2.8"/><circle cx="1248.3" cy="297.9" r="2.8"/><circle cx="1249.1" cy="292.6" r="2.8"/><circle cx="1249.9" cy="290" r="2.8"/><circle cx="1250.7" cy="297.1" r="2.8"/><circle cx="1251.5" cy="294.4" r="2.8"/><circle cx="1252.2" cy="294.5" r="2.8"/><circle cx="1252.7" cy="310.6" r="2.8"/><circle cx="1253" cy="296" r="2.8"/><circle cx="1253.5" cy="323.2" r="2.8"/><circle cx="1253.8" cy="294.3" r="2.8"/><circle cx="1254.6" cy="294.5" r="2.8"/><circle cx="1255.3" cy="290.5" r="2.8"/><circle cx="1255.3" cy="310.6" r="2.8"/><circle cx="1256.1" cy="293.2" r="2.8"/><circle cx="1256.9" cy="292.1" r="2.8"/><circle cx="1257.7" cy="290.7" r="2.8"/><circle cx="1258.5" cy="291.9" r="2.8"/><circle cx="1259.2" cy="292.7" r="2.8"/><circle cx="1260" cy="290.6" r="2.8"/><circle cx="1260.8" cy="294.8" r="2.8"/><circle cx="1261.6" cy="294.7" r="2.8"/><circle cx="1262.4" cy="290.9" r="2.8"/><circle cx="1263.1" cy="292.3" r="2.8"/><circle cx="1263.3" cy="301.7" r="2.8"/><circle cx="1263.9" cy="294.2" r="2.8"/><circle cx="1264.7" cy="291.4" r="2.8"/><circle cx="1265.5" cy="294.1" r="2.8"/><circle cx="1266.3" cy="292.6" r="2.8"/><circle cx="1267" cy="287.7" r="2.8"/><circle cx="1267.8" cy="291.5" r="2.8"/><circle cx="1268.6" cy="291.9" r="2.8"/><circle cx="1269.4" cy="288.7" r="2.8"/><circle cx="1270.2" cy="290.9" r="2.8"/><circle cx="1270.9" cy="295" r="2.8"/><circle cx="1271.7" cy="288.5" r="2.8"/><circle cx="1272.5" cy="292.2" r="2.8"/><circle cx="1273.3" cy="286.9" r="2.8"/><circle cx="1274.1" cy="288.9" r="2.8"/><circle cx="1274.8" cy="294.4" r="2.8"/><circle cx="1275.6" cy="290" r="2.8"/><circle cx="1276.4" cy="290.1" r="2.8"/><circle cx="1277.2" cy="294.1" r="2.8"/><circle cx="1277.6" cy="303.5" r="2.8"/><circle cx="1278" cy="289.1" r="2.8"/><circle cx="1278.7" cy="286.2" r="2.8"/><circle cx="1279.5" cy="288.7" r="2.8"/><circle cx="1280.3" cy="336.8" r="2.8"/><circle cx="1280.3" cy="293.8" r="2.8"/><circle cx="1281.1" cy="289.7" r="2.8"/><circle cx="1281.8" cy="288.5" r="2.8"/><circle cx="1282.6" cy="291" r="2.8"/><circle cx="1282.6" cy="319.6" r="2.8"/><circle cx="1283.4" cy="292.6" r="2.8"/><circle cx="1283.4" cy="307.1" r="2.8"/><circle cx="1284.2" cy="289.4" r="2.8"/><circle cx="1285" cy="285.2" r="2.8"/><circle cx="1285.7" cy="286.8" r="2.8"/><circle cx="1286.5" cy="289" r="2.8"/><circle cx="1287.3" cy="289.8" r="2.8"/><circle cx="1288.1" cy="291.8" r="2.8"/><circle cx="1288.9" cy="280.9" r="2.8"/><circle cx="1289.6" cy="288" r="2.8"/><circle cx="1290.4" cy="287.5" r="2.8"/><circle cx="1291.2" cy="288.5" r="2.8"/><circle cx="1292" cy="286.2" r="2.8"/><circle cx="1292.8" cy="292.4" r="2.8"/><circle cx="1293.5" cy="289.5" r="2.8"/><circle cx="1294.3" cy="290.5" r="2.8"/><circle cx="1295.1" cy="289.1" r="2.8"/><circle cx="1295.9" cy="287.8" r="2.8"/><circle cx="1296.7" cy="289" r="2.8"/><circle cx="1297.4" cy="289.1" r="2.8"/><circle cx="1298.2" cy="289.2" r="2.8"/><circle cx="1299" cy="286.5" r="2.8"/><circle cx="1299.8" cy="291.3" r="2.8"/><circle cx="1300.6" cy="285.8" r="2.8"/><circle cx="1301.3" cy="289.5" r="2.8"/><circle cx="1302.1" cy="289.7" r="2.8"/><circle cx="1302.9" cy="286.6" r="2.8"/><circle cx="1303.7" cy="290.5" r="2.8"/><circle cx="1304.5" cy="289.3" r="2.8"/><circle cx="1305.2" cy="286.8" r="2.8"/><circle cx="1306" cy="288.4" r="2.8"/><circle cx="1306.8" cy="290" r="2.8"/><circle cx="1307" cy="297.4" r="2.8"/><circle cx="1307.6" cy="289.8" r="2.8"/><circle cx="1308.3" cy="289.4" r="2.8"/><circle cx="1309.1" cy="289.2" r="2.8"/><circle cx="1309.9" cy="289.9" r="2.8"/><circle cx="1310.7" cy="288.7" r="2.8"/><circle cx="1311.5" cy="290.5" r="2.8"/><circle cx="1312.2" cy="282.6" r="2.8"/><circle cx="1313" cy="283.4" r="2.8"/><circle cx="1313.8" cy="285.1" r="2.8"/><circle cx="1314.6" cy="283" r="2.8"/><circle cx="1315.4" cy="288" r="2.8"/><circle cx="1316.1" cy="286.4" r="2.8"/><circle cx="1316.9" cy="284.3" r="2.8"/><circle cx="1317.7" cy="286.1" r="2.8"/><circle cx="1318.5" cy="286.8" r="2.8"/><circle cx="1319.3" cy="282.9" r="2.8"/><circle cx="1320" cy="280" r="2.8"/><circle cx="1320.8" cy="283.1" r="2.8"/><circle cx="1321.6" cy="282.4" r="2.8"/><circle cx="1322.4" cy="286.6" r="2.8"/><circle cx="1323.2" cy="288.2" r="2.8"/><circle cx="1323.9" cy="282.5" r="2.8"/><circle cx="1324.7" cy="282" r="2.8"/><circle cx="1325.5" cy="281.4" r="2.8"/><circle cx="1326.3" cy="286.6" r="2.8"/><circle cx="1327.1" cy="285.9" r="2.8"/><circle cx="1327.8" cy="281" r="2.8"/><circle cx="1328.2" cy="294.5" r="2.8"/><circle cx="1328.5" cy="302.4" r="2.8"/><circle cx="1328.6" cy="285.8" r="2.8"/><circle cx="1329.3" cy="283.8" r="2.8"/><circle cx="1329.4" cy="282.8" r="2.8"/><circle cx="1330.2" cy="282.2" r="2.8"/><circle cx="1331" cy="283.2" r="2.8"/><circle cx="1331.7" cy="283.5" r="2.8"/><circle cx="1332.5" cy="277.7" r="2.8"/><circle cx="1333.3" cy="281" r="2.8"/><circle cx="1334.1" cy="280.9" r="2.8"/><circle cx="1334.8" cy="280.9" r="2.8"/><circle cx="1335.6" cy="279.4" r="2.8"/><circle cx="1336.4" cy="283.7" r="2.8"/><circle cx="1337.2" cy="280.1" r="2.8"/><circle cx="1338" cy="279.8" r="2.8"/><circle cx="1338.7" cy="283.9" r="2.8"/><circle cx="1339.5" cy="284.4" r="2.8"/><circle cx="1340.3" cy="280.8" r="2.8"/><circle cx="1341.1" cy="279.9" r="2.8"/><circle cx="1341.9" cy="278.7" r="2.8"/><circle cx="1342.6" cy="276.4" r="2.8"/><circle cx="1343.4" cy="278.6" r="2.8"/><circle cx="1344.2" cy="281.1" r="2.8"/><circle cx="1345" cy="277.5" r="2.8"/><circle cx="1345.8" cy="283.1" r="2.8"/><circle cx="1346.5" cy="285.8" r="2.8"/><circle cx="1347.3" cy="279.1" r="2.8"/><circle cx="1348.1" cy="277.3" r="2.8"/><circle cx="1348.9" cy="278.7" r="2.8"/><circle cx="1349.7" cy="282.9" r="2.8"/><circle cx="1350.4" cy="280.7" r="2.8"/><circle cx="1351.2" cy="280" r="2.8"/><circle cx="1352" cy="281.2" r="2.8"/><circle cx="1352.8" cy="275.5" r="2.8"/><circle cx="1353.4" cy="285.6" r="2.8"/><circle cx="1353.6" cy="279" r="2.8"/><circle cx="1354.3" cy="282.2" r="2.8"/><circle cx="1355.1" cy="270" r="2.8"/><circle cx="1355.9" cy="272.9" r="2.8"/><circle cx="1356.7" cy="271.1" r="2.8"/><circle cx="1357.5" cy="266.5" r="2.8"/><circle cx="1358.2" cy="277.2" r="2.8"/><circle cx="1359" cy="275.7" r="2.8"/><circle cx="1359.8" cy="272.7" r="2.8"/><circle cx="1360.6" cy="263.7" r="2.8"/><circle cx="1361.3" cy="272.7" r="2.8"/><circle cx="1362.1" cy="268.6" r="2.8"/><circle cx="1362.9" cy="270.4" r="2.8"/><circle cx="1363.7" cy="271.9" r="2.8"/><circle cx="1364.5" cy="268.7" r="2.8"/><circle cx="1365.2" cy="269.8" r="2.8"/><circle cx="1366" cy="271.6" r="2.8"/><circle cx="1366.8" cy="263.5" r="2.8"/><circle cx="1367.6" cy="272.6" r="2.8"/><circle cx="1368.4" cy="272.1" r="2.8"/><circle cx="1369.1" cy="273.1" r="2.8"/><circle cx="1369.9" cy="261.5" r="2.8"/><circle cx="1370.7" cy="266.7" r="2.8"/><circle cx="1371.5" cy="264.9" r="2.8"/><circle cx="1372.3" cy="273.1" r="2.8"/><circle cx="1373" cy="269.5" r="2.8"/><circle cx="1373.8" cy="265.5" r="2.8"/><circle cx="1374.6" cy="267.5" r="2.8"/><circle cx="1375.4" cy="267.8" r="2.8"/><circle cx="1376.2" cy="262.9" r="2.8"/><circle cx="1376.9" cy="269.7" r="2.8"/><circle cx="1377.7" cy="267.6" r="2.8"/><circle cx="1378.5" cy="267.5" r="2.8"/><circle cx="1379.3" cy="267" r="2.8"/><circle cx="1380.1" cy="264" r="2.8"/><circle cx="1380.8" cy="266.3" r="2.8"/><circle cx="1381.6" cy="265.9" r="2.8"/><circle cx="1382.4" cy="263.8" r="2.8"/><circle cx="1383.2" cy="265.1" r="2.8"/><circle cx="1384" cy="265" r="2.8"/><circle cx="1384.7" cy="269.2" r="2.8"/><circle cx="1385.5" cy="263.7" r="2.8"/><circle cx="1386.3" cy="263.8" r="2.8"/><circle cx="1387.1" cy="262.8" r="2.8"/><circle cx="1387.8" cy="267.7" r="2.8"/><circle cx="1388.6" cy="265.8" r="2.8"/><circle cx="1389.4" cy="264.5" r="2.8"/><circle cx="1390.2" cy="261.7" r="2.8"/><circle cx="1391" cy="262" r="2.8"/><circle cx="1391.7" cy="266.7" r="2.8"/><circle cx="1392.5" cy="262.4" r="2.8"/><circle cx="1393.3" cy="264.1" r="2.8"/><circle cx="1394.1" cy="263" r="2.8"/><circle cx="1394.9" cy="261.5" r="2.8"/><circle cx="1395.6" cy="266.9" r="2.8"/><circle cx="1396.4" cy="265.3" r="2.8"/><circle cx="1397.2" cy="264.2" r="2.8"/><circle cx="1398" cy="268.2" r="2.8"/><circle cx="1398.8" cy="269.9" r="2.8"/><circle cx="1399.5" cy="265" r="2.8"/><circle cx="1400.3" cy="266.7" r="2.8"/><circle cx="1401.1" cy="269.2" r="2.8"/><circle cx="1401.9" cy="266.9" r="2.8"/><circle cx="1402.7" cy="268.3" r="2.8"/><circle cx="1403.4" cy="264.5" r="2.8"/><circle cx="1404.2" cy="264.2" r="2.8"/><circle cx="1405" cy="257.8" r="2.8"/><circle cx="1405.8" cy="265" r="2.8"/><circle cx="1406.6" cy="266.2" r="2.8"/><circle cx="1407.3" cy="263.3" r="2.8"/><circle cx="1408.1" cy="259.5" r="2.8"/><circle cx="1408.9" cy="258.2" r="2.8"/><circle cx="1409.7" cy="260.3" r="2.8"/><circle cx="1410.5" cy="260.2" r="2.8"/><circle cx="1411.2" cy="263" r="2.8"/><circle cx="1412" cy="260.3" r="2.8"/><circle cx="1412.8" cy="258.1" r="2.8"/><circle cx="1413.6" cy="257.7" r="2.8"/><circle cx="1414.3" cy="262.4" r="2.8"/><circle cx="1415.1" cy="259" r="2.8"/><circle cx="1415.9" cy="257.8" r="2.8"/><circle cx="1416.7" cy="257.7" r="2.8"/><circle cx="1417.5" cy="254.9" r="2.8"/><circle cx="1418.2" cy="256.3" r="2.8"/><circle cx="1419" cy="251.9" r="2.8"/><circle cx="1419.8" cy="260.8" r="2.8"/><circle cx="1420.6" cy="261.2" r="2.8"/><circle cx="1421.4" cy="258" r="2.8"/><circle cx="1422.1" cy="257.6" r="2.8"/><circle cx="1422.9" cy="257.3" r="2.8"/><circle cx="1423.7" cy="257.2" r="2.8"/><circle cx="1424.5" cy="254.1" r="2.8"/><circle cx="1425.3" cy="255.2" r="2.8"/><circle cx="1426" cy="258.7" r="2.8"/><circle cx="1426.8" cy="254" r="2.8"/><circle cx="1427.6" cy="255.6" r="2.8"/><circle cx="1428.4" cy="253.4" r="2.8"/><circle cx="1429.2" cy="256.7" r="2.8"/><circle cx="1429.9" cy="251.5" r="2.8"/><circle cx="1430.7" cy="253.8" r="2.8"/><circle cx="1431.5" cy="254.2" r="2.8"/><circle cx="1432.3" cy="253.9" r="2.8"/><circle cx="1433.1" cy="249.8" r="2.8"/><circle cx="1433.8" cy="247.1" r="2.8"/><circle cx="1434.6" cy="241.5" r="2.8"/><circle cx="1435.4" cy="216" r="2.8"/><circle cx="1436.2" cy="199.6" r="2.8"/><circle cx="1437" cy="187.5" r="2.8"/><circle cx="1437.7" cy="176.9" r="2.8"/><circle cx="1438.5" cy="177.6" r="2.8"/><circle cx="1439.3" cy="173.1" r="2.8"/><circle cx="1440.1" cy="163.3" r="2.8"/><circle cx="1440.8" cy="165" r="2.8"/><circle cx="1441.6" cy="163.8" r="2.8"/><circle cx="1442.4" cy="155.6" r="2.8"/><circle cx="1443.2" cy="144" r="2.8"/><circle cx="1444" cy="151.3" r="2.8"/><circle cx="1444.7" cy="148.9" r="2.8"/><circle cx="1445.5" cy="142.5" r="2.8"/><circle cx="1446.3" cy="139.8" r="2.8"/><circle cx="1447.1" cy="138.3" r="2.8"/><circle cx="1447.9" cy="133.6" r="2.8"/><circle cx="1448.6" cy="132" r="2.8"/><circle cx="1449.4" cy="139.1" r="2.8"/><circle cx="1450.2" cy="128.1" r="2.8"/><circle cx="1451" cy="126" r="2.8"/><circle cx="1451.8" cy="125" r="2.8"/><circle cx="1452.5" cy="119.3" r="2.8"/><circle cx="1453.3" cy="119.4" r="2.8"/><circle cx="1454.1" cy="116.1" r="2.8"/><circle cx="1454.9" cy="112.4" r="2.8"/><circle cx="1455.7" cy="108.5" r="2.8"/><circle cx="1456.4" cy="102.6" r="2.8"/><circle cx="1457.2" cy="98.7" r="2.8"/><circle cx="1458" cy="96.5" r="2.8"/><circle cx="1458.8" cy="97.3" r="2.8"/><circle cx="1459.6" cy="94" r="2.8"/><circle cx="1460.3" cy="86.8" r="2.8"/><circle cx="1461.1" cy="86.9" r="2.8"/><circle cx="1461.9" cy="86.6" r="2.8"/><circle cx="1462.7" cy="85.2" r="2.8"/><circle cx="1463.5" cy="82.5" r="2.8"/><circle cx="1464.2" cy="82.1" r="2.8"/><circle cx="1465" cy="83.8" r="2.8"/><circle cx="1465.8" cy="82.5" r="2.8"/><circle cx="1466.6" cy="81.7" r="2.8"/><circle cx="1467.3" cy="86.3" r="2.8"/><circle cx="1468.1" cy="82.9" r="2.8"/><circle cx="1468.9" cy="76.3" r="2.8"/><circle cx="1469.7" cy="81.4" r="2.8"/><circle cx="1470.5" cy="85.9" r="2.8"/><circle cx="1471.2" cy="83.9" r="2.8"/><circle cx="1472" cy="83.2" r="2.8"/><circle cx="1472.8" cy="85.2" r="2.8"/><circle cx="1473.6" cy="81.3" r="2.8"/><circle cx="1474.4" cy="83.6" r="2.8"/><circle cx="1475.1" cy="84.9" r="2.8"/><circle cx="1475.9" cy="79.2" r="2.8"/><circle cx="1476.7" cy="81.1" r="2.8"/><circle cx="1477.5" cy="83.7" r="2.8"/><circle cx="1478.3" cy="74.3" r="2.8"/><circle cx="1479" cy="80.8" r="2.8"/><circle cx="1479.8" cy="83.8" r="2.8"/><circle cx="1480.6" cy="81.8" r="2.8"/><circle cx="1481.4" cy="79.2" r="2.8"/><circle cx="1482.2" cy="74.8" r="2.8"/><circle cx="1482.9" cy="87.8" r="2.8"/><circle cx="1483.7" cy="76.5" r="2.8"/><circle cx="1484.5" cy="70.6" r="2.8"/><circle cx="1485.3" cy="83.6" r="2.8"/><circle cx="1486.1" cy="72" r="2.8"/><circle cx="1486.8" cy="79.1" r="2.8"/><circle cx="1487.6" cy="71.3" r="2.8"/><circle cx="1488.4" cy="78" r="2.8"/><circle cx="1489.2" cy="78.2" r="2.8"/><circle cx="1490" cy="73.5" r="2.8"/><circle cx="1490.7" cy="79.9" r="2.8"/><circle cx="1491.5" cy="78.6" r="2.8"/><circle cx="1492.3" cy="69.5" r="2.8"/><circle cx="1493.1" cy="80.5" r="2.8"/><circle cx="1493.8" cy="75.2" r="2.8"/><circle cx="1494.6" cy="73.8" r="2.8"/><circle cx="1495.4" cy="76.1" r="2.8"/><circle cx="1496.2" cy="74.1" r="2.8"/><circle cx="1497" cy="77.2" r="2.8"/><circle cx="1497.7" cy="76.9" r="2.8"/><circle cx="1498.5" cy="73.5" r="2.8"/><circle cx="1499.3" cy="78.6" r="2.8"/><circle cx="1500.1" cy="69.5" r="2.8"/><circle cx="1500.9" cy="74.8" r="2.8"/><circle cx="1501.6" cy="65.6" r="2.8"/><circle cx="1501.8" cy="63.3" r="2.8"/><circle cx="1502.4" cy="77.1" r="2.8"/><circle cx="1503.2" cy="74.5" r="2.8"/><circle cx="1504" cy="77.9" r="2.8"/><circle cx="1504.8" cy="81.1" r="2.8"/><circle cx="1505.5" cy="75" r="2.8"/><circle cx="1506.3" cy="77.8" r="2.8"/><circle cx="1507.1" cy="75" r="2.8"/><circle cx="1507.9" cy="76.7" r="2.8"/><circle cx="1508.7" cy="83.2" r="2.8"/><circle cx="1509.4" cy="73.4" r="2.8"/><circle cx="1510.2" cy="71" r="2.8"/><circle cx="1511" cy="70.3" r="2.8"/><circle cx="1511.8" cy="76.3" r="2.8"/><circle cx="1512.6" cy="76.2" r="2.8"/><circle cx="1513.3" cy="76" r="2.8"/><circle cx="1514.1" cy="76.2" r="2.8"/><circle cx="1514.9" cy="73.6" r="2.8"/><circle cx="1515" cy="84.8" r="2.8"/><circle cx="1515.7" cy="71.6" r="2.8"/><circle cx="1516.5" cy="78.6" r="2.8"/><circle cx="1517.2" cy="70.2" r="2.8"/><circle cx="1518" cy="72.6" r="2.8"/><circle cx="1518.8" cy="70.8" r="2.8"/><circle cx="1519.6" cy="74.9" r="2.8"/><circle cx="1520.3" cy="77.5" r="2.8"/><circle cx="1521.1" cy="69.5" r="2.8"/><circle cx="1521.9" cy="72.9" r="2.8"/><circle cx="1522.7" cy="71.3" r="2.8"/><circle cx="1523.5" cy="65.4" r="2.8"/><circle cx="1524.2" cy="79.5" r="2.8"/><circle cx="1525" cy="73.6" r="2.8"/><circle cx="1525.8" cy="78.4" r="2.8"/><circle cx="1526.6" cy="76.2" r="2.8"/><circle cx="1527.4" cy="67.9" r="2.8"/><circle cx="1528.1" cy="78.3" r="2.8"/><circle cx="1528.9" cy="70.7" r="2.8"/><circle cx="1529.7" cy="72.2" r="2.8"/><circle cx="1530.5" cy="75.7" r="2.8"/><circle cx="1531.3" cy="76.8" r="2.8"/><circle cx="1532" cy="74.1" r="2.8"/><circle cx="1532.8" cy="74" r="2.8"/><circle cx="1533.6" cy="64.9" r="2.8"/><circle cx="1534.4" cy="76" r="2.8"/><circle cx="1535.2" cy="71.8" r="2.8"/><circle cx="1535.9" cy="70.8" r="2.8"/><circle cx="1536.7" cy="75.2" r="2.8"/><circle cx="1537.5" cy="78.3" r="2.8"/><circle cx="1538.3" cy="72.1" r="2.8"/><circle cx="1539.1" cy="77.3" r="2.8"/><circle cx="1539.8" cy="66.7" r="2.8"/><circle cx="1540.6" cy="73.1" r="2.8"/><circle cx="1541.4" cy="70.6" r="2.8"/><circle cx="1542.2" cy="71.9" r="2.8"/><circle cx="1543" cy="71.7" r="2.8"/><circle cx="1543.7" cy="74.7" r="2.8"/><circle cx="1544.5" cy="67.4" r="2.8"/><circle cx="1545.3" cy="75.8" r="2.8"/><circle cx="1546.1" cy="72.3" r="2.8"/><circle cx="1546.8" cy="65.6" r="2.8"/><circle cx="1547.6" cy="70.9" r="2.8"/><circle cx="1547.6" cy="63.3" r="2.8"/><circle cx="1548.4" cy="73.3" r="2.8"/><circle cx="1549.2" cy="73.9" r="2.8"/><circle cx="1550" cy="75.2" r="2.8"/><circle cx="1550.7" cy="72.5" r="2.8"/><circle cx="1551.5" cy="74.4" r="2.8"/></g>
<g fill="#ff0000"><circle cx="1171.3" cy="55.1" r="2.8"/><circle cx="1172.4" cy="64.1" r="2.8"/><circle cx="1173.5" cy="64.1" r="2.8"/><circle cx="1172.7" cy="74.8" r="2.8"/><circle cx="1171.9" cy="92" r="2.8"/><circle cx="1171.1" cy="127.9" r="2.8"/><circle cx="1171.6" cy="127.9" r="2.8"/><circle cx="1174.3" cy="176.2" r="2.8"/><circle cx="1183.3" cy="188.8" r="2.8"/><circle cx="1227" cy="274.1" r="2.8"/><circle cx="1236.3" cy="278.4" r="2.8"/><circle cx="1276.5" cy="279.5" r="2.8"/><circle cx="1309.7" cy="265.8" r="2.8"/><circle cx="1215.6" cy="268.4" r="2.8"/><circle cx="1321.6" cy="229.3" r="2.8"/><circle cx="1336.7" cy="235" r="2.8"/><circle cx="1354.7" cy="235" r="2.8"/><circle cx="1377.2" cy="274.1" r="2.8"/><circle cx="1417" cy="273" r="2.8"/><circle cx="1450.1" cy="265.8" r="2.8"/><circle cx="1401.1" cy="229.3" r="2.8"/><circle cx="1406.4" cy="230.7" r="2.8"/><circle cx="1475.3" cy="128.6" r="2.8"/><circle cx="1483.2" cy="125.3" r="2.8"/><circle cx="1545.5" cy="120" r="2.8"/><circle cx="1479.3" cy="90.9" r="2.8"/><circle cx="1499.2" cy="82.3" r="2.8"/><circle cx="1505.8" cy="82.3" r="2.8"/><circle cx="1549.5" cy="86.6" r="2.8"/><circle cx="1550.8" cy="92" r="2.8"/><circle cx="1176" cy="182.2" r="2.8"/><circle cx="1176.6" cy="185.6" r="2.8"/><circle cx="1177.3" cy="212.5" r="2.8"/><circle cx="1178.5" cy="198.4" r="2.8"/><circle cx="1179" cy="203" r="2.8"/><circle cx="1179.9" cy="223.3" r="2.8"/><circle cx="1180.9" cy="206.8" r="2.8"/><circle cx="1181.6" cy="209.7" r="2.8"/><circle cx="1182.7" cy="195.9" r="2.8"/><circle cx="1183.2" cy="206.3" r="2.8"/><circle cx="1184.1" cy="209.1" r="2.8"/><circle cx="1184.8" cy="202.7" r="2.8"/><circle cx="1185.9" cy="192.6" r="2.8"/><circle cx="1186.6" cy="207.6" r="2.8"/><circle cx="1187.4" cy="198.1" r="2.8"/><circle cx="1188.3" cy="215.7" r="2.8"/><circle cx="1189" cy="202.2" r="2.8"/><circle cx="1189.8" cy="221.5" r="2.8"/><circle cx="1190.7" cy="228.8" r="2.8"/><circle cx="1191.8" cy="215.7" r="2.8"/><circle cx="1192.2" cy="205.2" r="2.8"/><circle cx="1193.2" cy="215.5" r="2.8"/><circle cx="1194" cy="201.9" r="2.8"/><circle cx="1195" cy="242.9" r="2.8"/><circle cx="1195.5" cy="220.6" r="2.8"/><circle cx="1196.6" cy="219.1" r="2.8"/><circle cx="1197.5" cy="240.2" r="2.8"/><circle cx="1198.1" cy="232.8" r="2.8"/><circle cx="1198.9" cy="211.5" r="2.8"/><circle cx="1200" cy="220.5" r="2.8"/><circle cx="1200.5" cy="244.9" r="2.8"/><circle cx="1201.4" cy="235.4" r="2.8"/><circle cx="1202.3" cy="227.8" r="2.8"/><circle cx="1203.1" cy="235.3" r="2.8"/><circle cx="1204.1" cy="228.7" r="2.8"/><circle cx="1204.7" cy="237.2" r="2.8"/><circle cx="1205.5" cy="243.3" r="2.8"/><circle cx="1206.6" cy="234.4" r="2.8"/><circle cx="1207.5" cy="249" r="2.8"/><circle cx="1208" cy="233.4" r="2.8"/><circle cx="1208.9" cy="247.1" r="2.8"/><circle cx="1209.6" cy="233.9" r="2.8"/><circle cx="1210.5" cy="239" r="2.8"/><circle cx="1211.3" cy="242.3" r="2.8"/><circle cx="1212.5" cy="232.5" r="2.8"/><circle cx="1212.9" cy="247.6" r="2.8"/><circle cx="1214" cy="241.8" r="2.8"/><circle cx="1214.8" cy="238.8" r="2.8"/><circle cx="1215.6" cy="257.6" r="2.8"/><circle cx="1216.7" cy="237.5" r="2.8"/><circle cx="1217.1" cy="244" r="2.8"/><circle cx="1218.2" cy="240.4" r="2.8"/><circle cx="1218.9" cy="254.5" r="2.8"/><circle cx="1219.8" cy="255.8" r="2.8"/><circle cx="1220.6" cy="238.8" r="2.8"/><circle cx="1221.3" cy="238.6" r="2.8"/><circle cx="1222" cy="246.5" r="2.8"/><circle cx="1223.3" cy="253.9" r="2.8"/><circle cx="1223.8" cy="247.9" r="2.8"/><circle cx="1224.7" cy="244.7" r="2.8"/><circle cx="1225.5" cy="250.8" r="2.8"/><circle cx="1226.4" cy="244.8" r="2.8"/><circle cx="1227.4" cy="247.7" r="2.8"/><circle cx="1228.2" cy="243.9" r="2.8"/><circle cx="1228.9" cy="248" r="2.8"/><circle cx="1229.5" cy="252.5" r="2.8"/><circle cx="1230.5" cy="257.6" r="2.8"/><circle cx="1231.1" cy="236.1" r="2.8"/><circle cx="1231.9" cy="245.8" r="2.8"/><circle cx="1232.9" cy="252.6" r="2.8"/><circle cx="1233.9" cy="250.4" r="2.8"/><circle cx="1234.5" cy="259.1" r="2.8"/><circle cx="1235.7" cy="244.4" r="2.8"/><circle cx="1236.2" cy="240.8" r="2.8"/><circle cx="1237.1" cy="245.1" r="2.8"/><circle cx="1238.2" cy="249.8" r="2.8"/><circle cx="1238.9" cy="249" r="2.8"/><circle cx="1239.7" cy="249.5" r="2.8"/><circle cx="1240.5" cy="249.7" r="2.8"/><circle cx="1241.4" cy="248.5" r="2.8"/><circle cx="1242" cy="246.9" r="2.8"/><circle cx="1243.1" cy="259.5" r="2.8"/><circle cx="1243.6" cy="237" r="2.8"/><circle cx="1244.5" cy="249.5" r="2.8"/><circle cx="1245.2" cy="250.9" r="2.8"/><circle cx="1246.2" cy="251.7" r="2.8"/><circle cx="1247" cy="253.5" r="2.8"/><circle cx="1247.8" cy="247.7" r="2.8"/><circle cx="1248.8" cy="237.6" r="2.8"/><circle cx="1249.4" cy="262.8" r="2.8"/><circle cx="1250.2" cy="257.9" r="2.8"/><circle cx="1251.3" cy="249.8" r="2.8"/><circle cx="1251.9" cy="256.1" r="2.8"/><circle cx="1253" cy="236.1" r="2.8"/><circle cx="1253.9" cy="240.8" r="2.8"/><circle cx="1254.3" cy="244.8" r="2.8"/><circle cx="1255.2" cy="249.5" r="2.8"/><circle cx="1256.3" cy="250.5" r="2.8"/><circle cx="1256.9" cy="236.8" r="2.8"/><circle cx="1258.1" cy="252.1" r="2.8"/><circle cx="1258.8" cy="255.6" r="2.8"/><circle cx="1259.3" cy="242.4" r="2.8"/><circle cx="1260.5" cy="243.4" r="2.8"/><circle cx="1261.3" cy="237.9" r="2.8"/><circle cx="1261.8" cy="251.6" r="2.8"/><circle cx="1262.7" cy="264.7" r="2.8"/><circle cx="1263.8" cy="246" r="2.8"/><circle cx="1264.7" cy="256.7" r="2.8"/><circle cx="1265.2" cy="240.1" r="2.8"/><circle cx="1265.9" cy="262.1" r="2.8"/><circle cx="1266.9" cy="247.9" r="2.8"/><circle cx="1267.7" cy="263.5" r="2.8"/><circle cx="1268.4" cy="259.7" r="2.8"/><circle cx="1269.6" cy="263.5" r="2.8"/><circle cx="1270.4" cy="246.1" r="2.8"/><circle cx="1271.1" cy="259.7" r="2.8"/><circle cx="1272.1" cy="244.6" r="2.8"/><circle cx="1273" cy="257.3" r="2.8"/><circle cx="1273.8" cy="239.7" r="2.8"/><circle cx="1274.3" cy="245.9" r="2.8"/><circle cx="1275.3" cy="241.9" r="2.8"/><circle cx="1275.9" cy="248" r="2.8"/><circle cx="1276.8" cy="248.2" r="2.8"/><circle cx="1277.9" cy="249.4" r="2.8"/><circle cx="1278.4" cy="248.9" r="2.8"/><circle cx="1279.2" cy="244.4" r="2.8"/><circle cx="1280" cy="250.2" r="2.8"/><circle cx="1281.2" cy="262.9" r="2.8"/><circle cx="1281.8" cy="244.5" r="2.8"/><circle cx="1282.9" cy="254.5" r="2.8"/><circle cx="1283.7" cy="250.6" r="2.8"/><circle cx="1284.4" cy="238.2" r="2.8"/><circle cx="1285.2" cy="248.8" r="2.8"/><circle cx="1286" cy="239.9" r="2.8"/><circle cx="1287" cy="248.4" r="2.8"/><circle cx="1287.4" cy="247.3" r="2.8"/><circle cx="1288.4" cy="251.1" r="2.8"/><circle cx="1289.1" cy="254.1" r="2.8"/><circle cx="1290" cy="253" r="2.8"/><circle cx="1291" cy="250.6" r="2.8"/><circle cx="1291.7" cy="253.2" r="2.8"/><circle cx="1292.6" cy="244.4" r="2.8"/><circle cx="1293.5" cy="249.4" r="2.8"/><circle cx="1294.4" cy="250.8" r="2.8"/><circle cx="1294.9" cy="244.6" r="2.8"/><circle cx="1295.9" cy="243.7" r="2.8"/><circle cx="1296.5" cy="240.6" r="2.8"/><circle cx="1297.5" cy="247.9" r="2.8"/><circle cx="1298.6" cy="248.6" r="2.8"/><circle cx="1299.4" cy="246.4" r="2.8"/><circle cx="1300" cy="254.1" r="2.8"/><circle cx="1300.7" cy="258.6" r="2.8"/><circle cx="1301.6" cy="254.6" r="2.8"/><circle cx="1302.7" cy="245.3" r="2.8"/><circle cx="1303.4" cy="252.9" r="2.8"/><circle cx="1304.3" cy="256" r="2.8"/><circle cx="1304.8" cy="233.2" r="2.8"/><circle cx="1306.1" cy="249.6" r="2.8"/><circle cx="1306.8" cy="243.4" r="2.8"/><circle cx="1307.3" cy="246.8" r="2.8"/><circle cx="1308.1" cy="241.3" r="2.8"/><circle cx="1309.1" cy="255.4" r="2.8"/><circle cx="1310.2" cy="249.9" r="2.8"/><circle cx="1310.9" cy="246" r="2.8"/><circle cx="1311.9" cy="262" r="2.8"/><circle cx="1312.6" cy="244.5" r="2.8"/><circle cx="1313.2" cy="254.4" r="2.8"/><circle cx="1314.1" cy="247.9" r="2.8"/><circle cx="1314.9" cy="248.1" r="2.8"/><circle cx="1315.6" cy="255.8" r="2.8"/><circle cx="1316.7" cy="240.3" r="2.8"/><circle cx="1317.5" cy="249.7" r="2.8"/><circle cx="1318.4" cy="247" r="2.8"/><circle cx="1319.3" cy="242.2" r="2.8"/><circle cx="1319.8" cy="239" r="2.8"/><circle cx="1320.7" cy="243.5" r="2.8"/><circle cx="1321.7" cy="250.7" r="2.8"/><circle cx="1322.5" cy="244.7" r="2.8"/><circle cx="1323.2" cy="241.7" r="2.8"/><circle cx="1324.2" cy="237.8" r="2.8"/><circle cx="1324.8" cy="242.3" r="2.8"/><circle cx="1325.8" cy="251.1" r="2.8"/><circle cx="1326.7" cy="244.3" r="2.8"/><circle cx="1327.5" cy="254.2" r="2.8"/><circle cx="1328.2" cy="258.5" r="2.8"/><circle cx="1329.2" cy="248.2" r="2.8"/><circle cx="1329.8" cy="245" r="2.8"/><circle cx="1330.9" cy="241.6" r="2.8"/><circle cx="1331.6" cy="246.7" r="2.8"/><circle cx="1332.5" cy="250.1" r="2.8"/><circle cx="1333.2" cy="246.9" r="2.8"/><circle cx="1334.2" cy="242.5" r="2.8"/><circle cx="1334.7" cy="239.3" r="2.8"/><circle cx="1335.9" cy="239.6" r="2.8"/><circle cx="1336.4" cy="251.3" r="2.8"/><circle cx="1337.2" cy="253.6" r="2.8"/><circle cx="1338" cy="254.6" r="2.8"/><circle cx="1339.2" cy="236.3" r="2.8"/><circle cx="1339.6" cy="241.5" r="2.8"/><circle cx="1340.7" cy="258.4" r="2.8"/><circle cx="1341.5" cy="246.7" r="2.8"/><circle cx="1342.1" cy="252.9" r="2.8"/><circle cx="1343.2" cy="255.2" r="2.8"/><circle cx="1344.2" cy="236.5" r="2.8"/><circle cx="1344.7" cy="252.6" r="2.8"/><circle cx="1345.4" cy="251.6" r="2.8"/><circle cx="1346.4" cy="263" r="2.8"/><circle cx="1347.1" cy="251" r="2.8"/><circle cx="1348.1" cy="242.6" r="2.8"/><circle cx="1349.1" cy="262.5" r="2.8"/><circle cx="1349.6" cy="258.2" r="2.8"/><circle cx="1350.4" cy="257.4" r="2.8"/><circle cx="1351.6" cy="262.6" r="2.8"/><circle cx="1352.1" cy="260.5" r="2.8"/><circle cx="1352.9" cy="246.9" r="2.8"/><circle cx="1354" cy="253.1" r="2.8"/><circle cx="1355" cy="257.3" r="2.8"/><circle cx="1355.5" cy="254.2" r="2.8"/><circle cx="1356.2" cy="251.8" r="2.8"/><circle cx="1357.1" cy="250.9" r="2.8"/><circle cx="1357.8" cy="254.2" r="2.8"/><circle cx="1358.6" cy="244.6" r="2.8"/><circle cx="1359.4" cy="253.9" r="2.8"/><circle cx="1360.7" cy="258.7" r="2.8"/><circle cx="1361.5" cy="251.2" r="2.8"/><circle cx="1362.1" cy="253.5" r="2.8"/><circle cx="1362.8" cy="252.9" r="2.8"/><circle cx="1363.9" cy="252.7" r="2.8"/><circle cx="1364.6" cy="248.2" r="2.8"/><circle cx="1365.5" cy="242.4" r="2.8"/><circle cx="1366.3" cy="259.9" r="2.8"/><circle cx="1367.1" cy="253.2" r="2.8"/><circle cx="1368.2" cy="255.9" r="2.8"/><circle cx="1369" cy="250.3" r="2.8"/><circle cx="1369.6" cy="257.2" r="2.8"/><circle cx="1370.6" cy="262.3" r="2.8"/><circle cx="1371.4" cy="251.3" r="2.8"/><circle cx="1372.2" cy="250.9" r="2.8"/><circle cx="1373" cy="258.6" r="2.8"/><circle cx="1373.5" cy="254.4" r="2.8"/><circle cx="1374.4" cy="263.2" r="2.8"/><circle cx="1375.3" cy="255.3" r="2.8"/><circle cx="1376.3" cy="256.9" r="2.8"/><circle cx="1376.9" cy="250.5" r="2.8"/><circle cx="1378" cy="255.9" r="2.8"/><circle cx="1378.8" cy="254.9" r="2.8"/><circle cx="1379.8" cy="251.9" r="2.8"/><circle cx="1380.3" cy="254.8" r="2.8"/><circle cx="1381.4" cy="254.2" r="2.8"/><circle cx="1382.2" cy="253.7" r="2.8"/><circle cx="1383.1" cy="263.8" r="2.8"/><circle cx="1383.6" cy="256.8" r="2.8"/><circle cx="1384.4" cy="250" r="2.8"/><circle cx="1385.3" cy="243.4" r="2.8"/><circle cx="1386.1" cy="240.3" r="2.8"/><circle cx="1387.2" cy="242.1" r="2.8"/><circle cx="1388.1" cy="243.5" r="2.8"/><circle cx="1388.9" cy="249" r="2.8"/><circle cx="1389.7" cy="250" r="2.8"/><circle cx="1390.2" cy="260.3" r="2.8"/><circle cx="1391.1" cy="263.4" r="2.8"/><circle cx="1392" cy="260.1" r="2.8"/><circle cx="1392.7" cy="254.4" r="2.8"/><circle cx="1393.7" cy="243.6" r="2.8"/><circle cx="1394.2" cy="255.1" r="2.8"/><circle cx="1395.5" cy="247.6" r="2.8"/><circle cx="1396.2" cy="249.3" r="2.8"/><circle cx="1396.9" cy="258.8" r="2.8"/><circle cx="1398" cy="247.1" r="2.8"/><circle cx="1398.6" cy="248.6" r="2.8"/><circle cx="1399.4" cy="250" r="2.8"/><circle cx="1400.2" cy="247.9" r="2.8"/><circle cx="1401.3" cy="254.9" r="2.8"/><circle cx="1401.8" cy="254.7" r="2.8"/><circle cx="1402.5" cy="251.1" r="2.8"/><circle cx="1403.7" cy="247.6" r="2.8"/><circle cx="1404.7" cy="244.4" r="2.8"/><circle cx="1405" cy="250.7" r="2.8"/><circle cx="1406.3" cy="247.2" r="2.8"/><circle cx="1407" cy="238.4" r="2.8"/><circle cx="1407.7" cy="258.1" r="2.8"/><circle cx="1408.5" cy="251.6" r="2.8"/><circle cx="1409.2" cy="243" r="2.8"/><circle cx="1410.2" cy="263.4" r="2.8"/><circle cx="1411" cy="241.1" r="2.8"/><circle cx="1412.1" cy="256.7" r="2.8"/><circle cx="1412.8" cy="247.8" r="2.8"/><circle cx="1413.7" cy="249.9" r="2.8"/><circle cx="1414.5" cy="264.1" r="2.8"/><circle cx="1415.2" cy="244.8" r="2.8"/><circle cx="1415.9" cy="254.5" r="2.8"/><circle cx="1416.8" cy="239.6" r="2.8"/><circle cx="1417.7" cy="257.5" r="2.8"/><circle cx="1418.5" cy="242.7" r="2.8"/><circle cx="1419.5" cy="250" r="2.8"/><circle cx="1420" cy="251.2" r="2.8"/><circle cx="1420.8" cy="248.6" r="2.8"/><circle cx="1421.9" cy="250" r="2.8"/><circle cx="1422.5" cy="246.5" r="2.8"/><circle cx="1423.2" cy="246.1" r="2.8"/><circle cx="1424.4" cy="248.1" r="2.8"/><circle cx="1425.3" cy="241.8" r="2.8"/><circle cx="1426.1" cy="246.6" r="2.8"/><circle cx="1426.9" cy="248.4" r="2.8"/><circle cx="1427.7" cy="247" r="2.8"/><circle cx="1428.6" cy="239.1" r="2.8"/><circle cx="1429.3" cy="253.4" r="2.8"/><circle cx="1429.9" cy="252.3" r="2.8"/><circle cx="1430.8" cy="256.6" r="2.8"/><circle cx="1431.6" cy="250.5" r="2.8"/><circle cx="1432.6" cy="245.8" r="2.8"/><circle cx="1433.6" cy="242.9" r="2.8"/><circle cx="1434.2" cy="240.5" r="2.8"/><circle cx="1434.8" cy="212.4" r="2.8"/><circle cx="1435.8" cy="213.3" r="2.8"/><circle cx="1436.9" cy="197.6" r="2.8"/><circle cx="1437.6" cy="188.4" r="2.8"/><circle cx="1438.3" cy="186.2" r="2.8"/><circle cx="1439.2" cy="188.7" r="2.8"/><circle cx="1439.8" cy="177.3" r="2.8"/><circle cx="1440.8" cy="175.3" r="2.8"/><circle cx="1441.8" cy="170.7" r="2.8"/><circle cx="1442.4" cy="166.4" r="2.8"/><circle cx="1443.1" cy="160.6" r="2.8"/><circle cx="1444.3" cy="164.7" r="2.8"/><circle cx="1444.8" cy="161.5" r="2.8"/><circle cx="1445.9" cy="153.2" r="2.8"/><circle cx="1446.5" cy="151.6" r="2.8"/><circle cx="1447.5" cy="148.8" r="2.8"/><circle cx="1448.3" cy="144.6" r="2.8"/><circle cx="1449.2" cy="147.1" r="2.8"/><circle cx="1449.8" cy="144.1" r="2.8"/><circle cx="1450.7" cy="154.4" r="2.8"/><circle cx="1451.6" cy="146.1" r="2.8"/><circle cx="1452.5" cy="141.7" r="2.8"/><circle cx="1453.1" cy="134.4" r="2.8"/><circle cx="1454.3" cy="122.6" r="2.8"/><circle cx="1455.1" cy="135.8" r="2.8"/><circle cx="1455.9" cy="124.3" r="2.8"/><circle cx="1456.6" cy="113.1" r="2.8"/><circle cx="1457.2" cy="118.9" r="2.8"/><circle cx="1458" cy="120.1" r="2.8"/><circle cx="1459.2" cy="100.2" r="2.8"/><circle cx="1459.9" cy="118.3" r="2.8"/><circle cx="1460.9" cy="105.1" r="2.8"/><circle cx="1461.7" cy="123.4" r="2.8"/><circle cx="1462.3" cy="102.9" r="2.8"/><circle cx="1463.2" cy="106.5" r="2.8"/><circle cx="1464.3" cy="111.5" r="2.8"/><circle cx="1464.8" cy="95.7" r="2.8"/><circle cx="1465.8" cy="106.1" r="2.8"/><circle cx="1466.4" cy="114" r="2.8"/><circle cx="1467.4" cy="110.9" r="2.8"/><circle cx="1468.1" cy="104.3" r="2.8"/><circle cx="1469.2" cy="105.2" r="2.8"/><circle cx="1469.7" cy="110.6" r="2.8"/><circle cx="1470.7" cy="105.9" r="2.8"/><circle cx="1471.3" cy="97.4" r="2.8"/><circle cx="1472.4" cy="113.7" r="2.8"/><circle cx="1473.1" cy="112.1" r="2.8"/><circle cx="1473.8" cy="111.4" r="2.8"/><circle cx="1475" cy="107.9" r="2.8"/><circle cx="1475.5" cy="99.6" r="2.8"/><circle cx="1476.5" cy="97.5" r="2.8"/><circle cx="1477.2" cy="115.2" r="2.8"/><circle cx="1478" cy="103.8" r="2.8"/><circle cx="1478.7" cy="101" r="2.8"/><circle cx="1480" cy="97.7" r="2.8"/><circle cx="1480.4" cy="106.9" r="2.8"/><circle cx="1481.6" cy="113.5" r="2.8"/><circle cx="1482.3" cy="112.7" r="2.8"/><circle cx="1483.3" cy="106.1" r="2.8"/><circle cx="1483.9" cy="102.1" r="2.8"/><circle cx="1484.9" cy="114.8" r="2.8"/><circle cx="1485.6" cy="109.2" r="2.8"/><circle cx="1486.2" cy="106.4" r="2.8"/><circle cx="1487.3" cy="109.5" r="2.8"/><circle cx="1487.8" cy="102.1" r="2.8"/><circle cx="1489.1" cy="108" r="2.8"/><circle cx="1490" cy="107.1" r="2.8"/><circle cx="1490.4" cy="108.5" r="2.8"/><circle cx="1491.5" cy="109.5" r="2.8"/><circle cx="1492.1" cy="119.3" r="2.8"/><circle cx="1493.2" cy="106.4" r="2.8"/><circle cx="1493.9" cy="111.2" r="2.8"/><circle cx="1494.6" cy="99" r="2.8"/><circle cx="1495.7" cy="112.2" r="2.8"/><circle cx="1496.4" cy="101.2" r="2.8"/><circle cx="1497.1" cy="117.4" r="2.8"/><circle cx="1498.1" cy="95" r="2.8"/><circle cx="1498.7" cy="98.1" r="2.8"/><circle cx="1499.4" cy="101.3" r="2.8"/><circle cx="1500.4" cy="114.8" r="2.8"/><circle cx="1501.5" cy="107.5" r="2.8"/><circle cx="1502.2" cy="96.4" r="2.8"/><circle cx="1502.9" cy="121.6" r="2.8"/><circle cx="1503.6" cy="103.2" r="2.8"/><circle cx="1504.8" cy="117.7" r="2.8"/><circle cx="1505.6" cy="121.5" r="2.8"/><circle cx="1506.3" cy="116.4" r="2.8"/><circle cx="1507.1" cy="105.7" r="2.8"/><circle cx="1508.1" cy="99.5" r="2.8"/><circle cx="1508.8" cy="114.2" r="2.8"/><circle cx="1509.5" cy="106.4" r="2.8"/><circle cx="1510.5" cy="108" r="2.8"/><circle cx="1511.3" cy="97.7" r="2.8"/><circle cx="1511.9" cy="119.2" r="2.8"/><circle cx="1512.9" cy="113.8" r="2.8"/><circle cx="1513.7" cy="112.2" r="2.8"/><circle cx="1514.3" cy="95.1" r="2.8"/><circle cx="1515.5" cy="115.6" r="2.8"/><circle cx="1516.2" cy="117.2" r="2.8"/><circle cx="1517.2" cy="115.3" r="2.8"/><circle cx="1517.8" cy="108.9" r="2.8"/><circle cx="1518.6" cy="113.6" r="2.8"/><circle cx="1519.6" cy="108.8" r="2.8"/><circle cx="1520.3" cy="105" r="2.8"/><circle cx="1521.4" cy="109.8" r="2.8"/><circle cx="1521.8" cy="103.5" r="2.8"/><circle cx="1522.8" cy="103.3" r="2.8"/><circle cx="1523.5" cy="116.8" r="2.8"/><circle cx="1524.6" cy="96" r="2.8"/><circle cx="1525.3" cy="109.4" r="2.8"/><circle cx="1525.9" cy="114.3" r="2.8"/><circle cx="1526.8" cy="113.2" r="2.8"/><circle cx="1527.9" cy="110" r="2.8"/><circle cx="1528.6" cy="105.2" r="2.8"/><circle cx="1529.5" cy="99.8" r="2.8"/><circle cx="1530.4" cy="120" r="2.8"/><circle cx="1531.2" cy="106.6" r="2.8"/><circle cx="1532.1" cy="103.6" r="2.8"/><circle cx="1532.7" cy="103.7" r="2.8"/><circle cx="1533.7" cy="92.8" r="2.8"/><circle cx="1534.6" cy="94.6" r="2.8"/><circle cx="1535.4" cy="116.2" r="2.8"/><circle cx="1536.2" cy="110" r="2.8"/><circle cx="1536.8" cy="118" r="2.8"/><circle cx="1537.6" cy="107" r="2.8"/><circle cx="1538.8" cy="105.7" r="2.8"/><circle cx="1539.2" cy="101.2" r="2.8"/><circle cx="1540.1" cy="97.5" r="2.8"/><circle cx="1541.2" cy="106.5" r="2.8"/><circle cx="1541.7" cy="101.9" r="2.8"/><circle cx="1542.7" cy="98.5" r="2.8"/><circle cx="1543.5" cy="96.6" r="2.8"/><circle cx="1544.5" cy="106" r="2.8"/><circle cx="1545.3" cy="105.9" r="2.8"/><circle cx="1545.9" cy="103.8" r="2.8"/><circle cx="1546.9" cy="105.7" r="2.8"/><circle cx="1547.5" cy="102.9" r="2.8"/><circle cx="1548.5" cy="89.9" r="2.8"/><circle cx="1549.1" cy="105.6" r="2.8"/><circle cx="1550.3" cy="98.1" r="2.8"/><circle cx="1551" cy="91.5" r="2.8"/><circle cx="1551.7" cy="90.7" r="2.8"/></g>
</g>
<path d="M1178.5 577.5v4.1M1337.5 577.5v4.1M1496.5 577.5v4.1M1151.5 577.5h-4.4M1151.5 505.5h-4.4M1151.5 434.5h-4.4M1151.5 362.5h-4.4M1151.5 290.5h-4.4M1151.5 219.5h-4.4M1151.5 147.5h-4.4M1151.5 75.5h-4.4" stroke="#000" stroke-width="1.1" fill="none"/>
<rect x="1151.5" y="40.5" width="419" height="537" fill="none" stroke="#000" stroke-width="1.1"/>
<g font-size="27.8" text-anchor="end"><text transform="translate(1142.1 586.5) scale(1.0 1.05)">30</text><text transform="translate(1142.1 514.9) scale(1.0 1.05)">32</text><text transform="translate(1142.1 443.2) scale(1.0 1.05)">34</text><text transform="translate(1142.1 371.5) scale(1.0 1.05)">36</text><text transform="translate(1142.1 299.8) scale(1.0 1.05)">38</text><text transform="translate(1142.1 228.1) scale(1.0 1.05)">40</text><text transform="translate(1142.1 156.5) scale(1.0 1.05)">42</text><text transform="translate(1142.1 84.8) scale(1.0 1.05)">44</text></g>
<g font-size="27.8" text-anchor="middle"><text transform="translate(1177.4 603.9) scale(0.976 1.05)">00:00</text><text transform="translate(1336.4 603.9) scale(0.976 1.05)">06:00</text><text transform="translate(1495.5 603.9) scale(0.976 1.05)">12:00</text></g>
<text font-size="33.3" text-anchor="middle" letter-spacing="0" transform="translate(1103.4 309) rotate(-90)">Long. luminous region (mm)</text>
</g>
</svg>
</body></html>
